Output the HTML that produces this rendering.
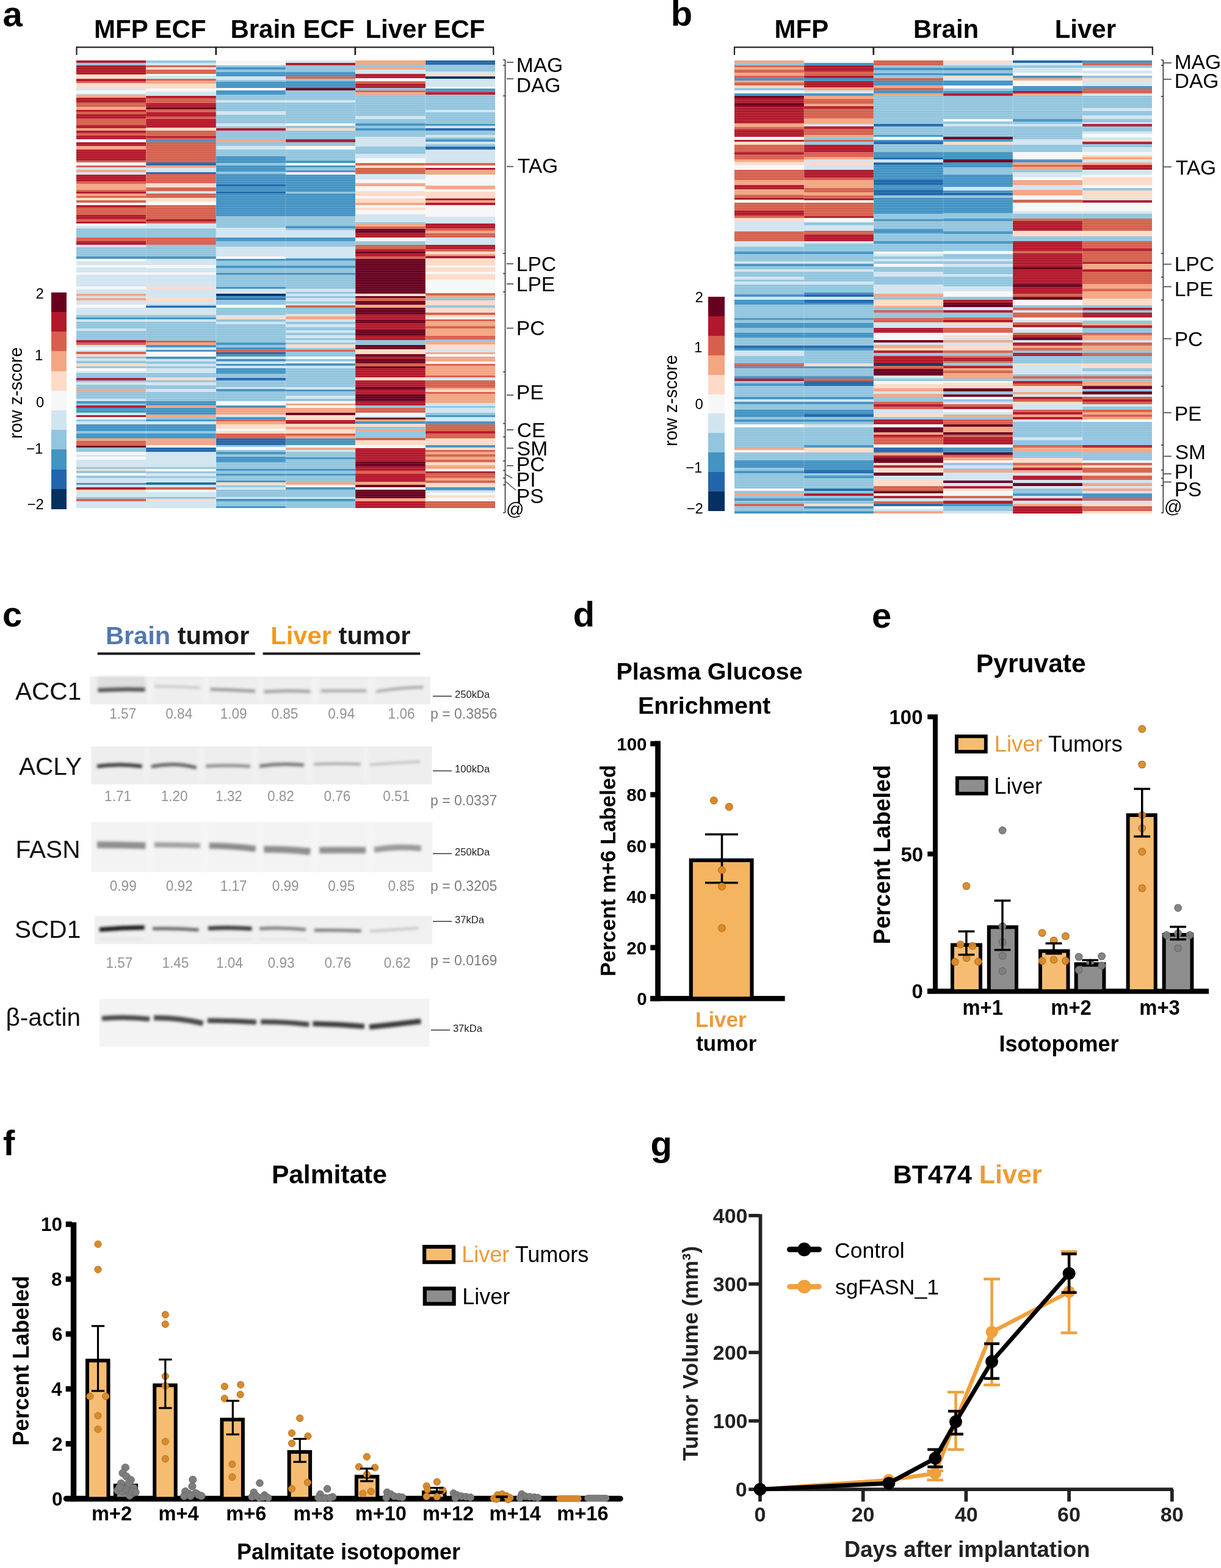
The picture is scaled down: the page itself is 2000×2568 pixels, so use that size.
<!DOCTYPE html>
<html><head><meta charset="utf-8"><title>Figure</title>
<style>
html,body{margin:0;padding:0;background:#fff;}
svg{display:block;}
text{font-family:"Liberation Sans",Arial,sans-serif;}
</style></head>
<body>
<svg width="2000" height="2568" viewBox="0 0 2000 2568">
<rect width="2000" height="2568" fill="#fff"/>
<g shape-rendering="crispEdges">
<rect x="125.00" y="99.00" width="114.63" height="4.30" fill="#b2182b"/>
<rect x="125.00" y="103.00" width="114.63" height="4.30" fill="#92c5de"/>
<rect x="125.00" y="107.00" width="114.63" height="15.30" fill="#b2182b"/>
<rect x="125.00" y="122.00" width="114.63" height="7.30" fill="#fddbc7"/>
<rect x="125.00" y="129.00" width="114.63" height="4.30" fill="#b2182b"/>
<rect x="125.00" y="133.00" width="114.63" height="3.30" fill="#d6604d"/>
<rect x="125.00" y="136.00" width="114.63" height="9.30" fill="#fddbc7"/>
<rect x="125.00" y="145.00" width="114.63" height="3.30" fill="#d1e5f0"/>
<rect x="125.00" y="148.00" width="114.63" height="5.30" fill="#f7f7f7"/>
<rect x="125.00" y="153.00" width="114.63" height="2.30" fill="#d1e5f0"/>
<rect x="125.00" y="155.00" width="114.63" height="5.30" fill="#f4a582"/>
<rect x="125.00" y="160.00" width="114.63" height="8.30" fill="#b2182b"/>
<rect x="125.00" y="168.00" width="114.63" height="7.30" fill="#d6604d"/>
<rect x="125.00" y="175.00" width="114.63" height="5.30" fill="#f4a582"/>
<rect x="125.00" y="180.00" width="114.63" height="3.30" fill="#b2182b"/>
<rect x="125.00" y="183.00" width="114.63" height="4.30" fill="#d6604d"/>
<rect x="125.00" y="187.00" width="114.63" height="7.30" fill="#b2182b"/>
<rect x="125.00" y="194.00" width="114.63" height="11.30" fill="#d6604d"/>
<rect x="125.00" y="205.00" width="114.63" height="5.30" fill="#b2182b"/>
<rect x="125.00" y="210.00" width="114.63" height="4.30" fill="#f4a582"/>
<rect x="125.00" y="214.00" width="114.63" height="4.30" fill="#b2182b"/>
<rect x="125.00" y="218.00" width="114.63" height="4.30" fill="#d6604d"/>
<rect x="125.00" y="222.00" width="114.63" height="6.30" fill="#b2182b"/>
<rect x="125.00" y="228.00" width="114.63" height="5.30" fill="#f7f7f7"/>
<rect x="125.00" y="233.00" width="114.63" height="6.30" fill="#b2182b"/>
<rect x="125.00" y="239.00" width="114.63" height="6.30" fill="#f4a582"/>
<rect x="125.00" y="245.00" width="114.63" height="18.30" fill="#b2182b"/>
<rect x="125.00" y="263.00" width="114.63" height="3.30" fill="#d6604d"/>
<rect x="125.00" y="266.00" width="114.63" height="5.30" fill="#f7f7f7"/>
<rect x="125.00" y="271.00" width="114.63" height="3.30" fill="#d6604d"/>
<rect x="125.00" y="274.00" width="114.63" height="4.30" fill="#d1e5f0"/>
<rect x="125.00" y="278.00" width="114.63" height="4.30" fill="#f4a582"/>
<rect x="125.00" y="282.00" width="114.63" height="4.30" fill="#d1e5f0"/>
<rect x="125.00" y="286.00" width="114.63" height="11.30" fill="#b2182b"/>
<rect x="125.00" y="297.00" width="114.63" height="4.30" fill="#d6604d"/>
<rect x="125.00" y="301.00" width="114.63" height="10.30" fill="#f4a582"/>
<rect x="125.00" y="311.00" width="114.63" height="3.30" fill="#d6604d"/>
<rect x="125.00" y="314.00" width="114.63" height="3.30" fill="#b2182b"/>
<rect x="125.00" y="317.00" width="114.63" height="4.30" fill="#f4a582"/>
<rect x="125.00" y="321.00" width="114.63" height="3.30" fill="#d6604d"/>
<rect x="125.00" y="324.00" width="114.63" height="4.30" fill="#fddbc7"/>
<rect x="125.00" y="328.00" width="114.63" height="4.30" fill="#d6604d"/>
<rect x="125.00" y="332.00" width="114.63" height="4.30" fill="#f7f7f7"/>
<rect x="125.00" y="336.00" width="114.63" height="4.30" fill="#b2182b"/>
<rect x="125.00" y="340.00" width="114.63" height="12.30" fill="#d6604d"/>
<rect x="125.00" y="352.00" width="114.63" height="7.30" fill="#b2182b"/>
<rect x="125.00" y="359.00" width="114.63" height="4.30" fill="#d6604d"/>
<rect x="125.00" y="363.00" width="114.63" height="3.30" fill="#b2182b"/>
<rect x="125.00" y="366.00" width="114.63" height="4.30" fill="#f7f7f7"/>
<rect x="125.00" y="370.00" width="114.63" height="4.30" fill="#d1e5f0"/>
<rect x="125.00" y="374.00" width="114.63" height="15.30" fill="#92c5de"/>
<rect x="125.00" y="389.00" width="114.63" height="6.30" fill="#d6604d"/>
<rect x="125.00" y="395.00" width="114.63" height="6.30" fill="#b2182b"/>
<rect x="125.00" y="401.00" width="114.63" height="4.30" fill="#d1e5f0"/>
<rect x="125.00" y="405.00" width="114.63" height="15.30" fill="#92c5de"/>
<rect x="125.00" y="420.00" width="114.63" height="4.30" fill="#4393c3"/>
<rect x="125.00" y="424.00" width="114.63" height="4.30" fill="#f7f7f7"/>
<rect x="125.00" y="428.00" width="114.63" height="6.30" fill="#d1e5f0"/>
<rect x="125.00" y="434.00" width="114.63" height="4.30" fill="#f7f7f7"/>
<rect x="125.00" y="438.00" width="114.63" height="8.30" fill="#d1e5f0"/>
<rect x="125.00" y="446.00" width="114.63" height="4.30" fill="#f7f7f7"/>
<rect x="125.00" y="450.00" width="114.63" height="19.30" fill="#d1e5f0"/>
<rect x="125.00" y="469.00" width="114.63" height="5.30" fill="#f7f7f7"/>
<rect x="125.00" y="474.00" width="114.63" height="7.30" fill="#d1e5f0"/>
<rect x="125.00" y="481.00" width="114.63" height="4.30" fill="#f4a582"/>
<rect x="125.00" y="485.00" width="114.63" height="3.30" fill="#d1e5f0"/>
<rect x="125.00" y="488.00" width="114.63" height="4.30" fill="#f4a582"/>
<rect x="125.00" y="492.00" width="114.63" height="7.30" fill="#d1e5f0"/>
<rect x="125.00" y="499.00" width="114.63" height="5.30" fill="#f7f7f7"/>
<rect x="125.00" y="504.00" width="114.63" height="12.30" fill="#d1e5f0"/>
<rect x="125.00" y="516.00" width="114.63" height="4.30" fill="#92c5de"/>
<rect x="125.00" y="520.00" width="114.63" height="3.30" fill="#4393c3"/>
<rect x="125.00" y="523.00" width="114.63" height="4.30" fill="#d1e5f0"/>
<rect x="125.00" y="527.00" width="114.63" height="11.30" fill="#92c5de"/>
<rect x="125.00" y="538.00" width="114.63" height="4.30" fill="#d1e5f0"/>
<rect x="125.00" y="542.00" width="114.63" height="15.30" fill="#92c5de"/>
<rect x="125.00" y="557.00" width="114.63" height="4.30" fill="#b2182b"/>
<rect x="125.00" y="561.00" width="114.63" height="4.30" fill="#d6604d"/>
<rect x="125.00" y="565.00" width="114.63" height="4.30" fill="#d1e5f0"/>
<rect x="125.00" y="569.00" width="114.63" height="4.30" fill="#f7f7f7"/>
<rect x="125.00" y="573.00" width="114.63" height="3.30" fill="#d1e5f0"/>
<rect x="125.00" y="576.00" width="114.63" height="4.30" fill="#d6604d"/>
<rect x="125.00" y="580.00" width="114.63" height="4.30" fill="#fddbc7"/>
<rect x="125.00" y="584.00" width="114.63" height="3.30" fill="#92c5de"/>
<rect x="125.00" y="587.00" width="114.63" height="4.30" fill="#d1e5f0"/>
<rect x="125.00" y="591.00" width="114.63" height="4.30" fill="#92c5de"/>
<rect x="125.00" y="595.00" width="114.63" height="5.30" fill="#fddbc7"/>
<rect x="125.00" y="600.00" width="114.63" height="3.30" fill="#92c5de"/>
<rect x="125.00" y="603.00" width="114.63" height="5.30" fill="#f7f7f7"/>
<rect x="125.00" y="608.00" width="114.63" height="3.30" fill="#d1e5f0"/>
<rect x="125.00" y="611.00" width="114.63" height="8.30" fill="#92c5de"/>
<rect x="125.00" y="619.00" width="114.63" height="4.30" fill="#b2182b"/>
<rect x="125.00" y="623.00" width="114.63" height="3.30" fill="#92c5de"/>
<rect x="125.00" y="626.00" width="114.63" height="4.30" fill="#d1e5f0"/>
<rect x="125.00" y="630.00" width="114.63" height="7.30" fill="#92c5de"/>
<rect x="125.00" y="637.00" width="114.63" height="5.30" fill="#f4a582"/>
<rect x="125.00" y="642.00" width="114.63" height="11.30" fill="#92c5de"/>
<rect x="125.00" y="653.00" width="114.63" height="4.30" fill="#d1e5f0"/>
<rect x="125.00" y="657.00" width="114.63" height="4.30" fill="#4393c3"/>
<rect x="125.00" y="661.00" width="114.63" height="3.30" fill="#92c5de"/>
<rect x="125.00" y="664.00" width="114.63" height="4.30" fill="#b2182b"/>
<rect x="125.00" y="668.00" width="114.63" height="8.30" fill="#4393c3"/>
<rect x="125.00" y="676.00" width="114.63" height="4.30" fill="#d1e5f0"/>
<rect x="125.00" y="680.00" width="114.63" height="3.30" fill="#b2182b"/>
<rect x="125.00" y="683.00" width="114.63" height="4.30" fill="#f7f7f7"/>
<rect x="125.00" y="687.00" width="114.63" height="3.30" fill="#92c5de"/>
<rect x="125.00" y="690.00" width="114.63" height="5.30" fill="#d1e5f0"/>
<rect x="125.00" y="695.00" width="114.63" height="11.30" fill="#4393c3"/>
<rect x="125.00" y="706.00" width="114.63" height="4.30" fill="#92c5de"/>
<rect x="125.00" y="710.00" width="114.63" height="8.30" fill="#4393c3"/>
<rect x="125.00" y="718.00" width="114.63" height="4.30" fill="#f4a582"/>
<rect x="125.00" y="722.00" width="114.63" height="8.30" fill="#d6604d"/>
<rect x="125.00" y="730.00" width="114.63" height="3.30" fill="#67001f"/>
<rect x="125.00" y="733.00" width="114.63" height="7.30" fill="#92c5de"/>
<rect x="125.00" y="740.00" width="114.63" height="5.30" fill="#f7f7f7"/>
<rect x="125.00" y="745.00" width="114.63" height="3.30" fill="#d1e5f0"/>
<rect x="125.00" y="748.00" width="114.63" height="5.30" fill="#f7f7f7"/>
<rect x="125.00" y="753.00" width="114.63" height="12.30" fill="#d1e5f0"/>
<rect x="125.00" y="765.00" width="114.63" height="3.30" fill="#92c5de"/>
<rect x="125.00" y="768.00" width="114.63" height="3.30" fill="#fddbc7"/>
<rect x="125.00" y="771.00" width="114.63" height="4.30" fill="#92c5de"/>
<rect x="125.00" y="775.00" width="114.63" height="4.30" fill="#f7f7f7"/>
<rect x="125.00" y="779.00" width="114.63" height="4.30" fill="#92c5de"/>
<rect x="125.00" y="783.00" width="114.63" height="8.30" fill="#d1e5f0"/>
<rect x="125.00" y="791.00" width="114.63" height="3.30" fill="#4393c3"/>
<rect x="125.00" y="794.00" width="114.63" height="4.30" fill="#d1e5f0"/>
<rect x="125.00" y="798.00" width="114.63" height="4.30" fill="#b2182b"/>
<rect x="125.00" y="802.00" width="114.63" height="4.30" fill="#fddbc7"/>
<rect x="125.00" y="806.00" width="114.63" height="8.30" fill="#d1e5f0"/>
<rect x="125.00" y="814.00" width="114.63" height="3.30" fill="#92c5de"/>
<rect x="125.00" y="817.00" width="114.63" height="4.30" fill="#d6604d"/>
<rect x="125.00" y="821.00" width="114.63" height="11.30" fill="#d1e5f0"/>
<rect x="239.33" y="99.00" width="114.63" height="4.30" fill="#92c5de"/>
<rect x="239.33" y="103.00" width="114.63" height="4.30" fill="#d1e5f0"/>
<rect x="239.33" y="107.00" width="114.63" height="3.30" fill="#d6604d"/>
<rect x="239.33" y="110.00" width="114.63" height="4.30" fill="#fddbc7"/>
<rect x="239.33" y="114.00" width="114.63" height="7.30" fill="#d6604d"/>
<rect x="239.33" y="121.00" width="114.63" height="3.30" fill="#f7f7f7"/>
<rect x="239.33" y="124.00" width="114.63" height="5.30" fill="#d1e5f0"/>
<rect x="239.33" y="129.00" width="114.63" height="3.30" fill="#d6604d"/>
<rect x="239.33" y="132.00" width="114.63" height="5.30" fill="#f4a582"/>
<rect x="239.33" y="137.00" width="114.63" height="8.30" fill="#fddbc7"/>
<rect x="239.33" y="145.00" width="114.63" height="5.30" fill="#f7f7f7"/>
<rect x="239.33" y="150.00" width="114.63" height="7.30" fill="#d1e5f0"/>
<rect x="239.33" y="157.00" width="114.63" height="4.30" fill="#b2182b"/>
<rect x="239.33" y="161.00" width="114.63" height="8.30" fill="#d6604d"/>
<rect x="239.33" y="169.00" width="114.63" height="7.30" fill="#b2182b"/>
<rect x="239.33" y="176.00" width="114.63" height="3.30" fill="#67001f"/>
<rect x="239.33" y="179.00" width="114.63" height="5.30" fill="#d6604d"/>
<rect x="239.33" y="184.00" width="114.63" height="7.30" fill="#b2182b"/>
<rect x="239.33" y="191.00" width="114.63" height="4.30" fill="#d6604d"/>
<rect x="239.33" y="195.00" width="114.63" height="14.30" fill="#b2182b"/>
<rect x="239.33" y="209.00" width="114.63" height="5.30" fill="#fddbc7"/>
<rect x="239.33" y="214.00" width="114.63" height="9.30" fill="#d6604d"/>
<rect x="239.33" y="223.00" width="114.63" height="3.30" fill="#b2182b"/>
<rect x="239.33" y="226.00" width="114.63" height="2.30" fill="#d6604d"/>
<rect x="239.33" y="228.00" width="114.63" height="5.30" fill="#4393c3"/>
<rect x="239.33" y="233.00" width="114.63" height="33.30" fill="#d6604d"/>
<rect x="239.33" y="266.00" width="114.63" height="5.30" fill="#2166ac"/>
<rect x="239.33" y="271.00" width="114.63" height="4.30" fill="#f4a582"/>
<rect x="239.33" y="275.00" width="114.63" height="7.30" fill="#d1e5f0"/>
<rect x="239.33" y="282.00" width="114.63" height="3.30" fill="#2166ac"/>
<rect x="239.33" y="285.00" width="114.63" height="15.30" fill="#d6604d"/>
<rect x="239.33" y="300.00" width="114.63" height="7.30" fill="#fddbc7"/>
<rect x="239.33" y="307.00" width="114.63" height="6.30" fill="#d6604d"/>
<rect x="239.33" y="313.00" width="114.63" height="4.30" fill="#d1e5f0"/>
<rect x="239.33" y="317.00" width="114.63" height="7.30" fill="#d6604d"/>
<rect x="239.33" y="324.00" width="114.63" height="6.30" fill="#fddbc7"/>
<rect x="239.33" y="330.00" width="114.63" height="6.30" fill="#f7f7f7"/>
<rect x="239.33" y="336.00" width="114.63" height="23.30" fill="#d6604d"/>
<rect x="239.33" y="359.00" width="114.63" height="4.30" fill="#b2182b"/>
<rect x="239.33" y="363.00" width="114.63" height="3.30" fill="#d6604d"/>
<rect x="239.33" y="366.00" width="114.63" height="8.30" fill="#d1e5f0"/>
<rect x="239.33" y="374.00" width="114.63" height="15.30" fill="#92c5de"/>
<rect x="239.33" y="389.00" width="114.63" height="12.30" fill="#d6604d"/>
<rect x="239.33" y="401.00" width="114.63" height="19.30" fill="#92c5de"/>
<rect x="239.33" y="420.00" width="114.63" height="4.30" fill="#4393c3"/>
<rect x="239.33" y="424.00" width="114.63" height="10.30" fill="#d1e5f0"/>
<rect x="239.33" y="434.00" width="114.63" height="5.30" fill="#f7f7f7"/>
<rect x="239.33" y="439.00" width="114.63" height="7.30" fill="#d1e5f0"/>
<rect x="239.33" y="446.00" width="114.63" height="4.30" fill="#f7f7f7"/>
<rect x="239.33" y="450.00" width="114.63" height="19.30" fill="#d1e5f0"/>
<rect x="239.33" y="469.00" width="114.63" height="5.30" fill="#fddbc7"/>
<rect x="239.33" y="474.00" width="114.63" height="13.30" fill="#d1e5f0"/>
<rect x="239.33" y="487.00" width="114.63" height="7.30" fill="#fddbc7"/>
<rect x="239.33" y="494.00" width="114.63" height="5.30" fill="#d1e5f0"/>
<rect x="239.33" y="499.00" width="114.63" height="2.30" fill="#92c5de"/>
<rect x="239.33" y="501.00" width="114.63" height="3.30" fill="#2166ac"/>
<rect x="239.33" y="504.00" width="114.63" height="12.30" fill="#d1e5f0"/>
<rect x="239.33" y="516.00" width="114.63" height="4.30" fill="#92c5de"/>
<rect x="239.33" y="520.00" width="114.63" height="3.30" fill="#4393c3"/>
<rect x="239.33" y="523.00" width="114.63" height="4.30" fill="#d1e5f0"/>
<rect x="239.33" y="527.00" width="114.63" height="31.30" fill="#92c5de"/>
<rect x="239.33" y="558.00" width="114.63" height="3.30" fill="#d6604d"/>
<rect x="239.33" y="561.00" width="114.63" height="4.30" fill="#f4a582"/>
<rect x="239.33" y="565.00" width="114.63" height="4.30" fill="#4393c3"/>
<rect x="239.33" y="569.00" width="114.63" height="4.30" fill="#d1e5f0"/>
<rect x="239.33" y="573.00" width="114.63" height="3.30" fill="#4393c3"/>
<rect x="239.33" y="576.00" width="114.63" height="8.30" fill="#f7f7f7"/>
<rect x="239.33" y="584.00" width="114.63" height="4.30" fill="#4393c3"/>
<rect x="239.33" y="588.00" width="114.63" height="4.30" fill="#d1e5f0"/>
<rect x="239.33" y="592.00" width="114.63" height="4.30" fill="#92c5de"/>
<rect x="239.33" y="596.00" width="114.63" height="4.30" fill="#d1e5f0"/>
<rect x="239.33" y="600.00" width="114.63" height="3.30" fill="#92c5de"/>
<rect x="239.33" y="603.00" width="114.63" height="8.30" fill="#d1e5f0"/>
<rect x="239.33" y="611.00" width="114.63" height="7.30" fill="#92c5de"/>
<rect x="239.33" y="618.00" width="114.63" height="5.30" fill="#fddbc7"/>
<rect x="239.33" y="623.00" width="114.63" height="3.30" fill="#92c5de"/>
<rect x="239.33" y="626.00" width="114.63" height="5.30" fill="#d1e5f0"/>
<rect x="239.33" y="631.00" width="114.63" height="6.30" fill="#92c5de"/>
<rect x="239.33" y="637.00" width="114.63" height="5.30" fill="#d1e5f0"/>
<rect x="239.33" y="642.00" width="114.63" height="15.30" fill="#92c5de"/>
<rect x="239.33" y="657.00" width="114.63" height="7.30" fill="#4393c3"/>
<rect x="239.33" y="664.00" width="114.63" height="4.30" fill="#f4a582"/>
<rect x="239.33" y="668.00" width="114.63" height="11.30" fill="#4393c3"/>
<rect x="239.33" y="679.00" width="114.63" height="5.30" fill="#f4a582"/>
<rect x="239.33" y="684.00" width="114.63" height="3.30" fill="#92c5de"/>
<rect x="239.33" y="687.00" width="114.63" height="3.30" fill="#4393c3"/>
<rect x="239.33" y="690.00" width="114.63" height="5.30" fill="#d1e5f0"/>
<rect x="239.33" y="695.00" width="114.63" height="11.30" fill="#4393c3"/>
<rect x="239.33" y="706.00" width="114.63" height="4.30" fill="#92c5de"/>
<rect x="239.33" y="710.00" width="114.63" height="8.30" fill="#4393c3"/>
<rect x="239.33" y="718.00" width="114.63" height="11.30" fill="#f4a582"/>
<rect x="239.33" y="729.00" width="114.63" height="4.30" fill="#f7f7f7"/>
<rect x="239.33" y="733.00" width="114.63" height="7.30" fill="#2166ac"/>
<rect x="239.33" y="740.00" width="114.63" height="25.30" fill="#d1e5f0"/>
<rect x="239.33" y="765.00" width="114.63" height="3.30" fill="#92c5de"/>
<rect x="239.33" y="768.00" width="114.63" height="4.30" fill="#f7f7f7"/>
<rect x="239.33" y="772.00" width="114.63" height="3.30" fill="#92c5de"/>
<rect x="239.33" y="775.00" width="114.63" height="5.30" fill="#d1e5f0"/>
<rect x="239.33" y="780.00" width="114.63" height="3.30" fill="#92c5de"/>
<rect x="239.33" y="783.00" width="114.63" height="7.30" fill="#d1e5f0"/>
<rect x="239.33" y="790.00" width="114.63" height="4.30" fill="#2166ac"/>
<rect x="239.33" y="794.00" width="114.63" height="4.30" fill="#d1e5f0"/>
<rect x="239.33" y="798.00" width="114.63" height="4.30" fill="#d6604d"/>
<rect x="239.33" y="802.00" width="114.63" height="4.30" fill="#f7f7f7"/>
<rect x="239.33" y="806.00" width="114.63" height="8.30" fill="#d1e5f0"/>
<rect x="239.33" y="814.00" width="114.63" height="3.30" fill="#92c5de"/>
<rect x="239.33" y="817.00" width="114.63" height="4.30" fill="#fddbc7"/>
<rect x="239.33" y="821.00" width="114.63" height="11.30" fill="#d1e5f0"/>
<rect x="353.67" y="99.00" width="114.63" height="8.30" fill="#f7f7f7"/>
<rect x="353.67" y="107.00" width="114.63" height="3.30" fill="#92c5de"/>
<rect x="353.67" y="110.00" width="114.63" height="4.30" fill="#4393c3"/>
<rect x="353.67" y="114.00" width="114.63" height="4.30" fill="#92c5de"/>
<rect x="353.67" y="118.00" width="114.63" height="7.30" fill="#4393c3"/>
<rect x="353.67" y="125.00" width="114.63" height="6.30" fill="#d1e5f0"/>
<rect x="353.67" y="131.00" width="114.63" height="3.30" fill="#92c5de"/>
<rect x="353.67" y="134.00" width="114.63" height="10.30" fill="#4393c3"/>
<rect x="353.67" y="144.00" width="114.63" height="4.30" fill="#f7f7f7"/>
<rect x="353.67" y="148.00" width="114.63" height="7.30" fill="#4393c3"/>
<rect x="353.67" y="155.00" width="114.63" height="9.30" fill="#92c5de"/>
<rect x="353.67" y="164.00" width="114.63" height="4.30" fill="#d1e5f0"/>
<rect x="353.67" y="168.00" width="114.63" height="14.30" fill="#92c5de"/>
<rect x="353.67" y="182.00" width="114.63" height="6.30" fill="#d1e5f0"/>
<rect x="353.67" y="188.00" width="114.63" height="14.30" fill="#92c5de"/>
<rect x="353.67" y="202.00" width="114.63" height="5.30" fill="#d1e5f0"/>
<rect x="353.67" y="207.00" width="114.63" height="3.30" fill="#92c5de"/>
<rect x="353.67" y="210.00" width="114.63" height="4.30" fill="#b2182b"/>
<rect x="353.67" y="214.00" width="114.63" height="14.30" fill="#92c5de"/>
<rect x="353.67" y="228.00" width="114.63" height="5.30" fill="#f4a582"/>
<rect x="353.67" y="233.00" width="114.63" height="6.30" fill="#92c5de"/>
<rect x="353.67" y="239.00" width="114.63" height="6.30" fill="#d1e5f0"/>
<rect x="353.67" y="245.00" width="114.63" height="11.30" fill="#92c5de"/>
<rect x="353.67" y="256.00" width="114.63" height="11.30" fill="#4393c3"/>
<rect x="353.67" y="267.00" width="114.63" height="4.30" fill="#92c5de"/>
<rect x="353.67" y="271.00" width="114.63" height="10.30" fill="#4393c3"/>
<rect x="353.67" y="281.00" width="114.63" height="4.30" fill="#92c5de"/>
<rect x="353.67" y="285.00" width="114.63" height="17.30" fill="#4393c3"/>
<rect x="353.67" y="302.00" width="114.63" height="3.30" fill="#2166ac"/>
<rect x="353.67" y="305.00" width="114.63" height="9.30" fill="#4393c3"/>
<rect x="353.67" y="314.00" width="114.63" height="3.30" fill="#2166ac"/>
<rect x="353.67" y="317.00" width="114.63" height="37.30" fill="#4393c3"/>
<rect x="353.67" y="354.00" width="114.63" height="19.30" fill="#92c5de"/>
<rect x="353.67" y="373.00" width="114.63" height="16.30" fill="#d1e5f0"/>
<rect x="353.67" y="389.00" width="114.63" height="6.30" fill="#4393c3"/>
<rect x="353.67" y="395.00" width="114.63" height="9.30" fill="#92c5de"/>
<rect x="353.67" y="404.00" width="114.63" height="16.30" fill="#d1e5f0"/>
<rect x="353.67" y="420.00" width="114.63" height="4.30" fill="#f7f7f7"/>
<rect x="353.67" y="424.00" width="114.63" height="3.30" fill="#4393c3"/>
<rect x="353.67" y="427.00" width="114.63" height="8.30" fill="#92c5de"/>
<rect x="353.67" y="435.00" width="114.63" height="4.30" fill="#4393c3"/>
<rect x="353.67" y="439.00" width="114.63" height="8.30" fill="#92c5de"/>
<rect x="353.67" y="447.00" width="114.63" height="3.30" fill="#4393c3"/>
<rect x="353.67" y="450.00" width="114.63" height="20.30" fill="#92c5de"/>
<rect x="353.67" y="470.00" width="114.63" height="3.30" fill="#4393c3"/>
<rect x="353.67" y="473.00" width="114.63" height="8.30" fill="#d1e5f0"/>
<rect x="353.67" y="481.00" width="114.63" height="4.30" fill="#053061"/>
<rect x="353.67" y="485.00" width="114.63" height="3.30" fill="#4393c3"/>
<rect x="353.67" y="488.00" width="114.63" height="3.30" fill="#2166ac"/>
<rect x="353.67" y="491.00" width="114.63" height="8.30" fill="#92c5de"/>
<rect x="353.67" y="499.00" width="114.63" height="5.30" fill="#f7f7f7"/>
<rect x="353.67" y="504.00" width="114.63" height="12.30" fill="#92c5de"/>
<rect x="353.67" y="516.00" width="114.63" height="3.30" fill="#d1e5f0"/>
<rect x="353.67" y="519.00" width="114.63" height="4.30" fill="#fddbc7"/>
<rect x="353.67" y="523.00" width="114.63" height="4.30" fill="#92c5de"/>
<rect x="353.67" y="527.00" width="114.63" height="4.30" fill="#d1e5f0"/>
<rect x="353.67" y="531.00" width="114.63" height="30.30" fill="#92c5de"/>
<rect x="353.67" y="561.00" width="114.63" height="4.30" fill="#4393c3"/>
<rect x="353.67" y="565.00" width="114.63" height="4.30" fill="#92c5de"/>
<rect x="353.67" y="569.00" width="114.63" height="3.30" fill="#4393c3"/>
<rect x="353.67" y="572.00" width="114.63" height="5.30" fill="#d6604d"/>
<rect x="353.67" y="577.00" width="114.63" height="3.30" fill="#2166ac"/>
<rect x="353.67" y="580.00" width="114.63" height="4.30" fill="#4393c3"/>
<rect x="353.67" y="584.00" width="114.63" height="4.30" fill="#d1e5f0"/>
<rect x="353.67" y="588.00" width="114.63" height="4.30" fill="#4393c3"/>
<rect x="353.67" y="592.00" width="114.63" height="4.30" fill="#d1e5f0"/>
<rect x="353.67" y="596.00" width="114.63" height="3.30" fill="#4393c3"/>
<rect x="353.67" y="599.00" width="114.63" height="4.30" fill="#d1e5f0"/>
<rect x="353.67" y="603.00" width="114.63" height="9.30" fill="#4393c3"/>
<rect x="353.67" y="612.00" width="114.63" height="7.30" fill="#92c5de"/>
<rect x="353.67" y="619.00" width="114.63" height="4.30" fill="#2166ac"/>
<rect x="353.67" y="623.00" width="114.63" height="11.30" fill="#92c5de"/>
<rect x="353.67" y="634.00" width="114.63" height="3.30" fill="#d1e5f0"/>
<rect x="353.67" y="637.00" width="114.63" height="4.30" fill="#4393c3"/>
<rect x="353.67" y="641.00" width="114.63" height="16.30" fill="#92c5de"/>
<rect x="353.67" y="657.00" width="114.63" height="7.30" fill="#f7f7f7"/>
<rect x="353.67" y="664.00" width="114.63" height="4.30" fill="#4393c3"/>
<rect x="353.67" y="668.00" width="114.63" height="11.30" fill="#f4a582"/>
<rect x="353.67" y="679.00" width="114.63" height="4.30" fill="#d1e5f0"/>
<rect x="353.67" y="683.00" width="114.63" height="4.30" fill="#4393c3"/>
<rect x="353.67" y="687.00" width="114.63" height="3.30" fill="#d6604d"/>
<rect x="353.67" y="690.00" width="114.63" height="5.30" fill="#f4a582"/>
<rect x="353.67" y="695.00" width="114.63" height="7.30" fill="#fddbc7"/>
<rect x="353.67" y="702.00" width="114.63" height="4.30" fill="#f7f7f7"/>
<rect x="353.67" y="706.00" width="114.63" height="4.30" fill="#fddbc7"/>
<rect x="353.67" y="710.00" width="114.63" height="8.30" fill="#d6604d"/>
<rect x="353.67" y="718.00" width="114.63" height="11.30" fill="#2166ac"/>
<rect x="353.67" y="729.00" width="114.63" height="3.30" fill="#92c5de"/>
<rect x="353.67" y="732.00" width="114.63" height="5.30" fill="#f7f7f7"/>
<rect x="353.67" y="737.00" width="114.63" height="3.30" fill="#92c5de"/>
<rect x="353.67" y="740.00" width="114.63" height="4.30" fill="#4393c3"/>
<rect x="353.67" y="744.00" width="114.63" height="4.30" fill="#92c5de"/>
<rect x="353.67" y="748.00" width="114.63" height="9.30" fill="#4393c3"/>
<rect x="353.67" y="757.00" width="114.63" height="11.30" fill="#92c5de"/>
<rect x="353.67" y="768.00" width="114.63" height="3.30" fill="#4393c3"/>
<rect x="353.67" y="771.00" width="114.63" height="5.30" fill="#92c5de"/>
<rect x="353.67" y="776.00" width="114.63" height="3.30" fill="#4393c3"/>
<rect x="353.67" y="779.00" width="114.63" height="8.30" fill="#92c5de"/>
<rect x="353.67" y="787.00" width="114.63" height="3.30" fill="#4393c3"/>
<rect x="353.67" y="790.00" width="114.63" height="5.30" fill="#fddbc7"/>
<rect x="353.67" y="795.00" width="114.63" height="3.30" fill="#92c5de"/>
<rect x="353.67" y="798.00" width="114.63" height="4.30" fill="#d1e5f0"/>
<rect x="353.67" y="802.00" width="114.63" height="12.30" fill="#92c5de"/>
<rect x="353.67" y="814.00" width="114.63" height="3.30" fill="#d1e5f0"/>
<rect x="353.67" y="817.00" width="114.63" height="4.30" fill="#4393c3"/>
<rect x="353.67" y="821.00" width="114.63" height="8.30" fill="#92c5de"/>
<rect x="353.67" y="829.00" width="114.63" height="3.30" fill="#4393c3"/>
<rect x="468.00" y="99.00" width="114.63" height="4.30" fill="#d1e5f0"/>
<rect x="468.00" y="103.00" width="114.63" height="4.30" fill="#b2182b"/>
<rect x="468.00" y="107.00" width="114.63" height="11.30" fill="#92c5de"/>
<rect x="468.00" y="118.00" width="114.63" height="7.30" fill="#4393c3"/>
<rect x="468.00" y="125.00" width="114.63" height="4.30" fill="#d6604d"/>
<rect x="468.00" y="129.00" width="114.63" height="4.30" fill="#92c5de"/>
<rect x="468.00" y="133.00" width="114.63" height="11.30" fill="#4393c3"/>
<rect x="468.00" y="144.00" width="114.63" height="4.30" fill="#67001f"/>
<rect x="468.00" y="148.00" width="114.63" height="16.30" fill="#92c5de"/>
<rect x="468.00" y="164.00" width="114.63" height="4.30" fill="#d1e5f0"/>
<rect x="468.00" y="168.00" width="114.63" height="34.30" fill="#92c5de"/>
<rect x="468.00" y="202.00" width="114.63" height="4.30" fill="#f7f7f7"/>
<rect x="468.00" y="206.00" width="114.63" height="4.30" fill="#92c5de"/>
<rect x="468.00" y="210.00" width="114.63" height="4.30" fill="#fddbc7"/>
<rect x="468.00" y="214.00" width="114.63" height="14.30" fill="#92c5de"/>
<rect x="468.00" y="228.00" width="114.63" height="5.30" fill="#b2182b"/>
<rect x="468.00" y="233.00" width="114.63" height="6.30" fill="#92c5de"/>
<rect x="468.00" y="239.00" width="114.63" height="6.30" fill="#f7f7f7"/>
<rect x="468.00" y="245.00" width="114.63" height="18.30" fill="#92c5de"/>
<rect x="468.00" y="263.00" width="114.63" height="4.30" fill="#4393c3"/>
<rect x="468.00" y="267.00" width="114.63" height="4.30" fill="#f7f7f7"/>
<rect x="468.00" y="271.00" width="114.63" height="3.30" fill="#4393c3"/>
<rect x="468.00" y="274.00" width="114.63" height="5.30" fill="#92c5de"/>
<rect x="468.00" y="279.00" width="114.63" height="3.30" fill="#4393c3"/>
<rect x="468.00" y="282.00" width="114.63" height="4.30" fill="#f7f7f7"/>
<rect x="468.00" y="286.00" width="114.63" height="28.30" fill="#4393c3"/>
<rect x="468.00" y="314.00" width="114.63" height="3.30" fill="#92c5de"/>
<rect x="468.00" y="317.00" width="114.63" height="37.30" fill="#4393c3"/>
<rect x="468.00" y="354.00" width="114.63" height="16.30" fill="#92c5de"/>
<rect x="468.00" y="370.00" width="114.63" height="4.30" fill="#4393c3"/>
<rect x="468.00" y="374.00" width="114.63" height="3.30" fill="#92c5de"/>
<rect x="468.00" y="377.00" width="114.63" height="12.30" fill="#d1e5f0"/>
<rect x="468.00" y="389.00" width="114.63" height="6.30" fill="#4393c3"/>
<rect x="468.00" y="395.00" width="114.63" height="9.30" fill="#92c5de"/>
<rect x="468.00" y="404.00" width="114.63" height="19.30" fill="#d1e5f0"/>
<rect x="468.00" y="423.00" width="114.63" height="4.30" fill="#4393c3"/>
<rect x="468.00" y="427.00" width="114.63" height="8.30" fill="#92c5de"/>
<rect x="468.00" y="435.00" width="114.63" height="4.30" fill="#4393c3"/>
<rect x="468.00" y="439.00" width="114.63" height="8.30" fill="#92c5de"/>
<rect x="468.00" y="447.00" width="114.63" height="3.30" fill="#4393c3"/>
<rect x="468.00" y="450.00" width="114.63" height="23.30" fill="#92c5de"/>
<rect x="468.00" y="473.00" width="114.63" height="5.30" fill="#d1e5f0"/>
<rect x="468.00" y="478.00" width="114.63" height="3.30" fill="#92c5de"/>
<rect x="468.00" y="481.00" width="114.63" height="4.30" fill="#d1e5f0"/>
<rect x="468.00" y="485.00" width="114.63" height="3.30" fill="#92c5de"/>
<rect x="468.00" y="488.00" width="114.63" height="6.30" fill="#d1e5f0"/>
<rect x="468.00" y="494.00" width="114.63" height="3.30" fill="#92c5de"/>
<rect x="468.00" y="497.00" width="114.63" height="3.30" fill="#d1e5f0"/>
<rect x="468.00" y="500.00" width="114.63" height="4.30" fill="#d6604d"/>
<rect x="468.00" y="504.00" width="114.63" height="10.30" fill="#92c5de"/>
<rect x="468.00" y="514.00" width="114.63" height="4.30" fill="#d1e5f0"/>
<rect x="468.00" y="518.00" width="114.63" height="5.30" fill="#f4a582"/>
<rect x="468.00" y="523.00" width="114.63" height="4.30" fill="#d1e5f0"/>
<rect x="468.00" y="527.00" width="114.63" height="4.30" fill="#92c5de"/>
<rect x="468.00" y="531.00" width="114.63" height="5.30" fill="#d1e5f0"/>
<rect x="468.00" y="536.00" width="114.63" height="5.30" fill="#92c5de"/>
<rect x="468.00" y="541.00" width="114.63" height="4.30" fill="#d1e5f0"/>
<rect x="468.00" y="545.00" width="114.63" height="4.30" fill="#92c5de"/>
<rect x="468.00" y="549.00" width="114.63" height="5.30" fill="#d1e5f0"/>
<rect x="468.00" y="554.00" width="114.63" height="3.30" fill="#92c5de"/>
<rect x="468.00" y="557.00" width="114.63" height="4.30" fill="#d1e5f0"/>
<rect x="468.00" y="561.00" width="114.63" height="3.30" fill="#92c5de"/>
<rect x="468.00" y="564.00" width="114.63" height="6.30" fill="#fddbc7"/>
<rect x="468.00" y="570.00" width="114.63" height="3.30" fill="#92c5de"/>
<rect x="468.00" y="573.00" width="114.63" height="3.30" fill="#d6604d"/>
<rect x="468.00" y="576.00" width="114.63" height="8.30" fill="#92c5de"/>
<rect x="468.00" y="584.00" width="114.63" height="4.30" fill="#f7f7f7"/>
<rect x="468.00" y="588.00" width="114.63" height="4.30" fill="#92c5de"/>
<rect x="468.00" y="592.00" width="114.63" height="3.30" fill="#f7f7f7"/>
<rect x="468.00" y="595.00" width="114.63" height="4.30" fill="#4393c3"/>
<rect x="468.00" y="599.00" width="114.63" height="4.30" fill="#d1e5f0"/>
<rect x="468.00" y="603.00" width="114.63" height="31.30" fill="#92c5de"/>
<rect x="468.00" y="634.00" width="114.63" height="4.30" fill="#d1e5f0"/>
<rect x="468.00" y="638.00" width="114.63" height="3.30" fill="#4393c3"/>
<rect x="468.00" y="641.00" width="114.63" height="7.30" fill="#92c5de"/>
<rect x="468.00" y="648.00" width="114.63" height="5.30" fill="#d1e5f0"/>
<rect x="468.00" y="653.00" width="114.63" height="4.30" fill="#92c5de"/>
<rect x="468.00" y="657.00" width="114.63" height="4.30" fill="#f7f7f7"/>
<rect x="468.00" y="661.00" width="114.63" height="3.30" fill="#f4a582"/>
<rect x="468.00" y="664.00" width="114.63" height="4.30" fill="#f7f7f7"/>
<rect x="468.00" y="668.00" width="114.63" height="8.30" fill="#f4a582"/>
<rect x="468.00" y="676.00" width="114.63" height="4.30" fill="#67001f"/>
<rect x="468.00" y="680.00" width="114.63" height="8.30" fill="#fddbc7"/>
<rect x="468.00" y="688.00" width="114.63" height="6.30" fill="#b2182b"/>
<rect x="468.00" y="694.00" width="114.63" height="5.30" fill="#fddbc7"/>
<rect x="468.00" y="699.00" width="114.63" height="4.30" fill="#f4a582"/>
<rect x="468.00" y="703.00" width="114.63" height="7.30" fill="#fddbc7"/>
<rect x="468.00" y="710.00" width="114.63" height="4.30" fill="#d6604d"/>
<rect x="468.00" y="714.00" width="114.63" height="4.30" fill="#f4a582"/>
<rect x="468.00" y="718.00" width="114.63" height="11.30" fill="#4393c3"/>
<rect x="468.00" y="729.00" width="114.63" height="4.30" fill="#f7f7f7"/>
<rect x="468.00" y="733.00" width="114.63" height="4.30" fill="#f4a582"/>
<rect x="468.00" y="737.00" width="114.63" height="3.30" fill="#d1e5f0"/>
<rect x="468.00" y="740.00" width="114.63" height="9.30" fill="#92c5de"/>
<rect x="468.00" y="749.00" width="114.63" height="3.30" fill="#4393c3"/>
<rect x="468.00" y="752.00" width="114.63" height="16.30" fill="#92c5de"/>
<rect x="468.00" y="768.00" width="114.63" height="3.30" fill="#4393c3"/>
<rect x="468.00" y="771.00" width="114.63" height="5.30" fill="#92c5de"/>
<rect x="468.00" y="776.00" width="114.63" height="3.30" fill="#4393c3"/>
<rect x="468.00" y="779.00" width="114.63" height="11.30" fill="#92c5de"/>
<rect x="468.00" y="790.00" width="114.63" height="4.30" fill="#f4a582"/>
<rect x="468.00" y="794.00" width="114.63" height="4.30" fill="#f7f7f7"/>
<rect x="468.00" y="798.00" width="114.63" height="4.30" fill="#4393c3"/>
<rect x="468.00" y="802.00" width="114.63" height="12.30" fill="#92c5de"/>
<rect x="468.00" y="814.00" width="114.63" height="3.30" fill="#d1e5f0"/>
<rect x="468.00" y="817.00" width="114.63" height="4.30" fill="#4393c3"/>
<rect x="468.00" y="821.00" width="114.63" height="11.30" fill="#92c5de"/>
<rect x="582.33" y="99.00" width="114.63" height="7.30" fill="#f4a582"/>
<rect x="582.33" y="106.00" width="114.63" height="4.30" fill="#92c5de"/>
<rect x="582.33" y="110.00" width="114.63" height="4.30" fill="#f4a582"/>
<rect x="582.33" y="114.00" width="114.63" height="7.30" fill="#d1e5f0"/>
<rect x="582.33" y="121.00" width="114.63" height="7.30" fill="#b2182b"/>
<rect x="582.33" y="128.00" width="114.63" height="5.30" fill="#f7f7f7"/>
<rect x="582.33" y="133.00" width="114.63" height="4.30" fill="#d6604d"/>
<rect x="582.33" y="137.00" width="114.63" height="7.30" fill="#b2182b"/>
<rect x="582.33" y="144.00" width="114.63" height="4.30" fill="#92c5de"/>
<rect x="582.33" y="148.00" width="114.63" height="3.30" fill="#d6604d"/>
<rect x="582.33" y="151.00" width="114.63" height="4.30" fill="#f4a582"/>
<rect x="582.33" y="155.00" width="114.63" height="35.30" fill="#92c5de"/>
<rect x="582.33" y="190.00" width="114.63" height="5.30" fill="#d1e5f0"/>
<rect x="582.33" y="195.00" width="114.63" height="7.30" fill="#92c5de"/>
<rect x="582.33" y="202.00" width="114.63" height="4.30" fill="#4393c3"/>
<rect x="582.33" y="206.00" width="114.63" height="4.30" fill="#92c5de"/>
<rect x="582.33" y="210.00" width="114.63" height="4.30" fill="#4393c3"/>
<rect x="582.33" y="214.00" width="114.63" height="10.30" fill="#92c5de"/>
<rect x="582.33" y="224.00" width="114.63" height="16.30" fill="#d1e5f0"/>
<rect x="582.33" y="240.00" width="114.63" height="12.30" fill="#92c5de"/>
<rect x="582.33" y="252.00" width="114.63" height="7.30" fill="#d1e5f0"/>
<rect x="582.33" y="259.00" width="114.63" height="8.30" fill="#f7f7f7"/>
<rect x="582.33" y="267.00" width="114.63" height="4.30" fill="#d6604d"/>
<rect x="582.33" y="271.00" width="114.63" height="4.30" fill="#fddbc7"/>
<rect x="582.33" y="275.00" width="114.63" height="10.30" fill="#d6604d"/>
<rect x="582.33" y="285.00" width="114.63" height="9.30" fill="#d1e5f0"/>
<rect x="582.33" y="294.00" width="114.63" height="6.30" fill="#f7f7f7"/>
<rect x="582.33" y="300.00" width="114.63" height="5.30" fill="#f4a582"/>
<rect x="582.33" y="305.00" width="114.63" height="8.30" fill="#f7f7f7"/>
<rect x="582.33" y="313.00" width="114.63" height="8.30" fill="#fddbc7"/>
<rect x="582.33" y="321.00" width="114.63" height="4.30" fill="#f7f7f7"/>
<rect x="582.33" y="325.00" width="114.63" height="7.30" fill="#fddbc7"/>
<rect x="582.33" y="332.00" width="114.63" height="4.30" fill="#f4a582"/>
<rect x="582.33" y="336.00" width="114.63" height="4.30" fill="#f7f7f7"/>
<rect x="582.33" y="340.00" width="114.63" height="4.30" fill="#fddbc7"/>
<rect x="582.33" y="344.00" width="114.63" height="7.30" fill="#f7f7f7"/>
<rect x="582.33" y="351.00" width="114.63" height="13.30" fill="#d1e5f0"/>
<rect x="582.33" y="364.00" width="114.63" height="3.30" fill="#92c5de"/>
<rect x="582.33" y="367.00" width="114.63" height="4.30" fill="#f4a582"/>
<rect x="582.33" y="371.00" width="114.63" height="4.30" fill="#d6604d"/>
<rect x="582.33" y="375.00" width="114.63" height="6.30" fill="#67001f"/>
<rect x="582.33" y="381.00" width="114.63" height="8.30" fill="#b2182b"/>
<rect x="582.33" y="389.00" width="114.63" height="6.30" fill="#f7f7f7"/>
<rect x="582.33" y="395.00" width="114.63" height="6.30" fill="#92c5de"/>
<rect x="582.33" y="401.00" width="114.63" height="7.30" fill="#d6604d"/>
<rect x="582.33" y="408.00" width="114.63" height="4.30" fill="#b2182b"/>
<rect x="582.33" y="412.00" width="114.63" height="3.30" fill="#67001f"/>
<rect x="582.33" y="415.00" width="114.63" height="5.30" fill="#b2182b"/>
<rect x="582.33" y="420.00" width="114.63" height="4.30" fill="#d6604d"/>
<rect x="582.33" y="424.00" width="114.63" height="57.30" fill="#67001f"/>
<rect x="582.33" y="481.00" width="114.63" height="4.30" fill="#fddbc7"/>
<rect x="582.33" y="485.00" width="114.63" height="3.30" fill="#67001f"/>
<rect x="582.33" y="488.00" width="114.63" height="5.30" fill="#d6604d"/>
<rect x="582.33" y="493.00" width="114.63" height="6.30" fill="#67001f"/>
<rect x="582.33" y="499.00" width="114.63" height="5.30" fill="#f4a582"/>
<rect x="582.33" y="504.00" width="114.63" height="11.30" fill="#67001f"/>
<rect x="582.33" y="515.00" width="114.63" height="9.30" fill="#b2182b"/>
<rect x="582.33" y="524.00" width="114.63" height="5.30" fill="#67001f"/>
<rect x="582.33" y="529.00" width="114.63" height="11.30" fill="#b2182b"/>
<rect x="582.33" y="540.00" width="114.63" height="10.30" fill="#67001f"/>
<rect x="582.33" y="550.00" width="114.63" height="7.30" fill="#b2182b"/>
<rect x="582.33" y="557.00" width="114.63" height="8.30" fill="#92c5de"/>
<rect x="582.33" y="565.00" width="114.63" height="7.30" fill="#67001f"/>
<rect x="582.33" y="572.00" width="114.63" height="8.30" fill="#fddbc7"/>
<rect x="582.33" y="580.00" width="114.63" height="4.30" fill="#67001f"/>
<rect x="582.33" y="584.00" width="114.63" height="4.30" fill="#b2182b"/>
<rect x="582.33" y="588.00" width="114.63" height="7.30" fill="#67001f"/>
<rect x="582.33" y="595.00" width="114.63" height="5.30" fill="#d6604d"/>
<rect x="582.33" y="600.00" width="114.63" height="3.30" fill="#67001f"/>
<rect x="582.33" y="603.00" width="114.63" height="15.30" fill="#b2182b"/>
<rect x="582.33" y="618.00" width="114.63" height="5.30" fill="#fddbc7"/>
<rect x="582.33" y="623.00" width="114.63" height="11.30" fill="#b2182b"/>
<rect x="582.33" y="634.00" width="114.63" height="4.30" fill="#67001f"/>
<rect x="582.33" y="638.00" width="114.63" height="8.30" fill="#b2182b"/>
<rect x="582.33" y="646.00" width="114.63" height="11.30" fill="#67001f"/>
<rect x="582.33" y="657.00" width="114.63" height="7.30" fill="#b2182b"/>
<rect x="582.33" y="664.00" width="114.63" height="4.30" fill="#92c5de"/>
<rect x="582.33" y="668.00" width="114.63" height="8.30" fill="#d6604d"/>
<rect x="582.33" y="676.00" width="114.63" height="5.30" fill="#f7f7f7"/>
<rect x="582.33" y="681.00" width="114.63" height="3.30" fill="#d1e5f0"/>
<rect x="582.33" y="684.00" width="114.63" height="3.30" fill="#67001f"/>
<rect x="582.33" y="687.00" width="114.63" height="3.30" fill="#f4a582"/>
<rect x="582.33" y="690.00" width="114.63" height="4.30" fill="#4393c3"/>
<rect x="582.33" y="694.00" width="114.63" height="5.30" fill="#fddbc7"/>
<rect x="582.33" y="699.00" width="114.63" height="4.30" fill="#92c5de"/>
<rect x="582.33" y="703.00" width="114.63" height="3.30" fill="#f4a582"/>
<rect x="582.33" y="706.00" width="114.63" height="11.30" fill="#92c5de"/>
<rect x="582.33" y="717.00" width="114.63" height="4.30" fill="#d6604d"/>
<rect x="582.33" y="721.00" width="114.63" height="8.30" fill="#fddbc7"/>
<rect x="582.33" y="729.00" width="114.63" height="5.30" fill="#f7f7f7"/>
<rect x="582.33" y="734.00" width="114.63" height="22.30" fill="#b2182b"/>
<rect x="582.33" y="756.00" width="114.63" height="8.30" fill="#67001f"/>
<rect x="582.33" y="764.00" width="114.63" height="7.30" fill="#b2182b"/>
<rect x="582.33" y="771.00" width="114.63" height="5.30" fill="#d6604d"/>
<rect x="582.33" y="776.00" width="114.63" height="13.30" fill="#b2182b"/>
<rect x="582.33" y="789.00" width="114.63" height="5.30" fill="#f4a582"/>
<rect x="582.33" y="794.00" width="114.63" height="4.30" fill="#67001f"/>
<rect x="582.33" y="798.00" width="114.63" height="4.30" fill="#f7f7f7"/>
<rect x="582.33" y="802.00" width="114.63" height="14.30" fill="#67001f"/>
<rect x="582.33" y="816.00" width="114.63" height="5.30" fill="#f4a582"/>
<rect x="582.33" y="821.00" width="114.63" height="11.30" fill="#b2182b"/>
<rect x="696.67" y="99.00" width="114.63" height="7.30" fill="#2166ac"/>
<rect x="696.67" y="106.00" width="114.63" height="11.30" fill="#92c5de"/>
<rect x="696.67" y="117.00" width="114.63" height="4.30" fill="#d1e5f0"/>
<rect x="696.67" y="121.00" width="114.63" height="4.30" fill="#fddbc7"/>
<rect x="696.67" y="125.00" width="114.63" height="4.30" fill="#053061"/>
<rect x="696.67" y="129.00" width="114.63" height="13.30" fill="#d1e5f0"/>
<rect x="696.67" y="142.00" width="114.63" height="3.30" fill="#f7f7f7"/>
<rect x="696.67" y="145.00" width="114.63" height="4.30" fill="#4393c3"/>
<rect x="696.67" y="149.00" width="114.63" height="2.30" fill="#d6604d"/>
<rect x="696.67" y="151.00" width="114.63" height="4.30" fill="#b2182b"/>
<rect x="696.67" y="155.00" width="114.63" height="25.30" fill="#92c5de"/>
<rect x="696.67" y="180.00" width="114.63" height="4.30" fill="#d1e5f0"/>
<rect x="696.67" y="184.00" width="114.63" height="19.30" fill="#92c5de"/>
<rect x="696.67" y="203.00" width="114.63" height="3.30" fill="#4393c3"/>
<rect x="696.67" y="206.00" width="114.63" height="4.30" fill="#d1e5f0"/>
<rect x="696.67" y="210.00" width="114.63" height="4.30" fill="#2166ac"/>
<rect x="696.67" y="214.00" width="114.63" height="7.30" fill="#92c5de"/>
<rect x="696.67" y="221.00" width="114.63" height="4.30" fill="#d1e5f0"/>
<rect x="696.67" y="225.00" width="114.63" height="3.30" fill="#92c5de"/>
<rect x="696.67" y="228.00" width="114.63" height="4.30" fill="#4393c3"/>
<rect x="696.67" y="232.00" width="114.63" height="4.30" fill="#d1e5f0"/>
<rect x="696.67" y="236.00" width="114.63" height="4.30" fill="#92c5de"/>
<rect x="696.67" y="240.00" width="114.63" height="5.30" fill="#2166ac"/>
<rect x="696.67" y="245.00" width="114.63" height="22.30" fill="#d1e5f0"/>
<rect x="696.67" y="267.00" width="114.63" height="4.30" fill="#d6604d"/>
<rect x="696.67" y="271.00" width="114.63" height="4.30" fill="#f7f7f7"/>
<rect x="696.67" y="275.00" width="114.63" height="3.30" fill="#b2182b"/>
<rect x="696.67" y="278.00" width="114.63" height="8.30" fill="#f4a582"/>
<rect x="696.67" y="286.00" width="114.63" height="18.30" fill="#f7f7f7"/>
<rect x="696.67" y="304.00" width="114.63" height="6.30" fill="#f4a582"/>
<rect x="696.67" y="310.00" width="114.63" height="4.30" fill="#f7f7f7"/>
<rect x="696.67" y="314.00" width="114.63" height="11.30" fill="#fddbc7"/>
<rect x="696.67" y="325.00" width="114.63" height="3.30" fill="#b2182b"/>
<rect x="696.67" y="328.00" width="114.63" height="4.30" fill="#f4a582"/>
<rect x="696.67" y="332.00" width="114.63" height="4.30" fill="#b2182b"/>
<rect x="696.67" y="336.00" width="114.63" height="19.30" fill="#f7f7f7"/>
<rect x="696.67" y="355.00" width="114.63" height="11.30" fill="#d1e5f0"/>
<rect x="696.67" y="366.00" width="114.63" height="8.30" fill="#b2182b"/>
<rect x="696.67" y="374.00" width="114.63" height="4.30" fill="#d6604d"/>
<rect x="696.67" y="378.00" width="114.63" height="4.30" fill="#f4a582"/>
<rect x="696.67" y="382.00" width="114.63" height="7.30" fill="#d6604d"/>
<rect x="696.67" y="389.00" width="114.63" height="12.30" fill="#d1e5f0"/>
<rect x="696.67" y="401.00" width="114.63" height="7.30" fill="#b2182b"/>
<rect x="696.67" y="408.00" width="114.63" height="4.30" fill="#d6604d"/>
<rect x="696.67" y="412.00" width="114.63" height="4.30" fill="#fddbc7"/>
<rect x="696.67" y="416.00" width="114.63" height="3.30" fill="#f4a582"/>
<rect x="696.67" y="419.00" width="114.63" height="4.30" fill="#b2182b"/>
<rect x="696.67" y="423.00" width="114.63" height="12.30" fill="#fddbc7"/>
<rect x="696.67" y="435.00" width="114.63" height="3.30" fill="#f7f7f7"/>
<rect x="696.67" y="438.00" width="114.63" height="7.30" fill="#fddbc7"/>
<rect x="696.67" y="445.00" width="114.63" height="4.30" fill="#f7f7f7"/>
<rect x="696.67" y="449.00" width="114.63" height="9.30" fill="#fddbc7"/>
<rect x="696.67" y="458.00" width="114.63" height="22.30" fill="#f7f7f7"/>
<rect x="696.67" y="480.00" width="114.63" height="4.30" fill="#d6604d"/>
<rect x="696.67" y="484.00" width="114.63" height="4.30" fill="#f4a582"/>
<rect x="696.67" y="488.00" width="114.63" height="4.30" fill="#92c5de"/>
<rect x="696.67" y="492.00" width="114.63" height="8.30" fill="#fddbc7"/>
<rect x="696.67" y="500.00" width="114.63" height="4.30" fill="#92c5de"/>
<rect x="696.67" y="504.00" width="114.63" height="8.30" fill="#fddbc7"/>
<rect x="696.67" y="512.00" width="114.63" height="4.30" fill="#d6604d"/>
<rect x="696.67" y="516.00" width="114.63" height="4.30" fill="#fddbc7"/>
<rect x="696.67" y="520.00" width="114.63" height="3.30" fill="#f7f7f7"/>
<rect x="696.67" y="523.00" width="114.63" height="3.30" fill="#d6604d"/>
<rect x="696.67" y="526.00" width="114.63" height="8.30" fill="#f4a582"/>
<rect x="696.67" y="534.00" width="114.63" height="4.30" fill="#d6604d"/>
<rect x="696.67" y="538.00" width="114.63" height="12.30" fill="#f4a582"/>
<rect x="696.67" y="550.00" width="114.63" height="6.30" fill="#d6604d"/>
<rect x="696.67" y="556.00" width="114.63" height="4.30" fill="#92c5de"/>
<rect x="696.67" y="560.00" width="114.63" height="4.30" fill="#f4a582"/>
<rect x="696.67" y="564.00" width="114.63" height="8.30" fill="#fddbc7"/>
<rect x="696.67" y="572.00" width="114.63" height="5.30" fill="#d1e5f0"/>
<rect x="696.67" y="577.00" width="114.63" height="3.30" fill="#f4a582"/>
<rect x="696.67" y="580.00" width="114.63" height="4.30" fill="#f7f7f7"/>
<rect x="696.67" y="584.00" width="114.63" height="8.30" fill="#f4a582"/>
<rect x="696.67" y="592.00" width="114.63" height="4.30" fill="#f7f7f7"/>
<rect x="696.67" y="596.00" width="114.63" height="3.30" fill="#d6604d"/>
<rect x="696.67" y="599.00" width="114.63" height="16.30" fill="#f4a582"/>
<rect x="696.67" y="615.00" width="114.63" height="3.30" fill="#d6604d"/>
<rect x="696.67" y="618.00" width="114.63" height="5.30" fill="#d1e5f0"/>
<rect x="696.67" y="623.00" width="114.63" height="12.30" fill="#d6604d"/>
<rect x="696.67" y="635.00" width="114.63" height="3.30" fill="#f4a582"/>
<rect x="696.67" y="638.00" width="114.63" height="4.30" fill="#fddbc7"/>
<rect x="696.67" y="642.00" width="114.63" height="3.30" fill="#d6604d"/>
<rect x="696.67" y="645.00" width="114.63" height="15.30" fill="#f4a582"/>
<rect x="696.67" y="660.00" width="114.63" height="5.30" fill="#d1e5f0"/>
<rect x="696.67" y="665.00" width="114.63" height="3.30" fill="#92c5de"/>
<rect x="696.67" y="668.00" width="114.63" height="8.30" fill="#d1e5f0"/>
<rect x="696.67" y="676.00" width="114.63" height="4.30" fill="#92c5de"/>
<rect x="696.67" y="680.00" width="114.63" height="3.30" fill="#4393c3"/>
<rect x="696.67" y="683.00" width="114.63" height="7.30" fill="#d1e5f0"/>
<rect x="696.67" y="690.00" width="114.63" height="5.30" fill="#4393c3"/>
<rect x="696.67" y="695.00" width="114.63" height="11.30" fill="#d6604d"/>
<rect x="696.67" y="706.00" width="114.63" height="4.30" fill="#b2182b"/>
<rect x="696.67" y="710.00" width="114.63" height="8.30" fill="#d6604d"/>
<rect x="696.67" y="718.00" width="114.63" height="11.30" fill="#fddbc7"/>
<rect x="696.67" y="729.00" width="114.63" height="4.30" fill="#4393c3"/>
<rect x="696.67" y="733.00" width="114.63" height="4.30" fill="#fddbc7"/>
<rect x="696.67" y="737.00" width="114.63" height="3.30" fill="#d6604d"/>
<rect x="696.67" y="740.00" width="114.63" height="4.30" fill="#f4a582"/>
<rect x="696.67" y="744.00" width="114.63" height="4.30" fill="#d6604d"/>
<rect x="696.67" y="748.00" width="114.63" height="5.30" fill="#f4a582"/>
<rect x="696.67" y="753.00" width="114.63" height="4.30" fill="#d6604d"/>
<rect x="696.67" y="757.00" width="114.63" height="5.30" fill="#fddbc7"/>
<rect x="696.67" y="762.00" width="114.63" height="6.30" fill="#f4a582"/>
<rect x="696.67" y="768.00" width="114.63" height="4.30" fill="#f7f7f7"/>
<rect x="696.67" y="772.00" width="114.63" height="3.30" fill="#b2182b"/>
<rect x="696.67" y="775.00" width="114.63" height="8.30" fill="#d6604d"/>
<rect x="696.67" y="783.00" width="114.63" height="4.30" fill="#f4a582"/>
<rect x="696.67" y="787.00" width="114.63" height="4.30" fill="#d6604d"/>
<rect x="696.67" y="791.00" width="114.63" height="7.30" fill="#fddbc7"/>
<rect x="696.67" y="798.00" width="114.63" height="5.30" fill="#4393c3"/>
<rect x="696.67" y="803.00" width="114.63" height="4.30" fill="#d1e5f0"/>
<rect x="696.67" y="807.00" width="114.63" height="4.30" fill="#f7f7f7"/>
<rect x="696.67" y="811.00" width="114.63" height="4.30" fill="#fddbc7"/>
<rect x="696.67" y="815.00" width="114.63" height="6.30" fill="#f7f7f7"/>
<rect x="696.67" y="821.00" width="114.63" height="11.30" fill="#d6604d"/>
</g>
<path d="M125,102.82h686M125,106.64h686M125,110.45h686M125,114.27h686M125,118.09h686M125,121.91h686M125,125.72h686M125,129.54h686M125,133.36h686M125,137.18h686M125,140.99h686M125,144.81h686M125,148.63h686M125,152.45h686M125,156.27h686M125,160.08h686M125,163.90h686M125,167.72h686M125,171.54h686M125,175.35h686M125,179.17h686M125,182.99h686M125,186.81h686M125,190.62h686M125,194.44h686M125,198.26h686M125,202.08h686M125,205.90h686M125,209.71h686M125,213.53h686M125,217.35h686M125,221.17h686M125,224.98h686M125,228.80h686M125,232.62h686M125,236.44h686M125,240.26h686M125,244.07h686M125,247.89h686M125,251.71h686M125,255.53h686M125,259.34h686M125,263.16h686M125,266.98h686M125,270.80h686M125,274.61h686M125,278.43h686M125,282.25h686M125,286.07h686M125,289.89h686M125,293.70h686M125,297.52h686M125,301.34h686M125,305.16h686M125,308.97h686M125,312.79h686M125,316.61h686M125,320.43h686M125,324.24h686M125,328.06h686M125,331.88h686M125,335.70h686M125,339.52h686M125,343.33h686M125,347.15h686M125,350.97h686M125,354.79h686M125,358.60h686M125,362.42h686M125,366.24h686M125,370.06h686M125,373.88h686M125,377.69h686M125,381.51h686M125,385.33h686M125,389.15h686M125,392.96h686M125,396.78h686M125,400.60h686M125,404.42h686M125,408.23h686M125,412.05h686M125,415.87h686M125,419.69h686M125,423.51h686M125,427.32h686M125,431.14h686M125,434.96h686M125,438.78h686M125,442.59h686M125,446.41h686M125,450.23h686M125,454.05h686M125,457.86h686M125,461.68h686M125,465.50h686M125,469.32h686M125,473.14h686M125,476.95h686M125,480.77h686M125,484.59h686M125,488.41h686M125,492.22h686M125,496.04h686M125,499.86h686M125,503.68h686M125,507.49h686M125,511.31h686M125,515.13h686M125,518.95h686M125,522.77h686M125,526.58h686M125,530.40h686M125,534.22h686M125,538.04h686M125,541.85h686M125,545.67h686M125,549.49h686M125,553.31h686M125,557.12h686M125,560.94h686M125,564.76h686M125,568.58h686M125,572.40h686M125,576.21h686M125,580.03h686M125,583.85h686M125,587.67h686M125,591.48h686M125,595.30h686M125,599.12h686M125,602.94h686M125,606.76h686M125,610.57h686M125,614.39h686M125,618.21h686M125,622.03h686M125,625.84h686M125,629.66h686M125,633.48h686M125,637.30h686M125,641.11h686M125,644.93h686M125,648.75h686M125,652.57h686M125,656.39h686M125,660.20h686M125,664.02h686M125,667.84h686M125,671.66h686M125,675.47h686M125,679.29h686M125,683.11h686M125,686.93h686M125,690.74h686M125,694.56h686M125,698.38h686M125,702.20h686M125,706.02h686M125,709.83h686M125,713.65h686M125,717.47h686M125,721.29h686M125,725.10h686M125,728.92h686M125,732.74h686M125,736.56h686M125,740.38h686M125,744.19h686M125,748.01h686M125,751.83h686M125,755.65h686M125,759.46h686M125,763.28h686M125,767.10h686M125,770.92h686M125,774.73h686M125,778.55h686M125,782.37h686M125,786.19h686M125,790.01h686M125,793.82h686M125,797.64h686M125,801.46h686M125,805.28h686M125,809.09h686M125,812.91h686M125,816.73h686M125,820.55h686M125,824.36h686M125,828.18h686" stroke="#fff" stroke-opacity="0.17" stroke-width="0.9" fill="none"/>
<path d="M239.33,99v733M353.67,99v733M468.00,99v733M582.33,99v733M696.67,99v733" stroke="#fff" stroke-opacity="0.25" stroke-width="0.9" fill="none"/>
<g shape-rendering="crispEdges">
<rect x="84.30" y="478.90" width="24.40" height="32.69" fill="#67001f"/>
<rect x="84.30" y="511.09" width="24.40" height="32.69" fill="#b2182b"/>
<rect x="84.30" y="543.28" width="24.40" height="32.69" fill="#d6604d"/>
<rect x="84.30" y="575.47" width="24.40" height="32.69" fill="#f4a582"/>
<rect x="84.30" y="607.66" width="24.40" height="32.69" fill="#fddbc7"/>
<rect x="84.30" y="639.85" width="24.40" height="32.69" fill="#f7f7f7"/>
<rect x="84.30" y="672.05" width="24.40" height="32.69" fill="#d1e5f0"/>
<rect x="84.30" y="704.24" width="24.40" height="32.69" fill="#92c5de"/>
<rect x="84.30" y="736.43" width="24.40" height="32.69" fill="#4393c3"/>
<rect x="84.30" y="768.62" width="24.40" height="32.69" fill="#2166ac"/>
<rect x="84.30" y="800.81" width="24.40" height="32.69" fill="#053061"/>
</g>
<g shape-rendering="crispEdges">
<rect x="1203.00" y="99.00" width="114.30" height="4.30" fill="#f4a582"/>
<rect x="1203.00" y="103.00" width="114.30" height="4.30" fill="#92c5de"/>
<rect x="1203.00" y="107.00" width="114.30" height="3.30" fill="#d6604d"/>
<rect x="1203.00" y="110.00" width="114.30" height="4.30" fill="#f4a582"/>
<rect x="1203.00" y="114.00" width="114.30" height="5.30" fill="#d6604d"/>
<rect x="1203.00" y="119.00" width="114.30" height="5.30" fill="#f4a582"/>
<rect x="1203.00" y="124.00" width="114.30" height="4.30" fill="#d6604d"/>
<rect x="1203.00" y="128.00" width="114.30" height="4.30" fill="#4393c3"/>
<rect x="1203.00" y="132.00" width="114.30" height="3.30" fill="#f4a582"/>
<rect x="1203.00" y="135.00" width="114.30" height="5.30" fill="#d6604d"/>
<rect x="1203.00" y="140.00" width="114.30" height="4.30" fill="#fddbc7"/>
<rect x="1203.00" y="144.00" width="114.30" height="4.30" fill="#92c5de"/>
<rect x="1203.00" y="148.00" width="114.30" height="5.30" fill="#f7f7f7"/>
<rect x="1203.00" y="153.00" width="114.30" height="4.30" fill="#4393c3"/>
<rect x="1203.00" y="157.00" width="114.30" height="4.30" fill="#67001f"/>
<rect x="1203.00" y="161.00" width="114.30" height="8.30" fill="#b2182b"/>
<rect x="1203.00" y="169.00" width="114.30" height="5.30" fill="#67001f"/>
<rect x="1203.00" y="174.00" width="114.30" height="28.30" fill="#b2182b"/>
<rect x="1203.00" y="202.00" width="114.30" height="6.30" fill="#f4a582"/>
<rect x="1203.00" y="208.00" width="114.30" height="4.30" fill="#d6604d"/>
<rect x="1203.00" y="212.00" width="114.30" height="12.30" fill="#b2182b"/>
<rect x="1203.00" y="224.00" width="114.30" height="5.30" fill="#f7f7f7"/>
<rect x="1203.00" y="229.00" width="114.30" height="3.30" fill="#b2182b"/>
<rect x="1203.00" y="232.00" width="114.30" height="5.30" fill="#fddbc7"/>
<rect x="1203.00" y="237.00" width="114.30" height="12.30" fill="#d6604d"/>
<rect x="1203.00" y="249.00" width="114.30" height="4.30" fill="#b2182b"/>
<rect x="1203.00" y="253.00" width="114.30" height="8.30" fill="#d6604d"/>
<rect x="1203.00" y="261.00" width="114.30" height="4.30" fill="#f4a582"/>
<rect x="1203.00" y="265.00" width="114.30" height="5.30" fill="#fddbc7"/>
<rect x="1203.00" y="270.00" width="114.30" height="8.30" fill="#f7f7f7"/>
<rect x="1203.00" y="278.00" width="114.30" height="17.30" fill="#d6604d"/>
<rect x="1203.00" y="295.00" width="114.30" height="8.30" fill="#f4a582"/>
<rect x="1203.00" y="303.00" width="114.30" height="7.30" fill="#b2182b"/>
<rect x="1203.00" y="310.00" width="114.30" height="9.30" fill="#f4a582"/>
<rect x="1203.00" y="319.00" width="114.30" height="5.30" fill="#d6604d"/>
<rect x="1203.00" y="324.00" width="114.30" height="3.30" fill="#b2182b"/>
<rect x="1203.00" y="327.00" width="114.30" height="5.30" fill="#f7f7f7"/>
<rect x="1203.00" y="332.00" width="114.30" height="13.30" fill="#d6604d"/>
<rect x="1203.00" y="345.00" width="114.30" height="8.30" fill="#b2182b"/>
<rect x="1203.00" y="353.00" width="114.30" height="4.30" fill="#d6604d"/>
<rect x="1203.00" y="357.00" width="114.30" height="5.30" fill="#fddbc7"/>
<rect x="1203.00" y="362.00" width="114.30" height="17.30" fill="#d1e5f0"/>
<rect x="1203.00" y="379.00" width="114.30" height="16.30" fill="#d6604d"/>
<rect x="1203.00" y="395.00" width="114.30" height="9.30" fill="#d1e5f0"/>
<rect x="1203.00" y="404.00" width="114.30" height="8.30" fill="#92c5de"/>
<rect x="1203.00" y="412.00" width="114.30" height="4.30" fill="#4393c3"/>
<rect x="1203.00" y="416.00" width="114.30" height="12.30" fill="#92c5de"/>
<rect x="1203.00" y="428.00" width="114.30" height="4.30" fill="#d1e5f0"/>
<rect x="1203.00" y="432.00" width="114.30" height="4.30" fill="#4393c3"/>
<rect x="1203.00" y="436.00" width="114.30" height="5.30" fill="#92c5de"/>
<rect x="1203.00" y="441.00" width="114.30" height="4.30" fill="#d1e5f0"/>
<rect x="1203.00" y="445.00" width="114.30" height="8.30" fill="#92c5de"/>
<rect x="1203.00" y="453.00" width="114.30" height="5.30" fill="#d1e5f0"/>
<rect x="1203.00" y="458.00" width="114.30" height="3.30" fill="#92c5de"/>
<rect x="1203.00" y="461.00" width="114.30" height="5.30" fill="#d1e5f0"/>
<rect x="1203.00" y="466.00" width="114.30" height="16.30" fill="#92c5de"/>
<rect x="1203.00" y="482.00" width="114.30" height="4.30" fill="#4393c3"/>
<rect x="1203.00" y="486.00" width="114.30" height="5.30" fill="#d1e5f0"/>
<rect x="1203.00" y="491.00" width="114.30" height="8.30" fill="#4393c3"/>
<rect x="1203.00" y="499.00" width="114.30" height="22.30" fill="#92c5de"/>
<rect x="1203.00" y="521.00" width="114.30" height="3.30" fill="#4393c3"/>
<rect x="1203.00" y="524.00" width="114.30" height="5.30" fill="#92c5de"/>
<rect x="1203.00" y="529.00" width="114.30" height="8.30" fill="#4393c3"/>
<rect x="1203.00" y="537.00" width="114.30" height="8.30" fill="#92c5de"/>
<rect x="1203.00" y="545.00" width="114.30" height="8.30" fill="#4393c3"/>
<rect x="1203.00" y="553.00" width="114.30" height="13.30" fill="#92c5de"/>
<rect x="1203.00" y="566.00" width="114.30" height="4.30" fill="#2166ac"/>
<rect x="1203.00" y="570.00" width="114.30" height="4.30" fill="#4393c3"/>
<rect x="1203.00" y="574.00" width="114.30" height="9.30" fill="#d1e5f0"/>
<rect x="1203.00" y="583.00" width="114.30" height="12.30" fill="#92c5de"/>
<rect x="1203.00" y="595.00" width="114.30" height="5.30" fill="#d6604d"/>
<rect x="1203.00" y="600.00" width="114.30" height="3.30" fill="#4393c3"/>
<rect x="1203.00" y="603.00" width="114.30" height="13.30" fill="#92c5de"/>
<rect x="1203.00" y="616.00" width="114.30" height="4.30" fill="#4393c3"/>
<rect x="1203.00" y="620.00" width="114.30" height="4.30" fill="#b2182b"/>
<rect x="1203.00" y="624.00" width="114.30" height="4.30" fill="#92c5de"/>
<rect x="1203.00" y="628.00" width="114.30" height="4.30" fill="#4393c3"/>
<rect x="1203.00" y="632.00" width="114.30" height="18.30" fill="#92c5de"/>
<rect x="1203.00" y="650.00" width="114.30" height="4.30" fill="#4393c3"/>
<rect x="1203.00" y="654.00" width="114.30" height="4.30" fill="#d1e5f0"/>
<rect x="1203.00" y="658.00" width="114.30" height="4.30" fill="#4393c3"/>
<rect x="1203.00" y="662.00" width="114.30" height="9.30" fill="#92c5de"/>
<rect x="1203.00" y="671.00" width="114.30" height="12.30" fill="#4393c3"/>
<rect x="1203.00" y="683.00" width="114.30" height="4.30" fill="#92c5de"/>
<rect x="1203.00" y="687.00" width="114.30" height="4.30" fill="#4393c3"/>
<rect x="1203.00" y="691.00" width="114.30" height="4.30" fill="#92c5de"/>
<rect x="1203.00" y="695.00" width="114.30" height="5.30" fill="#f7f7f7"/>
<rect x="1203.00" y="700.00" width="114.30" height="33.30" fill="#92c5de"/>
<rect x="1203.00" y="733.00" width="114.30" height="4.30" fill="#f4a582"/>
<rect x="1203.00" y="737.00" width="114.30" height="4.30" fill="#f7f7f7"/>
<rect x="1203.00" y="741.00" width="114.30" height="13.30" fill="#92c5de"/>
<rect x="1203.00" y="754.00" width="114.30" height="12.30" fill="#4393c3"/>
<rect x="1203.00" y="766.00" width="114.30" height="5.30" fill="#92c5de"/>
<rect x="1203.00" y="771.00" width="114.30" height="4.30" fill="#4393c3"/>
<rect x="1203.00" y="775.00" width="114.30" height="25.30" fill="#92c5de"/>
<rect x="1203.00" y="800.00" width="114.30" height="4.30" fill="#f7f7f7"/>
<rect x="1203.00" y="804.00" width="114.30" height="4.30" fill="#92c5de"/>
<rect x="1203.00" y="808.00" width="114.30" height="4.30" fill="#f4a582"/>
<rect x="1203.00" y="812.00" width="114.30" height="4.30" fill="#92c5de"/>
<rect x="1203.00" y="816.00" width="114.30" height="4.30" fill="#4393c3"/>
<rect x="1203.00" y="820.00" width="114.30" height="5.30" fill="#92c5de"/>
<rect x="1203.00" y="825.00" width="114.30" height="4.30" fill="#d6604d"/>
<rect x="1203.00" y="829.00" width="114.30" height="8.30" fill="#92c5de"/>
<rect x="1203.00" y="837.00" width="114.30" height="4.30" fill="#4393c3"/>
<rect x="1317.00" y="99.00" width="114.30" height="4.30" fill="#f7f7f7"/>
<rect x="1317.00" y="103.00" width="114.30" height="4.30" fill="#4393c3"/>
<rect x="1317.00" y="107.00" width="114.30" height="10.30" fill="#b2182b"/>
<rect x="1317.00" y="117.00" width="114.30" height="7.30" fill="#d6604d"/>
<rect x="1317.00" y="124.00" width="114.30" height="4.30" fill="#b2182b"/>
<rect x="1317.00" y="128.00" width="114.30" height="5.30" fill="#4393c3"/>
<rect x="1317.00" y="133.00" width="114.30" height="10.30" fill="#b2182b"/>
<rect x="1317.00" y="143.00" width="114.30" height="5.30" fill="#f4a582"/>
<rect x="1317.00" y="148.00" width="114.30" height="5.30" fill="#d1e5f0"/>
<rect x="1317.00" y="153.00" width="114.30" height="4.30" fill="#4393c3"/>
<rect x="1317.00" y="157.00" width="114.30" height="5.30" fill="#f4a582"/>
<rect x="1317.00" y="162.00" width="114.30" height="8.30" fill="#d6604d"/>
<rect x="1317.00" y="170.00" width="114.30" height="4.30" fill="#f4a582"/>
<rect x="1317.00" y="174.00" width="114.30" height="4.30" fill="#b2182b"/>
<rect x="1317.00" y="178.00" width="114.30" height="16.30" fill="#d6604d"/>
<rect x="1317.00" y="194.00" width="114.30" height="9.30" fill="#f4a582"/>
<rect x="1317.00" y="203.00" width="114.30" height="4.30" fill="#d1e5f0"/>
<rect x="1317.00" y="207.00" width="114.30" height="4.30" fill="#b2182b"/>
<rect x="1317.00" y="211.00" width="114.30" height="10.30" fill="#d6604d"/>
<rect x="1317.00" y="221.00" width="114.30" height="3.30" fill="#f4a582"/>
<rect x="1317.00" y="224.00" width="114.30" height="5.30" fill="#92c5de"/>
<rect x="1317.00" y="229.00" width="114.30" height="3.30" fill="#d6604d"/>
<rect x="1317.00" y="232.00" width="114.30" height="5.30" fill="#92c5de"/>
<rect x="1317.00" y="237.00" width="114.30" height="12.30" fill="#b2182b"/>
<rect x="1317.00" y="249.00" width="114.30" height="8.30" fill="#d6604d"/>
<rect x="1317.00" y="257.00" width="114.30" height="4.30" fill="#f4a582"/>
<rect x="1317.00" y="261.00" width="114.30" height="4.30" fill="#d1e5f0"/>
<rect x="1317.00" y="265.00" width="114.30" height="5.30" fill="#fddbc7"/>
<rect x="1317.00" y="270.00" width="114.30" height="8.30" fill="#d1e5f0"/>
<rect x="1317.00" y="278.00" width="114.30" height="13.30" fill="#b2182b"/>
<rect x="1317.00" y="291.00" width="114.30" height="4.30" fill="#d6604d"/>
<rect x="1317.00" y="295.00" width="114.30" height="13.30" fill="#f4a582"/>
<rect x="1317.00" y="308.00" width="114.30" height="7.30" fill="#d6604d"/>
<rect x="1317.00" y="315.00" width="114.30" height="5.30" fill="#f4a582"/>
<rect x="1317.00" y="320.00" width="114.30" height="5.30" fill="#d6604d"/>
<rect x="1317.00" y="325.00" width="114.30" height="3.30" fill="#b2182b"/>
<rect x="1317.00" y="328.00" width="114.30" height="4.30" fill="#f7f7f7"/>
<rect x="1317.00" y="332.00" width="114.30" height="22.30" fill="#d6604d"/>
<rect x="1317.00" y="354.00" width="114.30" height="3.30" fill="#b2182b"/>
<rect x="1317.00" y="357.00" width="114.30" height="7.30" fill="#f7f7f7"/>
<rect x="1317.00" y="364.00" width="114.30" height="5.30" fill="#92c5de"/>
<rect x="1317.00" y="369.00" width="114.30" height="9.30" fill="#d1e5f0"/>
<rect x="1317.00" y="378.00" width="114.30" height="6.30" fill="#d6604d"/>
<rect x="1317.00" y="384.00" width="114.30" height="11.30" fill="#b2182b"/>
<rect x="1317.00" y="395.00" width="114.30" height="4.30" fill="#d1e5f0"/>
<rect x="1317.00" y="399.00" width="114.30" height="13.30" fill="#92c5de"/>
<rect x="1317.00" y="412.00" width="114.30" height="4.30" fill="#4393c3"/>
<rect x="1317.00" y="416.00" width="114.30" height="12.30" fill="#92c5de"/>
<rect x="1317.00" y="428.00" width="114.30" height="4.30" fill="#d1e5f0"/>
<rect x="1317.00" y="432.00" width="114.30" height="4.30" fill="#4393c3"/>
<rect x="1317.00" y="436.00" width="114.30" height="5.30" fill="#92c5de"/>
<rect x="1317.00" y="441.00" width="114.30" height="4.30" fill="#d1e5f0"/>
<rect x="1317.00" y="445.00" width="114.30" height="16.30" fill="#92c5de"/>
<rect x="1317.00" y="461.00" width="114.30" height="5.30" fill="#d1e5f0"/>
<rect x="1317.00" y="466.00" width="114.30" height="13.30" fill="#92c5de"/>
<rect x="1317.00" y="479.00" width="114.30" height="3.30" fill="#4393c3"/>
<rect x="1317.00" y="482.00" width="114.30" height="4.30" fill="#2166ac"/>
<rect x="1317.00" y="486.00" width="114.30" height="5.30" fill="#d1e5f0"/>
<rect x="1317.00" y="491.00" width="114.30" height="5.30" fill="#2166ac"/>
<rect x="1317.00" y="496.00" width="114.30" height="3.30" fill="#4393c3"/>
<rect x="1317.00" y="499.00" width="114.30" height="22.30" fill="#92c5de"/>
<rect x="1317.00" y="521.00" width="114.30" height="3.30" fill="#4393c3"/>
<rect x="1317.00" y="524.00" width="114.30" height="5.30" fill="#92c5de"/>
<rect x="1317.00" y="529.00" width="114.30" height="8.30" fill="#4393c3"/>
<rect x="1317.00" y="537.00" width="114.30" height="8.30" fill="#92c5de"/>
<rect x="1317.00" y="545.00" width="114.30" height="8.30" fill="#4393c3"/>
<rect x="1317.00" y="553.00" width="114.30" height="13.30" fill="#92c5de"/>
<rect x="1317.00" y="566.00" width="114.30" height="4.30" fill="#2166ac"/>
<rect x="1317.00" y="570.00" width="114.30" height="4.30" fill="#4393c3"/>
<rect x="1317.00" y="574.00" width="114.30" height="21.30" fill="#92c5de"/>
<rect x="1317.00" y="595.00" width="114.30" height="5.30" fill="#fddbc7"/>
<rect x="1317.00" y="600.00" width="114.30" height="3.30" fill="#4393c3"/>
<rect x="1317.00" y="603.00" width="114.30" height="13.30" fill="#92c5de"/>
<rect x="1317.00" y="616.00" width="114.30" height="4.30" fill="#4393c3"/>
<rect x="1317.00" y="620.00" width="114.30" height="4.30" fill="#d6604d"/>
<rect x="1317.00" y="624.00" width="114.30" height="8.30" fill="#2166ac"/>
<rect x="1317.00" y="632.00" width="114.30" height="18.30" fill="#92c5de"/>
<rect x="1317.00" y="650.00" width="114.30" height="4.30" fill="#4393c3"/>
<rect x="1317.00" y="654.00" width="114.30" height="4.30" fill="#d1e5f0"/>
<rect x="1317.00" y="658.00" width="114.30" height="4.30" fill="#4393c3"/>
<rect x="1317.00" y="662.00" width="114.30" height="9.30" fill="#92c5de"/>
<rect x="1317.00" y="671.00" width="114.30" height="7.30" fill="#4393c3"/>
<rect x="1317.00" y="678.00" width="114.30" height="5.30" fill="#2166ac"/>
<rect x="1317.00" y="683.00" width="114.30" height="4.30" fill="#92c5de"/>
<rect x="1317.00" y="687.00" width="114.30" height="4.30" fill="#4393c3"/>
<rect x="1317.00" y="691.00" width="114.30" height="4.30" fill="#92c5de"/>
<rect x="1317.00" y="695.00" width="114.30" height="5.30" fill="#d1e5f0"/>
<rect x="1317.00" y="700.00" width="114.30" height="29.30" fill="#92c5de"/>
<rect x="1317.00" y="729.00" width="114.30" height="4.30" fill="#4393c3"/>
<rect x="1317.00" y="733.00" width="114.30" height="8.30" fill="#fddbc7"/>
<rect x="1317.00" y="741.00" width="114.30" height="13.30" fill="#92c5de"/>
<rect x="1317.00" y="754.00" width="114.30" height="16.30" fill="#4393c3"/>
<rect x="1317.00" y="770.00" width="114.30" height="5.30" fill="#2166ac"/>
<rect x="1317.00" y="775.00" width="114.30" height="4.30" fill="#92c5de"/>
<rect x="1317.00" y="779.00" width="114.30" height="4.30" fill="#4393c3"/>
<rect x="1317.00" y="783.00" width="114.30" height="17.30" fill="#92c5de"/>
<rect x="1317.00" y="800.00" width="114.30" height="4.30" fill="#2166ac"/>
<rect x="1317.00" y="804.00" width="114.30" height="4.30" fill="#92c5de"/>
<rect x="1317.00" y="808.00" width="114.30" height="4.30" fill="#b2182b"/>
<rect x="1317.00" y="812.00" width="114.30" height="4.30" fill="#92c5de"/>
<rect x="1317.00" y="816.00" width="114.30" height="4.30" fill="#4393c3"/>
<rect x="1317.00" y="820.00" width="114.30" height="5.30" fill="#92c5de"/>
<rect x="1317.00" y="825.00" width="114.30" height="4.30" fill="#fddbc7"/>
<rect x="1317.00" y="829.00" width="114.30" height="4.30" fill="#4393c3"/>
<rect x="1317.00" y="833.00" width="114.30" height="4.30" fill="#92c5de"/>
<rect x="1317.00" y="837.00" width="114.30" height="4.30" fill="#4393c3"/>
<rect x="1431.00" y="99.00" width="114.30" height="8.30" fill="#d6604d"/>
<rect x="1431.00" y="107.00" width="114.30" height="4.30" fill="#92c5de"/>
<rect x="1431.00" y="111.00" width="114.30" height="4.30" fill="#4393c3"/>
<rect x="1431.00" y="115.00" width="114.30" height="5.30" fill="#92c5de"/>
<rect x="1431.00" y="120.00" width="114.30" height="3.30" fill="#4393c3"/>
<rect x="1431.00" y="123.00" width="114.30" height="5.30" fill="#92c5de"/>
<rect x="1431.00" y="128.00" width="114.30" height="4.30" fill="#d6604d"/>
<rect x="1431.00" y="132.00" width="114.30" height="8.30" fill="#4393c3"/>
<rect x="1431.00" y="140.00" width="114.30" height="4.30" fill="#f4a582"/>
<rect x="1431.00" y="144.00" width="114.30" height="4.30" fill="#d6604d"/>
<rect x="1431.00" y="148.00" width="114.30" height="5.30" fill="#4393c3"/>
<rect x="1431.00" y="153.00" width="114.30" height="4.30" fill="#f4a582"/>
<rect x="1431.00" y="157.00" width="114.30" height="46.30" fill="#92c5de"/>
<rect x="1431.00" y="203.00" width="114.30" height="4.30" fill="#2166ac"/>
<rect x="1431.00" y="207.00" width="114.30" height="14.30" fill="#92c5de"/>
<rect x="1431.00" y="221.00" width="114.30" height="3.30" fill="#4393c3"/>
<rect x="1431.00" y="224.00" width="114.30" height="5.30" fill="#f7f7f7"/>
<rect x="1431.00" y="229.00" width="114.30" height="3.30" fill="#4393c3"/>
<rect x="1431.00" y="232.00" width="114.30" height="4.30" fill="#2166ac"/>
<rect x="1431.00" y="236.00" width="114.30" height="13.30" fill="#92c5de"/>
<rect x="1431.00" y="249.00" width="114.30" height="9.30" fill="#4393c3"/>
<rect x="1431.00" y="258.00" width="114.30" height="3.30" fill="#2166ac"/>
<rect x="1431.00" y="261.00" width="114.30" height="5.30" fill="#d1e5f0"/>
<rect x="1431.00" y="266.00" width="114.30" height="4.30" fill="#2166ac"/>
<rect x="1431.00" y="270.00" width="114.30" height="24.30" fill="#4393c3"/>
<rect x="1431.00" y="294.00" width="114.30" height="9.30" fill="#2166ac"/>
<rect x="1431.00" y="303.00" width="114.30" height="8.30" fill="#4393c3"/>
<rect x="1431.00" y="311.00" width="114.30" height="9.30" fill="#2166ac"/>
<rect x="1431.00" y="320.00" width="114.30" height="4.30" fill="#92c5de"/>
<rect x="1431.00" y="324.00" width="114.30" height="26.30" fill="#4393c3"/>
<rect x="1431.00" y="350.00" width="114.30" height="9.30" fill="#92c5de"/>
<rect x="1431.00" y="359.00" width="114.30" height="3.30" fill="#4393c3"/>
<rect x="1431.00" y="362.00" width="114.30" height="13.30" fill="#92c5de"/>
<rect x="1431.00" y="375.00" width="114.30" height="7.30" fill="#4393c3"/>
<rect x="1431.00" y="382.00" width="114.30" height="13.30" fill="#92c5de"/>
<rect x="1431.00" y="395.00" width="114.30" height="4.30" fill="#4393c3"/>
<rect x="1431.00" y="399.00" width="114.30" height="13.30" fill="#92c5de"/>
<rect x="1431.00" y="412.00" width="114.30" height="4.30" fill="#f7f7f7"/>
<rect x="1431.00" y="416.00" width="114.30" height="4.30" fill="#d1e5f0"/>
<rect x="1431.00" y="420.00" width="114.30" height="4.30" fill="#92c5de"/>
<rect x="1431.00" y="424.00" width="114.30" height="4.30" fill="#d1e5f0"/>
<rect x="1431.00" y="428.00" width="114.30" height="4.30" fill="#92c5de"/>
<rect x="1431.00" y="432.00" width="114.30" height="5.30" fill="#f7f7f7"/>
<rect x="1431.00" y="437.00" width="114.30" height="8.30" fill="#92c5de"/>
<rect x="1431.00" y="445.00" width="114.30" height="8.30" fill="#d1e5f0"/>
<rect x="1431.00" y="453.00" width="114.30" height="13.30" fill="#92c5de"/>
<rect x="1431.00" y="466.00" width="114.30" height="15.30" fill="#d1e5f0"/>
<rect x="1431.00" y="481.00" width="114.30" height="5.30" fill="#f4a582"/>
<rect x="1431.00" y="486.00" width="114.30" height="5.30" fill="#92c5de"/>
<rect x="1431.00" y="491.00" width="114.30" height="10.30" fill="#fddbc7"/>
<rect x="1431.00" y="501.00" width="114.30" height="3.30" fill="#f4a582"/>
<rect x="1431.00" y="504.00" width="114.30" height="4.30" fill="#92c5de"/>
<rect x="1431.00" y="508.00" width="114.30" height="4.30" fill="#d6604d"/>
<rect x="1431.00" y="512.00" width="114.30" height="9.30" fill="#92c5de"/>
<rect x="1431.00" y="521.00" width="114.30" height="7.30" fill="#d6604d"/>
<rect x="1431.00" y="528.00" width="114.30" height="9.30" fill="#d1e5f0"/>
<rect x="1431.00" y="537.00" width="114.30" height="8.30" fill="#b2182b"/>
<rect x="1431.00" y="545.00" width="114.30" height="12.30" fill="#f7f7f7"/>
<rect x="1431.00" y="557.00" width="114.30" height="4.30" fill="#67001f"/>
<rect x="1431.00" y="561.00" width="114.30" height="4.30" fill="#d1e5f0"/>
<rect x="1431.00" y="565.00" width="114.30" height="5.30" fill="#f4a582"/>
<rect x="1431.00" y="570.00" width="114.30" height="4.30" fill="#fddbc7"/>
<rect x="1431.00" y="574.00" width="114.30" height="4.30" fill="#b2182b"/>
<rect x="1431.00" y="578.00" width="114.30" height="5.30" fill="#92c5de"/>
<rect x="1431.00" y="583.00" width="114.30" height="12.30" fill="#b2182b"/>
<rect x="1431.00" y="595.00" width="114.30" height="4.30" fill="#053061"/>
<rect x="1431.00" y="599.00" width="114.30" height="5.30" fill="#d6604d"/>
<rect x="1431.00" y="604.00" width="114.30" height="11.30" fill="#67001f"/>
<rect x="1431.00" y="615.00" width="114.30" height="5.30" fill="#d1e5f0"/>
<rect x="1431.00" y="620.00" width="114.30" height="4.30" fill="#92c5de"/>
<rect x="1431.00" y="624.00" width="114.30" height="5.30" fill="#f7f7f7"/>
<rect x="1431.00" y="629.00" width="114.30" height="7.30" fill="#fddbc7"/>
<rect x="1431.00" y="636.00" width="114.30" height="5.30" fill="#f4a582"/>
<rect x="1431.00" y="641.00" width="114.30" height="4.30" fill="#d1e5f0"/>
<rect x="1431.00" y="645.00" width="114.30" height="5.30" fill="#f4a582"/>
<rect x="1431.00" y="650.00" width="114.30" height="8.30" fill="#92c5de"/>
<rect x="1431.00" y="658.00" width="114.30" height="4.30" fill="#d6604d"/>
<rect x="1431.00" y="662.00" width="114.30" height="4.30" fill="#b2182b"/>
<rect x="1431.00" y="666.00" width="114.30" height="4.30" fill="#d6604d"/>
<rect x="1431.00" y="670.00" width="114.30" height="8.30" fill="#d1e5f0"/>
<rect x="1431.00" y="678.00" width="114.30" height="5.30" fill="#fddbc7"/>
<rect x="1431.00" y="683.00" width="114.30" height="4.30" fill="#92c5de"/>
<rect x="1431.00" y="687.00" width="114.30" height="8.30" fill="#b2182b"/>
<rect x="1431.00" y="695.00" width="114.30" height="5.30" fill="#f7f7f7"/>
<rect x="1431.00" y="700.00" width="114.30" height="8.30" fill="#67001f"/>
<rect x="1431.00" y="708.00" width="114.30" height="4.30" fill="#f4a582"/>
<rect x="1431.00" y="712.00" width="114.30" height="4.30" fill="#b2182b"/>
<rect x="1431.00" y="716.00" width="114.30" height="12.30" fill="#d6604d"/>
<rect x="1431.00" y="728.00" width="114.30" height="5.30" fill="#f7f7f7"/>
<rect x="1431.00" y="733.00" width="114.30" height="8.30" fill="#2166ac"/>
<rect x="1431.00" y="741.00" width="114.30" height="5.30" fill="#f4a582"/>
<rect x="1431.00" y="746.00" width="114.30" height="4.30" fill="#b2182b"/>
<rect x="1431.00" y="750.00" width="114.30" height="8.30" fill="#67001f"/>
<rect x="1431.00" y="758.00" width="114.30" height="4.30" fill="#fddbc7"/>
<rect x="1431.00" y="762.00" width="114.30" height="4.30" fill="#b2182b"/>
<rect x="1431.00" y="766.00" width="114.30" height="8.30" fill="#fddbc7"/>
<rect x="1431.00" y="774.00" width="114.30" height="5.30" fill="#67001f"/>
<rect x="1431.00" y="779.00" width="114.30" height="7.30" fill="#d1e5f0"/>
<rect x="1431.00" y="786.00" width="114.30" height="10.30" fill="#fddbc7"/>
<rect x="1431.00" y="796.00" width="114.30" height="8.30" fill="#d6604d"/>
<rect x="1431.00" y="804.00" width="114.30" height="4.30" fill="#67001f"/>
<rect x="1431.00" y="808.00" width="114.30" height="4.30" fill="#f7f7f7"/>
<rect x="1431.00" y="812.00" width="114.30" height="4.30" fill="#b2182b"/>
<rect x="1431.00" y="816.00" width="114.30" height="5.30" fill="#d1e5f0"/>
<rect x="1431.00" y="821.00" width="114.30" height="4.30" fill="#d6604d"/>
<rect x="1431.00" y="825.00" width="114.30" height="4.30" fill="#2166ac"/>
<rect x="1431.00" y="829.00" width="114.30" height="5.30" fill="#f7f7f7"/>
<rect x="1431.00" y="834.00" width="114.30" height="3.30" fill="#d1e5f0"/>
<rect x="1431.00" y="837.00" width="114.30" height="4.30" fill="#f4a582"/>
<rect x="1545.00" y="99.00" width="114.30" height="4.30" fill="#fddbc7"/>
<rect x="1545.00" y="103.00" width="114.30" height="4.30" fill="#d1e5f0"/>
<rect x="1545.00" y="107.00" width="114.30" height="4.30" fill="#92c5de"/>
<rect x="1545.00" y="111.00" width="114.30" height="4.30" fill="#4393c3"/>
<rect x="1545.00" y="115.00" width="114.30" height="5.30" fill="#92c5de"/>
<rect x="1545.00" y="120.00" width="114.30" height="4.30" fill="#4393c3"/>
<rect x="1545.00" y="124.00" width="114.30" height="4.30" fill="#fddbc7"/>
<rect x="1545.00" y="128.00" width="114.30" height="4.30" fill="#d1e5f0"/>
<rect x="1545.00" y="132.00" width="114.30" height="8.30" fill="#4393c3"/>
<rect x="1545.00" y="140.00" width="114.30" height="5.30" fill="#f7f7f7"/>
<rect x="1545.00" y="145.00" width="114.30" height="4.30" fill="#92c5de"/>
<rect x="1545.00" y="149.00" width="114.30" height="4.30" fill="#4393c3"/>
<rect x="1545.00" y="153.00" width="114.30" height="4.30" fill="#b2182b"/>
<rect x="1545.00" y="157.00" width="114.30" height="38.30" fill="#92c5de"/>
<rect x="1545.00" y="195.00" width="114.30" height="4.30" fill="#f7f7f7"/>
<rect x="1545.00" y="199.00" width="114.30" height="4.30" fill="#92c5de"/>
<rect x="1545.00" y="203.00" width="114.30" height="4.30" fill="#d1e5f0"/>
<rect x="1545.00" y="207.00" width="114.30" height="17.30" fill="#92c5de"/>
<rect x="1545.00" y="224.00" width="114.30" height="4.30" fill="#67001f"/>
<rect x="1545.00" y="228.00" width="114.30" height="4.30" fill="#4393c3"/>
<rect x="1545.00" y="232.00" width="114.30" height="5.30" fill="#fddbc7"/>
<rect x="1545.00" y="237.00" width="114.30" height="12.30" fill="#92c5de"/>
<rect x="1545.00" y="249.00" width="114.30" height="12.30" fill="#4393c3"/>
<rect x="1545.00" y="261.00" width="114.30" height="5.30" fill="#67001f"/>
<rect x="1545.00" y="266.00" width="114.30" height="8.30" fill="#4393c3"/>
<rect x="1545.00" y="274.00" width="114.30" height="12.30" fill="#92c5de"/>
<rect x="1545.00" y="286.00" width="114.30" height="20.30" fill="#4393c3"/>
<rect x="1545.00" y="306.00" width="114.30" height="6.30" fill="#d1e5f0"/>
<rect x="1545.00" y="312.00" width="114.30" height="4.30" fill="#4393c3"/>
<rect x="1545.00" y="316.00" width="114.30" height="4.30" fill="#2166ac"/>
<rect x="1545.00" y="320.00" width="114.30" height="4.30" fill="#92c5de"/>
<rect x="1545.00" y="324.00" width="114.30" height="25.30" fill="#4393c3"/>
<rect x="1545.00" y="349.00" width="114.30" height="9.30" fill="#92c5de"/>
<rect x="1545.00" y="358.00" width="114.30" height="4.30" fill="#4393c3"/>
<rect x="1545.00" y="362.00" width="114.30" height="17.30" fill="#92c5de"/>
<rect x="1545.00" y="379.00" width="114.30" height="4.30" fill="#4393c3"/>
<rect x="1545.00" y="383.00" width="114.30" height="12.30" fill="#92c5de"/>
<rect x="1545.00" y="395.00" width="114.30" height="4.30" fill="#4393c3"/>
<rect x="1545.00" y="399.00" width="114.30" height="12.30" fill="#92c5de"/>
<rect x="1545.00" y="411.00" width="114.30" height="5.30" fill="#f7f7f7"/>
<rect x="1545.00" y="416.00" width="114.30" height="8.30" fill="#92c5de"/>
<rect x="1545.00" y="424.00" width="114.30" height="4.30" fill="#d1e5f0"/>
<rect x="1545.00" y="428.00" width="114.30" height="4.30" fill="#92c5de"/>
<rect x="1545.00" y="432.00" width="114.30" height="5.30" fill="#d1e5f0"/>
<rect x="1545.00" y="437.00" width="114.30" height="12.30" fill="#92c5de"/>
<rect x="1545.00" y="449.00" width="114.30" height="4.30" fill="#d1e5f0"/>
<rect x="1545.00" y="453.00" width="114.30" height="16.30" fill="#92c5de"/>
<rect x="1545.00" y="469.00" width="114.30" height="8.30" fill="#d1e5f0"/>
<rect x="1545.00" y="477.00" width="114.30" height="9.30" fill="#f7f7f7"/>
<rect x="1545.00" y="486.00" width="114.30" height="5.30" fill="#92c5de"/>
<rect x="1545.00" y="491.00" width="114.30" height="5.30" fill="#b2182b"/>
<rect x="1545.00" y="496.00" width="114.30" height="7.30" fill="#67001f"/>
<rect x="1545.00" y="503.00" width="114.30" height="5.30" fill="#d1e5f0"/>
<rect x="1545.00" y="508.00" width="114.30" height="4.30" fill="#b2182b"/>
<rect x="1545.00" y="512.00" width="114.30" height="8.30" fill="#92c5de"/>
<rect x="1545.00" y="520.00" width="114.30" height="4.30" fill="#d6604d"/>
<rect x="1545.00" y="524.00" width="114.30" height="4.30" fill="#b2182b"/>
<rect x="1545.00" y="528.00" width="114.30" height="4.30" fill="#fddbc7"/>
<rect x="1545.00" y="532.00" width="114.30" height="5.30" fill="#d1e5f0"/>
<rect x="1545.00" y="537.00" width="114.30" height="8.30" fill="#d6604d"/>
<rect x="1545.00" y="545.00" width="114.30" height="4.30" fill="#f7f7f7"/>
<rect x="1545.00" y="549.00" width="114.30" height="4.30" fill="#fddbc7"/>
<rect x="1545.00" y="553.00" width="114.30" height="4.30" fill="#d1e5f0"/>
<rect x="1545.00" y="557.00" width="114.30" height="4.30" fill="#f4a582"/>
<rect x="1545.00" y="561.00" width="114.30" height="5.30" fill="#d1e5f0"/>
<rect x="1545.00" y="566.00" width="114.30" height="8.30" fill="#fddbc7"/>
<rect x="1545.00" y="574.00" width="114.30" height="4.30" fill="#d6604d"/>
<rect x="1545.00" y="578.00" width="114.30" height="5.30" fill="#92c5de"/>
<rect x="1545.00" y="583.00" width="114.30" height="3.30" fill="#d6604d"/>
<rect x="1545.00" y="586.00" width="114.30" height="5.30" fill="#b2182b"/>
<rect x="1545.00" y="591.00" width="114.30" height="3.30" fill="#d6604d"/>
<rect x="1545.00" y="594.00" width="114.30" height="5.30" fill="#92c5de"/>
<rect x="1545.00" y="599.00" width="114.30" height="4.30" fill="#b2182b"/>
<rect x="1545.00" y="603.00" width="114.30" height="4.30" fill="#f4a582"/>
<rect x="1545.00" y="607.00" width="114.30" height="4.30" fill="#d6604d"/>
<rect x="1545.00" y="611.00" width="114.30" height="9.30" fill="#f4a582"/>
<rect x="1545.00" y="620.00" width="114.30" height="4.30" fill="#92c5de"/>
<rect x="1545.00" y="624.00" width="114.30" height="3.30" fill="#f7f7f7"/>
<rect x="1545.00" y="627.00" width="114.30" height="9.30" fill="#fddbc7"/>
<rect x="1545.00" y="636.00" width="114.30" height="5.30" fill="#67001f"/>
<rect x="1545.00" y="641.00" width="114.30" height="5.30" fill="#92c5de"/>
<rect x="1545.00" y="646.00" width="114.30" height="4.30" fill="#67001f"/>
<rect x="1545.00" y="650.00" width="114.30" height="4.30" fill="#f7f7f7"/>
<rect x="1545.00" y="654.00" width="114.30" height="4.30" fill="#92c5de"/>
<rect x="1545.00" y="658.00" width="114.30" height="4.30" fill="#d1e5f0"/>
<rect x="1545.00" y="662.00" width="114.30" height="4.30" fill="#d6604d"/>
<rect x="1545.00" y="666.00" width="114.30" height="4.30" fill="#b2182b"/>
<rect x="1545.00" y="670.00" width="114.30" height="5.30" fill="#f7f7f7"/>
<rect x="1545.00" y="675.00" width="114.30" height="4.30" fill="#d1e5f0"/>
<rect x="1545.00" y="679.00" width="114.30" height="4.30" fill="#f4a582"/>
<rect x="1545.00" y="683.00" width="114.30" height="4.30" fill="#92c5de"/>
<rect x="1545.00" y="687.00" width="114.30" height="8.30" fill="#d6604d"/>
<rect x="1545.00" y="695.00" width="114.30" height="4.30" fill="#67001f"/>
<rect x="1545.00" y="699.00" width="114.30" height="9.30" fill="#f4a582"/>
<rect x="1545.00" y="708.00" width="114.30" height="4.30" fill="#67001f"/>
<rect x="1545.00" y="712.00" width="114.30" height="4.30" fill="#d6604d"/>
<rect x="1545.00" y="716.00" width="114.30" height="12.30" fill="#b2182b"/>
<rect x="1545.00" y="728.00" width="114.30" height="5.30" fill="#f7f7f7"/>
<rect x="1545.00" y="733.00" width="114.30" height="8.30" fill="#4393c3"/>
<rect x="1545.00" y="741.00" width="114.30" height="4.30" fill="#67001f"/>
<rect x="1545.00" y="745.00" width="114.30" height="4.30" fill="#d6604d"/>
<rect x="1545.00" y="749.00" width="114.30" height="5.30" fill="#f4a582"/>
<rect x="1545.00" y="754.00" width="114.30" height="4.30" fill="#f7f7f7"/>
<rect x="1545.00" y="758.00" width="114.30" height="4.30" fill="#92c5de"/>
<rect x="1545.00" y="762.00" width="114.30" height="5.30" fill="#d1e5f0"/>
<rect x="1545.00" y="767.00" width="114.30" height="3.30" fill="#92c5de"/>
<rect x="1545.00" y="770.00" width="114.30" height="4.30" fill="#f4a582"/>
<rect x="1545.00" y="774.00" width="114.30" height="13.30" fill="#d1e5f0"/>
<rect x="1545.00" y="787.00" width="114.30" height="4.30" fill="#67001f"/>
<rect x="1545.00" y="791.00" width="114.30" height="5.30" fill="#d1e5f0"/>
<rect x="1545.00" y="796.00" width="114.30" height="4.30" fill="#b2182b"/>
<rect x="1545.00" y="800.00" width="114.30" height="4.30" fill="#fddbc7"/>
<rect x="1545.00" y="804.00" width="114.30" height="8.30" fill="#f7f7f7"/>
<rect x="1545.00" y="812.00" width="114.30" height="4.30" fill="#d6604d"/>
<rect x="1545.00" y="816.00" width="114.30" height="4.30" fill="#d1e5f0"/>
<rect x="1545.00" y="820.00" width="114.30" height="5.30" fill="#b2182b"/>
<rect x="1545.00" y="825.00" width="114.30" height="4.30" fill="#4393c3"/>
<rect x="1545.00" y="829.00" width="114.30" height="8.30" fill="#92c5de"/>
<rect x="1545.00" y="837.00" width="114.30" height="4.30" fill="#d1e5f0"/>
<rect x="1659.00" y="99.00" width="114.30" height="4.30" fill="#2166ac"/>
<rect x="1659.00" y="103.00" width="114.30" height="4.30" fill="#d1e5f0"/>
<rect x="1659.00" y="107.00" width="114.30" height="4.30" fill="#92c5de"/>
<rect x="1659.00" y="111.00" width="114.30" height="8.30" fill="#d1e5f0"/>
<rect x="1659.00" y="119.00" width="114.30" height="5.30" fill="#f7f7f7"/>
<rect x="1659.00" y="124.00" width="114.30" height="4.30" fill="#4393c3"/>
<rect x="1659.00" y="128.00" width="114.30" height="4.30" fill="#f4a582"/>
<rect x="1659.00" y="132.00" width="114.30" height="9.30" fill="#f7f7f7"/>
<rect x="1659.00" y="141.00" width="114.30" height="8.30" fill="#4393c3"/>
<rect x="1659.00" y="149.00" width="114.30" height="4.30" fill="#b2182b"/>
<rect x="1659.00" y="153.00" width="114.30" height="4.30" fill="#f4a582"/>
<rect x="1659.00" y="157.00" width="114.30" height="38.30" fill="#92c5de"/>
<rect x="1659.00" y="195.00" width="114.30" height="4.30" fill="#4393c3"/>
<rect x="1659.00" y="199.00" width="114.30" height="4.30" fill="#92c5de"/>
<rect x="1659.00" y="203.00" width="114.30" height="4.30" fill="#d1e5f0"/>
<rect x="1659.00" y="207.00" width="114.30" height="21.30" fill="#92c5de"/>
<rect x="1659.00" y="228.00" width="114.30" height="9.30" fill="#d1e5f0"/>
<rect x="1659.00" y="237.00" width="114.30" height="12.30" fill="#92c5de"/>
<rect x="1659.00" y="249.00" width="114.30" height="12.30" fill="#f7f7f7"/>
<rect x="1659.00" y="261.00" width="114.30" height="5.30" fill="#4393c3"/>
<rect x="1659.00" y="266.00" width="114.30" height="4.30" fill="#f4a582"/>
<rect x="1659.00" y="270.00" width="114.30" height="3.30" fill="#d6604d"/>
<rect x="1659.00" y="273.00" width="114.30" height="5.30" fill="#f4a582"/>
<rect x="1659.00" y="278.00" width="114.30" height="4.30" fill="#92c5de"/>
<rect x="1659.00" y="282.00" width="114.30" height="8.30" fill="#d1e5f0"/>
<rect x="1659.00" y="290.00" width="114.30" height="5.30" fill="#f7f7f7"/>
<rect x="1659.00" y="295.00" width="114.30" height="8.30" fill="#f4a582"/>
<rect x="1659.00" y="303.00" width="114.30" height="8.30" fill="#d1e5f0"/>
<rect x="1659.00" y="311.00" width="114.30" height="9.30" fill="#f4a582"/>
<rect x="1659.00" y="320.00" width="114.30" height="7.30" fill="#f7f7f7"/>
<rect x="1659.00" y="327.00" width="114.30" height="5.30" fill="#d6604d"/>
<rect x="1659.00" y="332.00" width="114.30" height="14.30" fill="#f7f7f7"/>
<rect x="1659.00" y="346.00" width="114.30" height="4.30" fill="#d1e5f0"/>
<rect x="1659.00" y="350.00" width="114.30" height="8.30" fill="#92c5de"/>
<rect x="1659.00" y="358.00" width="114.30" height="4.30" fill="#d6604d"/>
<rect x="1659.00" y="362.00" width="114.30" height="16.30" fill="#b2182b"/>
<rect x="1659.00" y="378.00" width="114.30" height="9.30" fill="#fddbc7"/>
<rect x="1659.00" y="387.00" width="114.30" height="8.30" fill="#92c5de"/>
<rect x="1659.00" y="395.00" width="114.30" height="16.30" fill="#b2182b"/>
<rect x="1659.00" y="411.00" width="114.30" height="4.30" fill="#d6604d"/>
<rect x="1659.00" y="415.00" width="114.30" height="22.30" fill="#b2182b"/>
<rect x="1659.00" y="437.00" width="114.30" height="4.30" fill="#67001f"/>
<rect x="1659.00" y="441.00" width="114.30" height="24.30" fill="#b2182b"/>
<rect x="1659.00" y="465.00" width="114.30" height="5.30" fill="#67001f"/>
<rect x="1659.00" y="470.00" width="114.30" height="11.30" fill="#b2182b"/>
<rect x="1659.00" y="481.00" width="114.30" height="5.30" fill="#d6604d"/>
<rect x="1659.00" y="486.00" width="114.30" height="5.30" fill="#67001f"/>
<rect x="1659.00" y="491.00" width="114.30" height="9.30" fill="#f7f7f7"/>
<rect x="1659.00" y="500.00" width="114.30" height="4.30" fill="#92c5de"/>
<rect x="1659.00" y="504.00" width="114.30" height="4.30" fill="#d6604d"/>
<rect x="1659.00" y="508.00" width="114.30" height="4.30" fill="#d1e5f0"/>
<rect x="1659.00" y="512.00" width="114.30" height="8.30" fill="#d6604d"/>
<rect x="1659.00" y="520.00" width="114.30" height="4.30" fill="#f7f7f7"/>
<rect x="1659.00" y="524.00" width="114.30" height="4.30" fill="#d1e5f0"/>
<rect x="1659.00" y="528.00" width="114.30" height="4.30" fill="#d6604d"/>
<rect x="1659.00" y="532.00" width="114.30" height="4.30" fill="#b2182b"/>
<rect x="1659.00" y="536.00" width="114.30" height="4.30" fill="#f7f7f7"/>
<rect x="1659.00" y="540.00" width="114.30" height="5.30" fill="#d1e5f0"/>
<rect x="1659.00" y="545.00" width="114.30" height="4.30" fill="#d6604d"/>
<rect x="1659.00" y="549.00" width="114.30" height="4.30" fill="#b2182b"/>
<rect x="1659.00" y="553.00" width="114.30" height="4.30" fill="#67001f"/>
<rect x="1659.00" y="557.00" width="114.30" height="4.30" fill="#d1e5f0"/>
<rect x="1659.00" y="561.00" width="114.30" height="5.30" fill="#b2182b"/>
<rect x="1659.00" y="566.00" width="114.30" height="4.30" fill="#f4a582"/>
<rect x="1659.00" y="570.00" width="114.30" height="4.30" fill="#d6604d"/>
<rect x="1659.00" y="574.00" width="114.30" height="4.30" fill="#92c5de"/>
<rect x="1659.00" y="578.00" width="114.30" height="5.30" fill="#b2182b"/>
<rect x="1659.00" y="583.00" width="114.30" height="12.30" fill="#92c5de"/>
<rect x="1659.00" y="595.00" width="114.30" height="4.30" fill="#fddbc7"/>
<rect x="1659.00" y="599.00" width="114.30" height="14.30" fill="#d1e5f0"/>
<rect x="1659.00" y="613.00" width="114.30" height="3.30" fill="#92c5de"/>
<rect x="1659.00" y="616.00" width="114.30" height="4.30" fill="#d6604d"/>
<rect x="1659.00" y="620.00" width="114.30" height="4.30" fill="#92c5de"/>
<rect x="1659.00" y="624.00" width="114.30" height="4.30" fill="#b2182b"/>
<rect x="1659.00" y="628.00" width="114.30" height="4.30" fill="#d6604d"/>
<rect x="1659.00" y="632.00" width="114.30" height="5.30" fill="#fddbc7"/>
<rect x="1659.00" y="637.00" width="114.30" height="5.30" fill="#d1e5f0"/>
<rect x="1659.00" y="642.00" width="114.30" height="4.30" fill="#f4a582"/>
<rect x="1659.00" y="646.00" width="114.30" height="4.30" fill="#d1e5f0"/>
<rect x="1659.00" y="650.00" width="114.30" height="4.30" fill="#b2182b"/>
<rect x="1659.00" y="654.00" width="114.30" height="4.30" fill="#d6604d"/>
<rect x="1659.00" y="658.00" width="114.30" height="4.30" fill="#fddbc7"/>
<rect x="1659.00" y="662.00" width="114.30" height="9.30" fill="#d1e5f0"/>
<rect x="1659.00" y="671.00" width="114.30" height="4.30" fill="#d6604d"/>
<rect x="1659.00" y="675.00" width="114.30" height="4.30" fill="#b2182b"/>
<rect x="1659.00" y="679.00" width="114.30" height="4.30" fill="#f4a582"/>
<rect x="1659.00" y="683.00" width="114.30" height="4.30" fill="#b2182b"/>
<rect x="1659.00" y="687.00" width="114.30" height="4.30" fill="#d1e5f0"/>
<rect x="1659.00" y="691.00" width="114.30" height="25.30" fill="#92c5de"/>
<rect x="1659.00" y="716.00" width="114.30" height="5.30" fill="#d1e5f0"/>
<rect x="1659.00" y="721.00" width="114.30" height="8.30" fill="#92c5de"/>
<rect x="1659.00" y="729.00" width="114.30" height="4.30" fill="#d6604d"/>
<rect x="1659.00" y="733.00" width="114.30" height="7.30" fill="#f4a582"/>
<rect x="1659.00" y="740.00" width="114.30" height="10.30" fill="#92c5de"/>
<rect x="1659.00" y="750.00" width="114.30" height="8.30" fill="#fddbc7"/>
<rect x="1659.00" y="758.00" width="114.30" height="4.30" fill="#d6604d"/>
<rect x="1659.00" y="762.00" width="114.30" height="4.30" fill="#f4a582"/>
<rect x="1659.00" y="766.00" width="114.30" height="4.30" fill="#b2182b"/>
<rect x="1659.00" y="770.00" width="114.30" height="4.30" fill="#f4a582"/>
<rect x="1659.00" y="774.00" width="114.30" height="5.30" fill="#d1e5f0"/>
<rect x="1659.00" y="779.00" width="114.30" height="7.30" fill="#b2182b"/>
<rect x="1659.00" y="786.00" width="114.30" height="5.30" fill="#d1e5f0"/>
<rect x="1659.00" y="791.00" width="114.30" height="5.30" fill="#67001f"/>
<rect x="1659.00" y="796.00" width="114.30" height="4.30" fill="#d1e5f0"/>
<rect x="1659.00" y="800.00" width="114.30" height="8.30" fill="#92c5de"/>
<rect x="1659.00" y="808.00" width="114.30" height="4.30" fill="#4393c3"/>
<rect x="1659.00" y="812.00" width="114.30" height="4.30" fill="#d1e5f0"/>
<rect x="1659.00" y="816.00" width="114.30" height="4.30" fill="#b2182b"/>
<rect x="1659.00" y="820.00" width="114.30" height="5.30" fill="#d1e5f0"/>
<rect x="1659.00" y="825.00" width="114.30" height="4.30" fill="#f4a582"/>
<rect x="1659.00" y="829.00" width="114.30" height="12.30" fill="#b2182b"/>
<rect x="1773.00" y="99.00" width="114.30" height="4.30" fill="#4393c3"/>
<rect x="1773.00" y="103.00" width="114.30" height="4.30" fill="#d6604d"/>
<rect x="1773.00" y="107.00" width="114.30" height="4.30" fill="#92c5de"/>
<rect x="1773.00" y="111.00" width="114.30" height="5.30" fill="#f7f7f7"/>
<rect x="1773.00" y="116.00" width="114.30" height="4.30" fill="#d1e5f0"/>
<rect x="1773.00" y="120.00" width="114.30" height="4.30" fill="#f7f7f7"/>
<rect x="1773.00" y="124.00" width="114.30" height="4.30" fill="#92c5de"/>
<rect x="1773.00" y="128.00" width="114.30" height="4.30" fill="#fddbc7"/>
<rect x="1773.00" y="132.00" width="114.30" height="9.30" fill="#d1e5f0"/>
<rect x="1773.00" y="141.00" width="114.30" height="4.30" fill="#4393c3"/>
<rect x="1773.00" y="145.00" width="114.30" height="8.30" fill="#d6604d"/>
<rect x="1773.00" y="153.00" width="114.30" height="4.30" fill="#d1e5f0"/>
<rect x="1773.00" y="157.00" width="114.30" height="20.30" fill="#92c5de"/>
<rect x="1773.00" y="177.00" width="114.30" height="5.30" fill="#d1e5f0"/>
<rect x="1773.00" y="182.00" width="114.30" height="7.30" fill="#92c5de"/>
<rect x="1773.00" y="189.00" width="114.30" height="6.30" fill="#d1e5f0"/>
<rect x="1773.00" y="195.00" width="114.30" height="5.30" fill="#92c5de"/>
<rect x="1773.00" y="200.00" width="114.30" height="3.30" fill="#d1e5f0"/>
<rect x="1773.00" y="203.00" width="114.30" height="4.30" fill="#b2182b"/>
<rect x="1773.00" y="207.00" width="114.30" height="8.30" fill="#92c5de"/>
<rect x="1773.00" y="215.00" width="114.30" height="4.30" fill="#d1e5f0"/>
<rect x="1773.00" y="219.00" width="114.30" height="6.30" fill="#f7f7f7"/>
<rect x="1773.00" y="225.00" width="114.30" height="4.30" fill="#d1e5f0"/>
<rect x="1773.00" y="229.00" width="114.30" height="3.30" fill="#fddbc7"/>
<rect x="1773.00" y="232.00" width="114.30" height="4.30" fill="#b2182b"/>
<rect x="1773.00" y="236.00" width="114.30" height="5.30" fill="#92c5de"/>
<rect x="1773.00" y="241.00" width="114.30" height="8.30" fill="#d1e5f0"/>
<rect x="1773.00" y="249.00" width="114.30" height="5.30" fill="#f7f7f7"/>
<rect x="1773.00" y="254.00" width="114.30" height="3.30" fill="#fddbc7"/>
<rect x="1773.00" y="257.00" width="114.30" height="4.30" fill="#f4a582"/>
<rect x="1773.00" y="261.00" width="114.30" height="5.30" fill="#d1e5f0"/>
<rect x="1773.00" y="266.00" width="114.30" height="4.30" fill="#f4a582"/>
<rect x="1773.00" y="270.00" width="114.30" height="8.30" fill="#b2182b"/>
<rect x="1773.00" y="278.00" width="114.30" height="8.30" fill="#d1e5f0"/>
<rect x="1773.00" y="286.00" width="114.30" height="4.30" fill="#f7f7f7"/>
<rect x="1773.00" y="290.00" width="114.30" height="13.30" fill="#fddbc7"/>
<rect x="1773.00" y="303.00" width="114.30" height="5.30" fill="#f7f7f7"/>
<rect x="1773.00" y="308.00" width="114.30" height="4.30" fill="#92c5de"/>
<rect x="1773.00" y="312.00" width="114.30" height="12.30" fill="#fddbc7"/>
<rect x="1773.00" y="324.00" width="114.30" height="4.30" fill="#d1e5f0"/>
<rect x="1773.00" y="328.00" width="114.30" height="4.30" fill="#b2182b"/>
<rect x="1773.00" y="332.00" width="114.30" height="14.30" fill="#f7f7f7"/>
<rect x="1773.00" y="346.00" width="114.30" height="4.30" fill="#d1e5f0"/>
<rect x="1773.00" y="350.00" width="114.30" height="8.30" fill="#92c5de"/>
<rect x="1773.00" y="358.00" width="114.30" height="20.30" fill="#d6604d"/>
<rect x="1773.00" y="378.00" width="114.30" height="9.30" fill="#fddbc7"/>
<rect x="1773.00" y="387.00" width="114.30" height="8.30" fill="#92c5de"/>
<rect x="1773.00" y="395.00" width="114.30" height="12.30" fill="#d6604d"/>
<rect x="1773.00" y="407.00" width="114.30" height="4.30" fill="#b2182b"/>
<rect x="1773.00" y="411.00" width="114.30" height="18.30" fill="#d6604d"/>
<rect x="1773.00" y="429.00" width="114.30" height="3.30" fill="#b2182b"/>
<rect x="1773.00" y="432.00" width="114.30" height="9.30" fill="#f4a582"/>
<rect x="1773.00" y="441.00" width="114.30" height="4.30" fill="#b2182b"/>
<rect x="1773.00" y="445.00" width="114.30" height="20.30" fill="#d6604d"/>
<rect x="1773.00" y="465.00" width="114.30" height="8.30" fill="#f4a582"/>
<rect x="1773.00" y="473.00" width="114.30" height="4.30" fill="#d6604d"/>
<rect x="1773.00" y="477.00" width="114.30" height="12.30" fill="#f4a582"/>
<rect x="1773.00" y="489.00" width="114.30" height="11.30" fill="#fddbc7"/>
<rect x="1773.00" y="500.00" width="114.30" height="4.30" fill="#92c5de"/>
<rect x="1773.00" y="504.00" width="114.30" height="4.30" fill="#b2182b"/>
<rect x="1773.00" y="508.00" width="114.30" height="4.30" fill="#92c5de"/>
<rect x="1773.00" y="512.00" width="114.30" height="8.30" fill="#b2182b"/>
<rect x="1773.00" y="520.00" width="114.30" height="5.30" fill="#f7f7f7"/>
<rect x="1773.00" y="525.00" width="114.30" height="4.30" fill="#92c5de"/>
<rect x="1773.00" y="529.00" width="114.30" height="4.30" fill="#f4a582"/>
<rect x="1773.00" y="533.00" width="114.30" height="4.30" fill="#b2182b"/>
<rect x="1773.00" y="537.00" width="114.30" height="8.30" fill="#92c5de"/>
<rect x="1773.00" y="545.00" width="114.30" height="4.30" fill="#d6604d"/>
<rect x="1773.00" y="549.00" width="114.30" height="8.30" fill="#f4a582"/>
<rect x="1773.00" y="557.00" width="114.30" height="4.30" fill="#d1e5f0"/>
<rect x="1773.00" y="561.00" width="114.30" height="5.30" fill="#d6604d"/>
<rect x="1773.00" y="566.00" width="114.30" height="8.30" fill="#f4a582"/>
<rect x="1773.00" y="574.00" width="114.30" height="4.30" fill="#92c5de"/>
<rect x="1773.00" y="578.00" width="114.30" height="5.30" fill="#d6604d"/>
<rect x="1773.00" y="583.00" width="114.30" height="12.30" fill="#92c5de"/>
<rect x="1773.00" y="595.00" width="114.30" height="8.30" fill="#fddbc7"/>
<rect x="1773.00" y="603.00" width="114.30" height="5.30" fill="#92c5de"/>
<rect x="1773.00" y="608.00" width="114.30" height="5.30" fill="#d1e5f0"/>
<rect x="1773.00" y="613.00" width="114.30" height="3.30" fill="#92c5de"/>
<rect x="1773.00" y="616.00" width="114.30" height="4.30" fill="#d6604d"/>
<rect x="1773.00" y="620.00" width="114.30" height="4.30" fill="#92c5de"/>
<rect x="1773.00" y="624.00" width="114.30" height="8.30" fill="#f4a582"/>
<rect x="1773.00" y="632.00" width="114.30" height="5.30" fill="#67001f"/>
<rect x="1773.00" y="637.00" width="114.30" height="4.30" fill="#92c5de"/>
<rect x="1773.00" y="641.00" width="114.30" height="5.30" fill="#67001f"/>
<rect x="1773.00" y="646.00" width="114.30" height="4.30" fill="#d1e5f0"/>
<rect x="1773.00" y="650.00" width="114.30" height="4.30" fill="#d6604d"/>
<rect x="1773.00" y="654.00" width="114.30" height="4.30" fill="#b2182b"/>
<rect x="1773.00" y="658.00" width="114.30" height="4.30" fill="#d6604d"/>
<rect x="1773.00" y="662.00" width="114.30" height="4.30" fill="#d1e5f0"/>
<rect x="1773.00" y="666.00" width="114.30" height="5.30" fill="#92c5de"/>
<rect x="1773.00" y="671.00" width="114.30" height="4.30" fill="#d6604d"/>
<rect x="1773.00" y="675.00" width="114.30" height="4.30" fill="#f4a582"/>
<rect x="1773.00" y="679.00" width="114.30" height="4.30" fill="#d6604d"/>
<rect x="1773.00" y="683.00" width="114.30" height="4.30" fill="#f4a582"/>
<rect x="1773.00" y="687.00" width="114.30" height="4.30" fill="#f7f7f7"/>
<rect x="1773.00" y="691.00" width="114.30" height="38.30" fill="#92c5de"/>
<rect x="1773.00" y="729.00" width="114.30" height="4.30" fill="#b2182b"/>
<rect x="1773.00" y="733.00" width="114.30" height="8.30" fill="#f4a582"/>
<rect x="1773.00" y="741.00" width="114.30" height="13.30" fill="#92c5de"/>
<rect x="1773.00" y="754.00" width="114.30" height="4.30" fill="#f7f7f7"/>
<rect x="1773.00" y="758.00" width="114.30" height="4.30" fill="#d6604d"/>
<rect x="1773.00" y="762.00" width="114.30" height="4.30" fill="#fddbc7"/>
<rect x="1773.00" y="766.00" width="114.30" height="8.30" fill="#d6604d"/>
<rect x="1773.00" y="774.00" width="114.30" height="5.30" fill="#fddbc7"/>
<rect x="1773.00" y="779.00" width="114.30" height="7.30" fill="#d6604d"/>
<rect x="1773.00" y="786.00" width="114.30" height="5.30" fill="#d1e5f0"/>
<rect x="1773.00" y="791.00" width="114.30" height="5.30" fill="#f4a582"/>
<rect x="1773.00" y="796.00" width="114.30" height="4.30" fill="#d1e5f0"/>
<rect x="1773.00" y="800.00" width="114.30" height="4.30" fill="#f4a582"/>
<rect x="1773.00" y="804.00" width="114.30" height="4.30" fill="#d1e5f0"/>
<rect x="1773.00" y="808.00" width="114.30" height="8.30" fill="#4393c3"/>
<rect x="1773.00" y="816.00" width="114.30" height="4.30" fill="#d6604d"/>
<rect x="1773.00" y="820.00" width="114.30" height="5.30" fill="#d1e5f0"/>
<rect x="1773.00" y="825.00" width="114.30" height="4.30" fill="#fddbc7"/>
<rect x="1773.00" y="829.00" width="114.30" height="8.30" fill="#d6604d"/>
<rect x="1773.00" y="837.00" width="114.30" height="4.30" fill="#fddbc7"/>
</g>
<path d="M1203,103.08h684M1203,107.16h684M1203,111.24h684M1203,115.32h684M1203,119.40h684M1203,123.47h684M1203,127.55h684M1203,131.63h684M1203,135.71h684M1203,139.79h684M1203,143.87h684M1203,147.95h684M1203,152.03h684M1203,156.11h684M1203,160.19h684M1203,164.27h684M1203,168.35h684M1203,172.42h684M1203,176.50h684M1203,180.58h684M1203,184.66h684M1203,188.74h684M1203,192.82h684M1203,196.90h684M1203,200.98h684M1203,205.06h684M1203,209.14h684M1203,213.22h684M1203,217.29h684M1203,221.37h684M1203,225.45h684M1203,229.53h684M1203,233.61h684M1203,237.69h684M1203,241.77h684M1203,245.85h684M1203,249.93h684M1203,254.01h684M1203,258.09h684M1203,262.16h684M1203,266.24h684M1203,270.32h684M1203,274.40h684M1203,278.48h684M1203,282.56h684M1203,286.64h684M1203,290.72h684M1203,294.80h684M1203,298.88h684M1203,302.96h684M1203,307.04h684M1203,311.11h684M1203,315.19h684M1203,319.27h684M1203,323.35h684M1203,327.43h684M1203,331.51h684M1203,335.59h684M1203,339.67h684M1203,343.75h684M1203,347.83h684M1203,351.91h684M1203,355.98h684M1203,360.06h684M1203,364.14h684M1203,368.22h684M1203,372.30h684M1203,376.38h684M1203,380.46h684M1203,384.54h684M1203,388.62h684M1203,392.70h684M1203,396.78h684M1203,400.85h684M1203,404.93h684M1203,409.01h684M1203,413.09h684M1203,417.17h684M1203,421.25h684M1203,425.33h684M1203,429.41h684M1203,433.49h684M1203,437.57h684M1203,441.65h684M1203,445.73h684M1203,449.80h684M1203,453.88h684M1203,457.96h684M1203,462.04h684M1203,466.12h684M1203,470.20h684M1203,474.28h684M1203,478.36h684M1203,482.44h684M1203,486.52h684M1203,490.60h684M1203,494.67h684M1203,498.75h684M1203,502.83h684M1203,506.91h684M1203,510.99h684M1203,515.07h684M1203,519.15h684M1203,523.23h684M1203,527.31h684M1203,531.39h684M1203,535.47h684M1203,539.55h684M1203,543.62h684M1203,547.70h684M1203,551.78h684M1203,555.86h684M1203,559.94h684M1203,564.02h684M1203,568.10h684M1203,572.18h684M1203,576.26h684M1203,580.34h684M1203,584.42h684M1203,588.49h684M1203,592.57h684M1203,596.65h684M1203,600.73h684M1203,604.81h684M1203,608.89h684M1203,612.97h684M1203,617.05h684M1203,621.13h684M1203,625.21h684M1203,629.29h684M1203,633.36h684M1203,637.44h684M1203,641.52h684M1203,645.60h684M1203,649.68h684M1203,653.76h684M1203,657.84h684M1203,661.92h684M1203,666.00h684M1203,670.08h684M1203,674.16h684M1203,678.24h684M1203,682.31h684M1203,686.39h684M1203,690.47h684M1203,694.55h684M1203,698.63h684M1203,702.71h684M1203,706.79h684M1203,710.87h684M1203,714.95h684M1203,719.03h684M1203,723.11h684M1203,727.18h684M1203,731.26h684M1203,735.34h684M1203,739.42h684M1203,743.50h684M1203,747.58h684M1203,751.66h684M1203,755.74h684M1203,759.82h684M1203,763.90h684M1203,767.98h684M1203,772.05h684M1203,776.13h684M1203,780.21h684M1203,784.29h684M1203,788.37h684M1203,792.45h684M1203,796.53h684M1203,800.61h684M1203,804.69h684M1203,808.77h684M1203,812.85h684M1203,816.93h684M1203,821.00h684M1203,825.08h684M1203,829.16h684M1203,833.24h684M1203,837.32h684" stroke="#fff" stroke-opacity="0.17" stroke-width="0.9" fill="none"/>
<path d="M1317.00,99v742.4M1431.00,99v742.4M1545.00,99v742.4M1659.00,99v742.4M1773.00,99v742.4" stroke="#fff" stroke-opacity="0.25" stroke-width="0.9" fill="none"/>
<g shape-rendering="crispEdges">
<rect x="1160.00" y="486.20" width="26.80" height="32.37" fill="#67001f"/>
<rect x="1160.00" y="518.07" width="26.80" height="32.37" fill="#b2182b"/>
<rect x="1160.00" y="549.95" width="26.80" height="32.37" fill="#d6604d"/>
<rect x="1160.00" y="581.82" width="26.80" height="32.37" fill="#f4a582"/>
<rect x="1160.00" y="613.69" width="26.80" height="32.37" fill="#fddbc7"/>
<rect x="1160.00" y="645.56" width="26.80" height="32.37" fill="#f7f7f7"/>
<rect x="1160.00" y="677.44" width="26.80" height="32.37" fill="#d1e5f0"/>
<rect x="1160.00" y="709.31" width="26.80" height="32.37" fill="#92c5de"/>
<rect x="1160.00" y="741.18" width="26.80" height="32.37" fill="#4393c3"/>
<rect x="1160.00" y="773.05" width="26.80" height="32.37" fill="#2166ac"/>
<rect x="1160.00" y="804.93" width="26.80" height="32.37" fill="#053061"/>
</g>
<text x="4.5" y="42.5" font-size="58" font-weight="bold" fill="#000">a</text>
<text x="1098.7" y="41.5" font-size="58" font-weight="bold" fill="#000">b</text>
<text x="4.0" y="1025.5" font-size="58" font-weight="bold" fill="#000">c</text>
<text x="938.7" y="1025.5" font-size="58" font-weight="bold" fill="#000">d</text>
<text x="1428.0" y="1027.5" font-size="58" font-weight="bold" fill="#000">e</text>
<text x="5.0" y="1892.0" font-size="58" font-weight="bold" fill="#000">f</text>
<text x="1065.6" y="1892.5" font-size="58" font-weight="bold" fill="#000">g</text>
<text x="154.0" y="62.0" font-size="42" font-weight="bold" fill="#000">MFP ECF</text>
<text x="377.4" y="62.0" font-size="42" font-weight="bold" fill="#000">Brain ECF</text>
<text x="598.4" y="62.0" font-size="42" font-weight="bold" fill="#000">Liver ECF</text>
<text x="1268.6" y="62.0" font-size="42" font-weight="bold" fill="#000">MFP</text>
<text x="1495.9" y="62.0" font-size="42" font-weight="bold" fill="#000">Brain</text>
<text x="1727.7" y="62.0" font-size="42" font-weight="bold" fill="#000">Liver</text>
<path d="M125.5,90 L125.5,77.3 L808.3,77.3 L808.3,90" fill="none" stroke="#222" stroke-width="2.2"/>
<line x1="353.80" y1="77.30" x2="353.80" y2="90.00" stroke="#222" stroke-width="2.8"/>
<line x1="581.80" y1="77.30" x2="581.80" y2="90.00" stroke="#222" stroke-width="2.8"/>
<path d="M1203,90 L1203,77.3 L1887.8,77.3 L1887.8,90" fill="none" stroke="#222" stroke-width="2.2"/>
<line x1="1430.80" y1="77.30" x2="1430.80" y2="90.00" stroke="#222" stroke-width="2.8"/>
<line x1="1659.00" y1="77.30" x2="1659.00" y2="90.00" stroke="#222" stroke-width="2.8"/>
<text x="58.5" y="489.2" font-size="24" font-weight="normal" fill="#000">2</text>
<text x="57.0" y="589.6" font-size="24" font-weight="normal" fill="#000">1</text>
<text x="58.9" y="666.6" font-size="24" font-weight="normal" fill="#000">0</text>
<text x="43.0" y="743.2" font-size="24" font-weight="normal" fill="#000">−1</text>
<text x="44.5" y="833.8" font-size="24" font-weight="normal" fill="#000">−2</text>
<text x="1138.6" y="494.8" font-size="24" font-weight="normal" fill="#000">2</text>
<text x="1137.0" y="577.2" font-size="24" font-weight="normal" fill="#000">1</text>
<text x="1138.6" y="669.7" font-size="24" font-weight="normal" fill="#000">0</text>
<text x="1123.0" y="773.5" font-size="24" font-weight="normal" fill="#000">−1</text>
<text x="1124.6" y="840.9" font-size="24" font-weight="normal" fill="#000">−2</text>
<text transform="translate(35.7,642.9) rotate(-90)" x="-75.5" y="0" font-size="29" font-weight="normal" fill="#000">row z-score</text>
<text transform="translate(1109.4,655.5) rotate(-90)" x="-75.5" y="0" font-size="29" font-weight="normal" fill="#000">row z-score</text>
<line x1="827.50" y1="98.00" x2="827.50" y2="839.60" stroke="#333" stroke-width="1.6"/>
<line x1="824.00" y1="98.00" x2="827.50" y2="98.00" stroke="#333" stroke-width="1.6"/>
<line x1="824.00" y1="107.00" x2="827.50" y2="107.00" stroke="#333" stroke-width="1.6"/>
<line x1="824.00" y1="157.00" x2="827.50" y2="157.00" stroke="#333" stroke-width="1.6"/>
<line x1="824.00" y1="415.00" x2="827.50" y2="415.00" stroke="#333" stroke-width="1.6"/>
<line x1="824.00" y1="448.00" x2="827.50" y2="448.00" stroke="#333" stroke-width="1.6"/>
<line x1="824.00" y1="478.00" x2="827.50" y2="478.00" stroke="#333" stroke-width="1.6"/>
<line x1="824.00" y1="609.00" x2="827.50" y2="609.00" stroke="#333" stroke-width="1.6"/>
<line x1="824.00" y1="693.60" x2="827.50" y2="693.60" stroke="#333" stroke-width="1.6"/>
<line x1="824.00" y1="715.60" x2="827.50" y2="715.60" stroke="#333" stroke-width="1.6"/>
<line x1="824.00" y1="755.00" x2="827.50" y2="755.00" stroke="#333" stroke-width="1.6"/>
<line x1="824.00" y1="770.50" x2="827.50" y2="770.50" stroke="#333" stroke-width="1.6"/>
<line x1="824.00" y1="783.00" x2="827.50" y2="783.00" stroke="#333" stroke-width="1.6"/>
<line x1="824.00" y1="794.00" x2="827.50" y2="794.00" stroke="#333" stroke-width="1.6"/>
<line x1="824.00" y1="839.60" x2="827.50" y2="839.60" stroke="#333" stroke-width="1.6"/>
<line x1="830.00" y1="102.00" x2="841.00" y2="102.00" stroke="#555" stroke-width="1.8"/>
<line x1="830.00" y1="129.00" x2="841.00" y2="129.00" stroke="#555" stroke-width="1.8"/>
<line x1="830.00" y1="272.70" x2="841.00" y2="272.70" stroke="#555" stroke-width="1.8"/>
<line x1="830.00" y1="432.00" x2="841.00" y2="432.00" stroke="#555" stroke-width="1.8"/>
<line x1="830.00" y1="465.00" x2="841.00" y2="465.00" stroke="#555" stroke-width="1.8"/>
<line x1="830.00" y1="537.50" x2="841.00" y2="537.50" stroke="#555" stroke-width="1.8"/>
<line x1="830.00" y1="647.00" x2="841.00" y2="647.00" stroke="#555" stroke-width="1.8"/>
<line x1="830.00" y1="704.00" x2="841.00" y2="704.00" stroke="#555" stroke-width="1.8"/>
<line x1="830.00" y1="734.00" x2="841.00" y2="734.00" stroke="#555" stroke-width="1.8"/>
<line x1="830.00" y1="762.70" x2="841.00" y2="762.70" stroke="#555" stroke-width="1.8"/>
<line x1="827.50" y1="776.60" x2="839.00" y2="783.00" stroke="#555" stroke-width="1.6"/>
<line x1="827.50" y1="788.00" x2="845.00" y2="803.00" stroke="#555" stroke-width="1.6"/>
<text x="845.8" y="117.6" font-size="33.5" font-weight="normal" fill="#000">MAG</text>
<text x="845.8" y="150.5" font-size="33.5" font-weight="normal" fill="#000">DAG</text>
<text x="847.8" y="283.4" font-size="33.5" font-weight="normal" fill="#000">TAG</text>
<text x="845.8" y="443.7" font-size="33.5" font-weight="normal" fill="#000">LPC</text>
<text x="845.8" y="477.4" font-size="33.5" font-weight="normal" fill="#000">LPE</text>
<text x="845.8" y="549.0" font-size="33.5" font-weight="normal" fill="#000">PC</text>
<text x="845.8" y="654.0" font-size="33.5" font-weight="normal" fill="#000">PE</text>
<text x="846.8" y="715.6" font-size="33.5" font-weight="normal" fill="#000">CE</text>
<text x="846.8" y="746.0" font-size="33.5" font-weight="normal" fill="#000">SM</text>
<text x="845.8" y="771.5" font-size="33.5" font-weight="normal" fill="#000">PC</text>
<text x="845.8" y="797.0" font-size="33.5" font-weight="normal" fill="#000">PI</text>
<text x="845.8" y="823.7" font-size="33.5" font-weight="normal" fill="#000">PS</text>
<text x="829.0" y="843.5" font-size="29" font-weight="normal" fill="#000">@</text>
<line x1="1905.30" y1="98.00" x2="1905.30" y2="840.00" stroke="#333" stroke-width="1.6"/>
<line x1="1901.80" y1="98.30" x2="1905.30" y2="98.30" stroke="#333" stroke-width="1.6"/>
<line x1="1901.80" y1="107.00" x2="1905.30" y2="107.00" stroke="#333" stroke-width="1.6"/>
<line x1="1901.80" y1="158.00" x2="1905.30" y2="158.00" stroke="#333" stroke-width="1.6"/>
<line x1="1901.80" y1="415.00" x2="1905.30" y2="415.00" stroke="#333" stroke-width="1.6"/>
<line x1="1901.80" y1="453.80" x2="1905.30" y2="453.80" stroke="#333" stroke-width="1.6"/>
<line x1="1901.80" y1="491.50" x2="1905.30" y2="491.50" stroke="#333" stroke-width="1.6"/>
<line x1="1901.80" y1="632.60" x2="1905.30" y2="632.60" stroke="#333" stroke-width="1.6"/>
<line x1="1901.80" y1="728.80" x2="1905.30" y2="728.80" stroke="#333" stroke-width="1.6"/>
<line x1="1901.80" y1="769.60" x2="1905.30" y2="769.60" stroke="#333" stroke-width="1.6"/>
<line x1="1901.80" y1="783.40" x2="1905.30" y2="783.40" stroke="#333" stroke-width="1.6"/>
<line x1="1901.80" y1="795.30" x2="1905.30" y2="795.30" stroke="#333" stroke-width="1.6"/>
<line x1="1901.80" y1="840.00" x2="1905.30" y2="840.00" stroke="#333" stroke-width="1.6"/>
<line x1="1905.60" y1="103.00" x2="1918.80" y2="103.00" stroke="#555" stroke-width="1.8"/>
<line x1="1905.60" y1="129.80" x2="1918.80" y2="129.80" stroke="#555" stroke-width="1.8"/>
<line x1="1905.60" y1="273.30" x2="1918.80" y2="273.30" stroke="#555" stroke-width="1.8"/>
<line x1="1905.60" y1="432.70" x2="1918.80" y2="432.70" stroke="#555" stroke-width="1.8"/>
<line x1="1905.60" y1="469.50" x2="1918.80" y2="469.50" stroke="#555" stroke-width="1.8"/>
<line x1="1905.60" y1="554.70" x2="1918.80" y2="554.70" stroke="#555" stroke-width="1.8"/>
<line x1="1905.60" y1="675.80" x2="1918.80" y2="675.80" stroke="#555" stroke-width="1.8"/>
<line x1="1905.60" y1="747.30" x2="1918.80" y2="747.30" stroke="#555" stroke-width="1.8"/>
<line x1="1905.60" y1="776.00" x2="1918.80" y2="776.00" stroke="#555" stroke-width="1.8"/>
<line x1="1905.60" y1="789.40" x2="1918.80" y2="789.40" stroke="#555" stroke-width="1.8"/>
<text x="1923.7" y="113.0" font-size="33.5" font-weight="normal" fill="#000">MAG</text>
<text x="1923.7" y="144.0" font-size="33.5" font-weight="normal" fill="#000">DAG</text>
<text x="1925.7" y="286.0" font-size="33.5" font-weight="normal" fill="#000">TAG</text>
<text x="1923.7" y="443.7" font-size="33.5" font-weight="normal" fill="#000">LPC</text>
<text x="1923.7" y="484.7" font-size="33.5" font-weight="normal" fill="#000">LPE</text>
<text x="1923.7" y="567.0" font-size="33.5" font-weight="normal" fill="#000">PC</text>
<text x="1923.7" y="689.0" font-size="33.5" font-weight="normal" fill="#000">PE</text>
<text x="1924.7" y="752.0" font-size="33.5" font-weight="normal" fill="#000">SM</text>
<text x="1923.7" y="784.0" font-size="33.5" font-weight="normal" fill="#000">PI</text>
<text x="1923.7" y="812.7" font-size="33.5" font-weight="normal" fill="#000">PS</text>
<text x="1907.0" y="840.0" font-size="29" font-weight="normal" fill="#000">@</text>
<text x="172.9" y="1055.3" font-size="41" font-weight="bold" fill="#1a1a1a" textLength="235.5" lengthAdjust="spacingAndGlyphs"><tspan fill="#5277b3">Brain</tspan> tumor</text>
<text x="443.3" y="1055.3" font-size="41" font-weight="bold" fill="#1a1a1a" textLength="229.3" lengthAdjust="spacingAndGlyphs"><tspan fill="#f39a1e">Liver</tspan> tumor</text>
<rect x="159.70" y="1068.50" width="258.00" height="4.00" fill="#1a1a1a"/>
<rect x="430.60" y="1068.50" width="257.70" height="4.00" fill="#1a1a1a"/>
<defs>
<filter id="bl2" x="-10%" y="-100%" width="120%" height="300%"><feGaussianBlur stdDeviation="1.9 2.1"/></filter>
<filter id="bl1" x="-10%" y="-10%" width="120%" height="120%"><feGaussianBlur stdDeviation="2.5"/></filter>
</defs>
<rect x="147.50" y="1108.00" width="557.30" height="45.60" fill="#eeeeee"/>
<g filter="url(#bl1)">
<rect x="160.00" y="1108.00" width="78.00" height="22.00" fill="#dedede"/>
<rect x="241.00" y="1109.00" width="10.00" height="43.60" fill="#f3f3f3"/>
<rect x="332.00" y="1109.00" width="9.00" height="43.60" fill="#f3f3f3"/>
<rect x="423.00" y="1109.00" width="7.00" height="43.60" fill="#f3f3f3"/>
<rect x="511.00" y="1109.00" width="10.00" height="43.60" fill="#f3f3f3"/>
<rect x="604.00" y="1109.00" width="9.00" height="43.60" fill="#f3f3f3"/>
</g>
<g filter="url(#bl2)">
<path d="M160.5,1130.5 Q199.0,1128.0 237.5,1129.5" stroke="#555" stroke-width="6.5" fill="none" stroke-linecap="butt"/>
<path d="M253.0,1124.0 Q290.2,1123.8 327.5,1126.5" stroke="#c3c3c3" stroke-width="3.5" fill="none" stroke-linecap="butt"/>
<path d="M344.5,1129.0 Q381.2,1129.5 418.0,1132.0" stroke="#9a9a9a" stroke-width="5" fill="none" stroke-linecap="butt"/>
<path d="M432.3,1133.0 Q470.2,1130.0 508.2,1132.6" stroke="#a0a0a0" stroke-width="5" fill="none" stroke-linecap="butt"/>
<path d="M525.5,1131.4 Q562.8,1131.0 600.0,1131.4" stroke="#a6a6a6" stroke-width="4.5" fill="none" stroke-linecap="butt"/>
<path d="M616.7,1132.6 Q655.0,1125.9 693.4,1125.6" stroke="#a8a8a8" stroke-width="4.5" fill="none" stroke-linecap="butt"/>
</g>
<rect x="149.20" y="1222.40" width="558.30" height="62.30" fill="#eeeeee"/>
<g filter="url(#bl1)">
<rect x="236.00" y="1223.40" width="9.00" height="60.30" fill="#f2f2f2"/>
<rect x="326.00" y="1223.40" width="9.00" height="60.30" fill="#f2f2f2"/>
<rect x="413.00" y="1223.40" width="9.00" height="60.30" fill="#f2f2f2"/>
<rect x="501.00" y="1223.40" width="10.00" height="60.30" fill="#f2f2f2"/>
<rect x="595.00" y="1223.40" width="8.00" height="60.30" fill="#f2f2f2"/>
</g>
<g filter="url(#bl2)">
<path d="M159.0,1255.0 Q195.8,1249.8 232.6,1255.0" stroke="#3a3a3a" stroke-width="6" fill="none" stroke-linecap="butt"/>
<path d="M248.0,1255.6 Q284.9,1247.6 321.7,1257.3" stroke="#606060" stroke-width="5.5" fill="none" stroke-linecap="butt"/>
<path d="M337.2,1254.7 Q373.5,1252.8 409.8,1255.0" stroke="#8a8a8a" stroke-width="5" fill="none" stroke-linecap="butt"/>
<path d="M425.3,1254.7 Q461.5,1249.2 497.6,1253.0" stroke="#777" stroke-width="5.5" fill="none" stroke-linecap="butt"/>
<path d="M514.4,1251.5 Q552.7,1250.1 591.0,1251.5" stroke="#a4a4a4" stroke-width="4" fill="none" stroke-linecap="butt"/>
<path d="M605.2,1252.5 Q646.6,1249.0 688.0,1247.6" stroke="#bcbcbc" stroke-width="3.5" fill="none" stroke-linecap="butt"/>
</g>
<rect x="149.50" y="1346.20" width="558.90" height="82.00" fill="#f3f3f3"/>
<g filter="url(#bl1)">
<rect x="241.00" y="1347.20" width="9.00" height="80.00" fill="#f6f6f6"/>
<rect x="331.00" y="1347.20" width="9.00" height="80.00" fill="#f6f6f6"/>
<rect x="422.00" y="1347.20" width="8.00" height="80.00" fill="#f6f6f6"/>
<rect x="511.00" y="1347.20" width="9.00" height="80.00" fill="#f6f6f6"/>
<rect x="602.00" y="1347.20" width="9.00" height="80.00" fill="#f6f6f6"/>
</g>
<g filter="url(#bl2)">
<path d="M159.0,1383.5 Q198.7,1383.8 238.4,1385.0" stroke="#8f8f8f" stroke-width="11" fill="none" stroke-linecap="butt"/>
<path d="M252.9,1383.5 Q290.4,1383.8 327.8,1385.0" stroke="#a2a2a2" stroke-width="8.5" fill="none" stroke-linecap="butt"/>
<path d="M342.8,1385.0 Q380.8,1385.3 418.7,1390.3" stroke="#8c8c8c" stroke-width="10" fill="none" stroke-linecap="butt"/>
<path d="M432.3,1391.0 Q470.2,1390.2 508.2,1394.7" stroke="#8e8e8e" stroke-width="11" fill="none" stroke-linecap="butt"/>
<path d="M523.2,1392.6 Q561.1,1391.8 599.0,1392.6" stroke="#909090" stroke-width="10.5" fill="none" stroke-linecap="butt"/>
<path d="M613.1,1392.0 Q651.5,1385.3 689.8,1389.4" stroke="#9a9a9a" stroke-width="9.5" fill="none" stroke-linecap="butt"/>
</g>
<rect x="155.30" y="1500.20" width="552.40" height="46.10" fill="#f0f0f0"/>
<g filter="url(#bl2)">
<path d="M163.0,1522.5 Q199.8,1519.2 236.5,1519.0" stroke="#151515" stroke-width="7" fill="none" stroke-linecap="butt"/>
<path d="M250.0,1521.0 Q287.8,1520.0 325.5,1523.0" stroke="#5e5e5e" stroke-width="5" fill="none" stroke-linecap="butt"/>
<path d="M341.0,1520.5 Q376.8,1518.2 412.5,1521.0" stroke="#353535" stroke-width="6.5" fill="none" stroke-linecap="butt"/>
<path d="M425.0,1521.0 Q463.0,1518.2 501.0,1522.5" stroke="#7a7a7a" stroke-width="5" fill="none" stroke-linecap="butt"/>
<path d="M515.0,1523.5 Q553.2,1523.0 591.5,1524.5" stroke="#777" stroke-width="5" fill="none" stroke-linecap="butt"/>
<path d="M606.0,1525.0 Q645.5,1522.5 685.0,1520.0" stroke="#c4c4c4" stroke-width="4" fill="none" stroke-linecap="butt"/>
<path d="M163.0,1538.0 Q199.8,1538.0 236.5,1538.0" stroke="#e2e2e2" stroke-width="3" fill="none" stroke-linecap="butt"/>
<path d="M341.0,1538.0 Q376.8,1538.0 412.5,1538.0" stroke="#e4e4e4" stroke-width="3" fill="none" stroke-linecap="butt"/>
<path d="M425.0,1538.0 Q463.0,1538.0 501.0,1538.0" stroke="#e4e4e4" stroke-width="3" fill="none" stroke-linecap="butt"/>
</g>
<rect x="162.60" y="1636.00" width="541.20" height="78.30" fill="#f3f3f3"/>
<g filter="url(#bl2)">
<path d="M167.0,1668.0 Q206.0,1664.5 245.0,1669.0" stroke="#484848" stroke-width="8" fill="none" stroke-linecap="butt"/>
<path d="M252.0,1667.0 Q292.3,1666.5 332.6,1676.0" stroke="#4a4a4a" stroke-width="8.5" fill="none" stroke-linecap="butt"/>
<path d="M340.0,1671.5 Q379.9,1671.2 419.8,1674.0" stroke="#424242" stroke-width="8" fill="none" stroke-linecap="butt"/>
<path d="M427.2,1673.5 Q466.8,1673.2 506.3,1678.0" stroke="#454545" stroke-width="8" fill="none" stroke-linecap="butt"/>
<path d="M512.4,1676.5 Q554.6,1677.2 596.8,1681.0" stroke="#3c3c3c" stroke-width="8.5" fill="none" stroke-linecap="butt"/>
<path d="M605.0,1682.0 Q647.2,1677.8 689.4,1672.5" stroke="#3a3a3a" stroke-width="8.5" fill="none" stroke-linecap="butt"/>
</g>
<text x="25.0" y="1146.0" font-size="40.6" font-weight="normal" fill="#111">ACC1</text>
<text x="31.0" y="1268.5" font-size="40.6" font-weight="normal" fill="#111">ACLY</text>
<text x="25.5" y="1405.0" font-size="40.6" font-weight="normal" fill="#111">FASN</text>
<text x="24.0" y="1536.0" font-size="40.6" font-weight="normal" fill="#111">SCD1</text>
<text x="9.5" y="1680.0" font-size="40.6" font-weight="normal" fill="#111">β-actin</text>
<text transform="translate(179.3,1176.8) scale(0.94,1)" x="0" y="0" font-size="24" font-weight="normal" fill="#939393">1.57</text>
<text transform="translate(271.3,1176.8) scale(0.94,1)" x="0" y="0" font-size="24" font-weight="normal" fill="#939393">0.84</text>
<text transform="translate(360.7,1176.8) scale(0.94,1)" x="0" y="0" font-size="24" font-weight="normal" fill="#939393">1.09</text>
<text transform="translate(444.5,1176.8) scale(0.94,1)" x="0" y="0" font-size="24" font-weight="normal" fill="#939393">0.85</text>
<text transform="translate(537.3,1176.8) scale(0.94,1)" x="0" y="0" font-size="24" font-weight="normal" fill="#939393">0.94</text>
<text transform="translate(635.6,1176.8) scale(0.94,1)" x="0" y="0" font-size="24" font-weight="normal" fill="#939393">1.06</text>
<text transform="translate(171.1,1311.5) scale(0.94,1)" x="0" y="0" font-size="24" font-weight="normal" fill="#939393">1.71</text>
<text transform="translate(263.7,1311.5) scale(0.94,1)" x="0" y="0" font-size="24" font-weight="normal" fill="#939393">1.20</text>
<text transform="translate(352.9,1311.5) scale(0.94,1)" x="0" y="0" font-size="24" font-weight="normal" fill="#939393">1.32</text>
<text transform="translate(437.9,1311.5) scale(0.94,1)" x="0" y="0" font-size="24" font-weight="normal" fill="#939393">0.82</text>
<text transform="translate(530.4,1311.5) scale(0.94,1)" x="0" y="0" font-size="24" font-weight="normal" fill="#939393">0.76</text>
<text transform="translate(627.2,1311.5) scale(0.94,1)" x="0" y="0" font-size="24" font-weight="normal" fill="#939393">0.51</text>
<text transform="translate(179.8,1459.3) scale(0.94,1)" x="0" y="0" font-size="24" font-weight="normal" fill="#939393">0.99</text>
<text transform="translate(271.8,1459.3) scale(0.94,1)" x="0" y="0" font-size="24" font-weight="normal" fill="#939393">0.92</text>
<text transform="translate(360.7,1459.3) scale(0.94,1)" x="0" y="0" font-size="24" font-weight="normal" fill="#939393">1.17</text>
<text transform="translate(445.7,1459.3) scale(0.94,1)" x="0" y="0" font-size="24" font-weight="normal" fill="#939393">0.99</text>
<text transform="translate(537.3,1459.3) scale(0.94,1)" x="0" y="0" font-size="24" font-weight="normal" fill="#939393">0.95</text>
<text transform="translate(635.5,1459.3) scale(0.94,1)" x="0" y="0" font-size="24" font-weight="normal" fill="#939393">0.85</text>
<text transform="translate(173.5,1584.7) scale(0.94,1)" x="0" y="0" font-size="24" font-weight="normal" fill="#939393">1.57</text>
<text transform="translate(265.5,1584.7) scale(0.94,1)" x="0" y="0" font-size="24" font-weight="normal" fill="#939393">1.45</text>
<text transform="translate(354.0,1584.7) scale(0.94,1)" x="0" y="0" font-size="24" font-weight="normal" fill="#939393">1.04</text>
<text transform="translate(438.6,1584.7) scale(0.94,1)" x="0" y="0" font-size="24" font-weight="normal" fill="#939393">0.93</text>
<text transform="translate(531.5,1584.7) scale(0.94,1)" x="0" y="0" font-size="24" font-weight="normal" fill="#939393">0.76</text>
<text transform="translate(628.7,1584.7) scale(0.94,1)" x="0" y="0" font-size="24" font-weight="normal" fill="#939393">0.62</text>
<text x="705.0" y="1176.5" font-size="23" font-weight="normal" fill="#7c7c7c">p = 0.3856</text>
<text x="705.0" y="1318.5" font-size="23" font-weight="normal" fill="#7c7c7c">p = 0.0337</text>
<text x="705.0" y="1459.3" font-size="23" font-weight="normal" fill="#7c7c7c">p = 0.3205</text>
<text x="705.0" y="1581.4" font-size="23" font-weight="normal" fill="#7c7c7c">p = 0.0169</text>
<line x1="709.00" y1="1140.20" x2="740.00" y2="1140.20" stroke="#333" stroke-width="1.5"/>
<text x="745.0" y="1142.8" font-size="16.6" font-weight="normal" fill="#222">250kDa</text>
<line x1="709.00" y1="1262.50" x2="740.00" y2="1262.50" stroke="#333" stroke-width="1.5"/>
<text x="745.0" y="1265.1" font-size="16.6" font-weight="normal" fill="#222">100kDa</text>
<line x1="709.00" y1="1398.00" x2="740.00" y2="1398.00" stroke="#333" stroke-width="1.5"/>
<text x="745.0" y="1400.6" font-size="16.6" font-weight="normal" fill="#222">250kDa</text>
<line x1="709.00" y1="1509.00" x2="740.00" y2="1509.00" stroke="#333" stroke-width="1.5"/>
<text x="745.0" y="1511.6" font-size="16.6" font-weight="normal" fill="#222">37kDa</text>
<line x1="705.90" y1="1687.00" x2="736.90" y2="1687.00" stroke="#333" stroke-width="1.5"/>
<text x="741.9" y="1689.6" font-size="16.6" font-weight="normal" fill="#222">37kDa</text>
<text x="1009.5" y="1113.1" font-size="39.5" font-weight="bold" fill="#000">Plasma Glucose</text>
<text x="1044.9" y="1169.0" font-size="39.5" font-weight="bold" fill="#000">Enrichment</text>
<rect x="1073.20" y="1213.50" width="8.80" height="426.10" fill="#000"/>
<rect x="1065.30" y="1631.10" width="220.40" height="8.50" fill="#000"/>
<rect x="1065.30" y="1631.10" width="10.00" height="8.60" fill="#000"/>
<text x="1043.2" y="1646.0" font-size="29.6" font-weight="bold" fill="#000">0</text>
<rect x="1065.30" y="1547.62" width="10.00" height="8.60" fill="#000"/>
<text x="1026.2" y="1562.5" font-size="29.6" font-weight="bold" fill="#000">20</text>
<rect x="1065.30" y="1464.14" width="10.00" height="8.60" fill="#000"/>
<text x="1026.2" y="1479.0" font-size="29.6" font-weight="bold" fill="#000">40</text>
<rect x="1065.30" y="1380.66" width="10.00" height="8.60" fill="#000"/>
<text x="1026.2" y="1395.6" font-size="29.6" font-weight="bold" fill="#000">60</text>
<rect x="1065.30" y="1297.18" width="10.00" height="8.60" fill="#000"/>
<text x="1026.2" y="1312.1" font-size="29.6" font-weight="bold" fill="#000">80</text>
<rect x="1065.30" y="1213.70" width="10.00" height="8.60" fill="#000"/>
<text x="1010.2" y="1228.6" font-size="29.6" font-weight="bold" fill="#000">100</text>
<rect x="1131.80" y="1408.83" width="99.70" height="226.57" fill="#f5b460"/>
<rect x="1131.8" y="1408.9" width="99.7" height="226.5" fill="#f5b460" stroke="#000" stroke-width="6.2"/>
<line x1="1182.50" y1="1366.40" x2="1182.50" y2="1445.70" stroke="#000" stroke-width="3.5"/>
<line x1="1155.00" y1="1366.40" x2="1209.00" y2="1366.40" stroke="#000" stroke-width="3.5"/>
<line x1="1155.00" y1="1445.70" x2="1209.00" y2="1445.70" stroke="#000" stroke-width="3.5"/>
<circle cx="1169.3" cy="1311.0" r="5.8" fill="#dc8a26" stroke="#b5731f" stroke-width="1.2"/>
<circle cx="1194.3" cy="1321.4" r="5.8" fill="#dc8a26" stroke="#b5731f" stroke-width="1.2"/>
<circle cx="1182.5" cy="1425.0" r="5.8" fill="#dc8a26" stroke="#b5731f" stroke-width="1.2"/>
<circle cx="1182.5" cy="1452.0" r="5.8" fill="#dc8a26" stroke="#b5731f" stroke-width="1.2"/>
<circle cx="1182.5" cy="1520.0" r="5.8" fill="#dc8a26" stroke="#b5731f" stroke-width="1.2"/>
<text transform="translate(1007.5,1426.0) rotate(-90)" x="-173.0" y="0" font-size="34.5" font-weight="bold" fill="#000">Percent m+6 Labeled</text>
<text x="1139.0" y="1682.3" font-size="35" font-weight="bold" fill="#ec9a3b">Liver</text>
<text x="1140.2" y="1721.0" font-size="35" font-weight="bold" fill="#000">tumor</text>
<text x="1598.8" y="1100.9" font-size="42.6" font-weight="bold" fill="#000">Pyruvate</text>
<rect x="1528.00" y="1170.00" width="8.00" height="457.20" fill="#000"/>
<rect x="1519.00" y="1619.20" width="461.00" height="8.50" fill="#000"/>
<rect x="1519.30" y="1619.20" width="10.00" height="8.00" fill="#000"/>
<text x="1493.5" y="1635.2" font-size="33" font-weight="bold" fill="#000">0</text>
<rect x="1519.30" y="1394.60" width="10.00" height="8.00" fill="#000"/>
<text x="1475.5" y="1410.6" font-size="33" font-weight="bold" fill="#000">50</text>
<rect x="1519.30" y="1170.00" width="10.00" height="8.00" fill="#000"/>
<text x="1456.5" y="1186.0" font-size="33" font-weight="bold" fill="#000">100</text>
<rect x="1560.0" y="1547.6" width="46.0" height="75.6" fill="#f6bd72" stroke="#000" stroke-width="6"/>
<rect x="1619.8" y="1518.4" width="45.2" height="104.8" fill="#8e8e8e" stroke="#000" stroke-width="6"/>
<rect x="1704.0" y="1557.6" width="45.5" height="65.6" fill="#f6bd72" stroke="#000" stroke-width="6"/>
<rect x="1762.6" y="1579.0" width="45.8" height="44.2" fill="#8e8e8e" stroke="#000" stroke-width="6"/>
<rect x="1847.6" y="1335.0" width="45.1" height="288.2" fill="#f6bd72" stroke="#000" stroke-width="6"/>
<rect x="1906.6" y="1530.9" width="45.8" height="92.3" fill="#8e8e8e" stroke="#000" stroke-width="6"/>
<circle cx="1582.9" cy="1451.1" r="5.8" fill="#d98a2c" stroke="#b5731f" stroke-width="1.2" fill-opacity="0.95"/>
<circle cx="1573.2" cy="1546.8" r="5.8" fill="#d98a2c" stroke="#b5731f" stroke-width="1.2" fill-opacity="0.95"/>
<circle cx="1592.9" cy="1549.3" r="5.8" fill="#d98a2c" stroke="#b5731f" stroke-width="1.2" fill-opacity="0.95"/>
<circle cx="1564.3" cy="1575.4" r="5.8" fill="#d98a2c" stroke="#b5731f" stroke-width="1.2" fill-opacity="0.95"/>
<circle cx="1583.2" cy="1568.9" r="5.8" fill="#d98a2c" stroke="#b5731f" stroke-width="1.2" fill-opacity="0.95"/>
<circle cx="1602.5" cy="1575.0" r="5.8" fill="#d98a2c" stroke="#b5731f" stroke-width="1.2" fill-opacity="0.95"/>
<circle cx="1707.1" cy="1527.9" r="5.8" fill="#d98a2c" stroke="#b5731f" stroke-width="1.2" fill-opacity="0.95"/>
<circle cx="1726.1" cy="1540.4" r="5.8" fill="#d98a2c" stroke="#b5731f" stroke-width="1.2" fill-opacity="0.95"/>
<circle cx="1745.4" cy="1533.2" r="5.8" fill="#d98a2c" stroke="#b5731f" stroke-width="1.2" fill-opacity="0.95"/>
<circle cx="1707.1" cy="1573.6" r="5.8" fill="#d98a2c" stroke="#b5731f" stroke-width="1.2" fill-opacity="0.95"/>
<circle cx="1726.1" cy="1571.8" r="5.8" fill="#d98a2c" stroke="#b5731f" stroke-width="1.2" fill-opacity="0.95"/>
<circle cx="1745.4" cy="1573.6" r="5.8" fill="#d98a2c" stroke="#b5731f" stroke-width="1.2" fill-opacity="0.95"/>
<circle cx="1870.7" cy="1193.9" r="5.8" fill="#d98a2c" stroke="#b5731f" stroke-width="1.2" fill-opacity="0.95"/>
<circle cx="1870.7" cy="1252.1" r="5.8" fill="#d98a2c" stroke="#b5731f" stroke-width="1.2" fill-opacity="0.95"/>
<circle cx="1870.7" cy="1335.0" r="5.8" fill="#d98a2c" stroke="#b5731f" stroke-width="1.2" fill-opacity="0.95"/>
<circle cx="1870.7" cy="1356.4" r="5.8" fill="#d98a2c" stroke="#b5731f" stroke-width="1.2" fill-opacity="0.95"/>
<circle cx="1870.7" cy="1395.0" r="5.8" fill="#d98a2c" stroke="#b5731f" stroke-width="1.2" fill-opacity="0.95"/>
<circle cx="1870.7" cy="1454.6" r="5.8" fill="#d98a2c" stroke="#b5731f" stroke-width="1.2" fill-opacity="0.95"/>
<circle cx="1642.1" cy="1360.0" r="5.8" fill="#7e7e7e" stroke="#6a6a6a" stroke-width="1.2" fill-opacity="0.95"/>
<circle cx="1642.1" cy="1517.1" r="5.8" fill="#7e7e7e" stroke="#6a6a6a" stroke-width="1.2" fill-opacity="0.95"/>
<circle cx="1642.1" cy="1542.9" r="5.8" fill="#7e7e7e" stroke="#6a6a6a" stroke-width="1.2" fill-opacity="0.95"/>
<circle cx="1642.1" cy="1565.4" r="5.8" fill="#7e7e7e" stroke="#6a6a6a" stroke-width="1.2" fill-opacity="0.95"/>
<circle cx="1642.1" cy="1590.4" r="5.8" fill="#7e7e7e" stroke="#6a6a6a" stroke-width="1.2" fill-opacity="0.95"/>
<circle cx="1767.1" cy="1567.1" r="5.8" fill="#7e7e7e" stroke="#6a6a6a" stroke-width="1.2" fill-opacity="0.95"/>
<circle cx="1804.6" cy="1566.1" r="5.8" fill="#7e7e7e" stroke="#6a6a6a" stroke-width="1.2" fill-opacity="0.95"/>
<circle cx="1767.1" cy="1588.6" r="5.8" fill="#7e7e7e" stroke="#6a6a6a" stroke-width="1.2" fill-opacity="0.95"/>
<circle cx="1804.6" cy="1581.4" r="5.8" fill="#7e7e7e" stroke="#6a6a6a" stroke-width="1.2" fill-opacity="0.95"/>
<circle cx="1785.7" cy="1576.8" r="5.8" fill="#7e7e7e" stroke="#6a6a6a" stroke-width="1.2" fill-opacity="0.95"/>
<circle cx="1929.6" cy="1486.8" r="5.8" fill="#7e7e7e" stroke="#6a6a6a" stroke-width="1.2" fill-opacity="0.95"/>
<circle cx="1910.7" cy="1531.4" r="5.8" fill="#7e7e7e" stroke="#6a6a6a" stroke-width="1.2" fill-opacity="0.95"/>
<circle cx="1948.9" cy="1531.4" r="5.8" fill="#7e7e7e" stroke="#6a6a6a" stroke-width="1.2" fill-opacity="0.95"/>
<circle cx="1929.6" cy="1528.6" r="5.8" fill="#7e7e7e" stroke="#6a6a6a" stroke-width="1.2" fill-opacity="0.95"/>
<circle cx="1929.6" cy="1552.9" r="5.8" fill="#7e7e7e" stroke="#6a6a6a" stroke-width="1.2" fill-opacity="0.95"/>
<line x1="1582.90" y1="1525.40" x2="1582.90" y2="1563.60" stroke="#000" stroke-width="3.5"/>
<line x1="1569.50" y1="1525.40" x2="1596.30" y2="1525.40" stroke="#000" stroke-width="3.5"/>
<line x1="1569.50" y1="1563.60" x2="1596.30" y2="1563.60" stroke="#000" stroke-width="3.5"/>
<line x1="1642.00" y1="1475.00" x2="1642.00" y2="1555.70" stroke="#000" stroke-width="3.5"/>
<line x1="1628.60" y1="1475.00" x2="1655.40" y2="1475.00" stroke="#000" stroke-width="3.5"/>
<line x1="1628.60" y1="1555.70" x2="1655.40" y2="1555.70" stroke="#000" stroke-width="3.5"/>
<line x1="1726.00" y1="1545.00" x2="1726.00" y2="1561.80" stroke="#000" stroke-width="3.5"/>
<line x1="1712.60" y1="1545.00" x2="1739.40" y2="1545.00" stroke="#000" stroke-width="3.5"/>
<line x1="1712.60" y1="1561.80" x2="1739.40" y2="1561.80" stroke="#000" stroke-width="3.5"/>
<line x1="1785.70" y1="1572.50" x2="1785.70" y2="1581.40" stroke="#000" stroke-width="3.5"/>
<line x1="1772.30" y1="1572.50" x2="1799.10" y2="1572.50" stroke="#000" stroke-width="3.5"/>
<line x1="1772.30" y1="1581.40" x2="1799.10" y2="1581.40" stroke="#000" stroke-width="3.5"/>
<line x1="1870.70" y1="1292.00" x2="1870.70" y2="1370.00" stroke="#000" stroke-width="3.5"/>
<line x1="1857.30" y1="1292.00" x2="1884.10" y2="1292.00" stroke="#000" stroke-width="3.5"/>
<line x1="1857.30" y1="1370.00" x2="1884.10" y2="1370.00" stroke="#000" stroke-width="3.5"/>
<line x1="1929.60" y1="1517.90" x2="1929.60" y2="1538.60" stroke="#000" stroke-width="3.5"/>
<line x1="1916.20" y1="1517.90" x2="1943.00" y2="1517.90" stroke="#000" stroke-width="3.5"/>
<line x1="1916.20" y1="1538.60" x2="1943.00" y2="1538.60" stroke="#000" stroke-width="3.5"/>
<rect x="1566.9" y="1205.9" width="47.9" height="25.2" fill="#f6bd72" stroke="#000" stroke-width="5.8"/>
<rect x="1567.9" y="1274.2" width="47.7" height="25.5" fill="#8e8e8e" stroke="#000" stroke-width="5.8"/>
<text x="1628.8" y="1230.8" font-size="36.3" fill="#ec9a3b">Liver<tspan fill="#000"> Tumors</tspan></text>
<text x="1628.3" y="1299.8" font-size="36.3" font-weight="normal" fill="#000">Liver</text>
<text transform="translate(1576.5,1661.8) scale(0.95,1)" x="0" y="0" font-size="34.5" font-weight="bold" fill="#000">m+1</text>
<text transform="translate(1721.3,1661.8) scale(0.95,1)" x="0" y="0" font-size="34.5" font-weight="bold" fill="#000">m+2</text>
<text transform="translate(1866.3,1661.8) scale(0.95,1)" x="0" y="0" font-size="34.5" font-weight="bold" fill="#000">m+3</text>
<text x="1636.6" y="1722.3" font-size="36" font-weight="bold" fill="#000">Isotopomer</text>
<text transform="translate(1458.4,1399.4) rotate(-90)" x="-147.0" y="0" font-size="38" font-weight="bold" fill="#000">Percent Labeled</text>
<text x="444.9" y="1937.6" font-size="42.5" font-weight="bold" fill="#000">Palmitate</text>
<rect x="115.80" y="2001.80" width="9.40" height="457.40" fill="#000"/>
<line x1="108.5" y1="2454.5" x2="1016" y2="2454.5" stroke="#000" stroke-width="9.4" stroke-linecap="round"/>
<rect x="107.70" y="2450.00" width="10.00" height="9.00" fill="#000"/>
<text x="85.0" y="2465.8" font-size="31.5" font-weight="bold" fill="#000">0</text>
<rect x="107.70" y="2360.10" width="10.00" height="9.00" fill="#000"/>
<text x="85.0" y="2375.9" font-size="31.5" font-weight="bold" fill="#000">2</text>
<rect x="107.70" y="2270.20" width="10.00" height="9.00" fill="#000"/>
<text x="84.0" y="2286.0" font-size="31.5" font-weight="bold" fill="#000">4</text>
<rect x="107.70" y="2180.30" width="10.00" height="9.00" fill="#000"/>
<text x="85.0" y="2196.1" font-size="31.5" font-weight="bold" fill="#000">6</text>
<rect x="107.70" y="2090.40" width="10.00" height="9.00" fill="#000"/>
<text x="84.0" y="2106.2" font-size="31.5" font-weight="bold" fill="#000">8</text>
<rect x="107.70" y="2000.50" width="10.00" height="9.00" fill="#000"/>
<text x="67.0" y="2016.3" font-size="31.5" font-weight="bold" fill="#000">10</text>
<rect x="143.0" y="2228.3" width="34.5" height="226.2" fill="#f6bd72" stroke="#000" stroke-width="6"/>
<rect x="188.8" y="2432.8" width="34.2" height="21.7" fill="#8e8e8e" stroke="#000" stroke-width="6"/>
<rect x="253.2" y="2268.7" width="34.5" height="185.8" fill="#f6bd72" stroke="#000" stroke-width="6"/>
<rect x="363.4" y="2324.9" width="34.5" height="129.6" fill="#f6bd72" stroke="#000" stroke-width="6"/>
<rect x="473.6" y="2377.9" width="34.5" height="76.6" fill="#f6bd72" stroke="#000" stroke-width="6"/>
<rect x="583.8" y="2418.4" width="34.5" height="36.1" fill="#f6bd72" stroke="#000" stroke-width="6"/>
<rect x="694.0" y="2444.0" width="34.5" height="10.5" fill="#f6bd72" stroke="#000" stroke-width="6"/>
<circle cx="160.5" cy="2037.6" r="5.6" fill="#d98a2c" stroke="#b5731f" stroke-width="1"/>
<circle cx="160.5" cy="2079.1" r="5.6" fill="#d98a2c" stroke="#b5731f" stroke-width="1"/>
<circle cx="147.3" cy="2286.9" r="5.6" fill="#d98a2c" stroke="#b5731f" stroke-width="1"/>
<circle cx="173.2" cy="2286.9" r="5.6" fill="#d98a2c" stroke="#b5731f" stroke-width="1"/>
<circle cx="160.5" cy="2318.6" r="5.6" fill="#d98a2c" stroke="#b5731f" stroke-width="1"/>
<circle cx="160.5" cy="2340.7" r="5.6" fill="#d98a2c" stroke="#b5731f" stroke-width="1"/>
<circle cx="270.8" cy="2153.1" r="5.6" fill="#d98a2c" stroke="#b5731f" stroke-width="1"/>
<circle cx="270.8" cy="2168.7" r="5.6" fill="#d98a2c" stroke="#b5731f" stroke-width="1"/>
<circle cx="270.8" cy="2254.0" r="5.6" fill="#d98a2c" stroke="#b5731f" stroke-width="1"/>
<circle cx="270.8" cy="2269.8" r="5.6" fill="#d98a2c" stroke="#b5731f" stroke-width="1"/>
<circle cx="270.8" cy="2361.0" r="5.6" fill="#d98a2c" stroke="#b5731f" stroke-width="1"/>
<circle cx="270.8" cy="2389.2" r="5.6" fill="#d98a2c" stroke="#b5731f" stroke-width="1"/>
<circle cx="367.8" cy="2270.7" r="5.6" fill="#d98a2c" stroke="#b5731f" stroke-width="1"/>
<circle cx="394.2" cy="2267.8" r="5.6" fill="#d98a2c" stroke="#b5731f" stroke-width="1"/>
<circle cx="367.8" cy="2290.4" r="5.6" fill="#d98a2c" stroke="#b5731f" stroke-width="1"/>
<circle cx="393.6" cy="2283.9" r="5.6" fill="#d98a2c" stroke="#b5731f" stroke-width="1"/>
<circle cx="380.4" cy="2398.0" r="5.6" fill="#d98a2c" stroke="#b5731f" stroke-width="1"/>
<circle cx="380.4" cy="2419.2" r="5.6" fill="#d98a2c" stroke="#b5731f" stroke-width="1"/>
<circle cx="491.2" cy="2322.7" r="5.6" fill="#d98a2c" stroke="#b5731f" stroke-width="1"/>
<circle cx="478.0" cy="2347.1" r="5.6" fill="#d98a2c" stroke="#b5731f" stroke-width="1"/>
<circle cx="504.4" cy="2352.1" r="5.6" fill="#d98a2c" stroke="#b5731f" stroke-width="1"/>
<circle cx="478.0" cy="2363.9" r="5.6" fill="#d98a2c" stroke="#b5731f" stroke-width="1"/>
<circle cx="503.9" cy="2428.0" r="5.6" fill="#d98a2c" stroke="#b5731f" stroke-width="1"/>
<circle cx="478.0" cy="2438.3" r="5.6" fill="#d98a2c" stroke="#b5731f" stroke-width="1"/>
<circle cx="205.3" cy="2403.6" r="6.1" fill="#7d7d7d" stroke="#6c6c6c" stroke-width="1"/>
<circle cx="201.0" cy="2412.6" r="6.1" fill="#7d7d7d" stroke="#6c6c6c" stroke-width="1"/>
<circle cx="207.0" cy="2418.0" r="6.1" fill="#7d7d7d" stroke="#6c6c6c" stroke-width="1"/>
<circle cx="214.2" cy="2423.9" r="6.1" fill="#7d7d7d" stroke="#6c6c6c" stroke-width="1"/>
<circle cx="198.2" cy="2429.5" r="6.1" fill="#7d7d7d" stroke="#6c6c6c" stroke-width="1"/>
<circle cx="210.5" cy="2429.5" r="6.1" fill="#7d7d7d" stroke="#6c6c6c" stroke-width="1"/>
<circle cx="192.6" cy="2440.8" r="6.1" fill="#7d7d7d" stroke="#6c6c6c" stroke-width="1"/>
<circle cx="219.0" cy="2437.0" r="6.1" fill="#7d7d7d" stroke="#6c6c6c" stroke-width="1"/>
<circle cx="201.0" cy="2442.7" r="6.1" fill="#7d7d7d" stroke="#6c6c6c" stroke-width="1"/>
<circle cx="212.3" cy="2449.3" r="6.1" fill="#7d7d7d" stroke="#6c6c6c" stroke-width="1"/>
<circle cx="205.7" cy="2439.0" r="6.1" fill="#7d7d7d" stroke="#6c6c6c" stroke-width="1"/>
<circle cx="217.0" cy="2442.7" r="6.1" fill="#7d7d7d" stroke="#6c6c6c" stroke-width="1"/>
<circle cx="196.0" cy="2436.0" r="6.1" fill="#7d7d7d" stroke="#6c6c6c" stroke-width="1"/>
<circle cx="222.0" cy="2444.0" r="6.1" fill="#7d7d7d" stroke="#6c6c6c" stroke-width="1"/>
<circle cx="315.8" cy="2423.4" r="6.1" fill="#7d7d7d" stroke="#6c6c6c" stroke-width="1"/>
<circle cx="314.9" cy="2434.2" r="6.1" fill="#7d7d7d" stroke="#6c6c6c" stroke-width="1"/>
<circle cx="303.6" cy="2442.7" r="6.1" fill="#7d7d7d" stroke="#6c6c6c" stroke-width="1"/>
<circle cx="309.2" cy="2446.4" r="6.1" fill="#7d7d7d" stroke="#6c6c6c" stroke-width="1"/>
<circle cx="320.5" cy="2445.5" r="6.1" fill="#7d7d7d" stroke="#6c6c6c" stroke-width="1"/>
<circle cx="325.2" cy="2448.3" r="6.1" fill="#7d7d7d" stroke="#6c6c6c" stroke-width="1"/>
<circle cx="301.7" cy="2450.2" r="6.1" fill="#7d7d7d" stroke="#6c6c6c" stroke-width="1"/>
<circle cx="312.0" cy="2450.0" r="6.1" fill="#7d7d7d" stroke="#6c6c6c" stroke-width="1"/>
<circle cx="330.0" cy="2450.0" r="6.1" fill="#7d7d7d" stroke="#6c6c6c" stroke-width="1"/>
<circle cx="425.4" cy="2428.9" r="5.8" fill="#7d7d7d" stroke="#6c6c6c" stroke-width="1"/>
<circle cx="415.7" cy="2444.1" r="5.8" fill="#7d7d7d" stroke="#6c6c6c" stroke-width="1"/>
<circle cx="433.3" cy="2448.6" r="5.8" fill="#7d7d7d" stroke="#6c6c6c" stroke-width="1"/>
<circle cx="412.7" cy="2451.5" r="5.8" fill="#7d7d7d" stroke="#6c6c6c" stroke-width="1"/>
<circle cx="439.2" cy="2453.0" r="5.8" fill="#7d7d7d" stroke="#6c6c6c" stroke-width="1"/>
<circle cx="424.5" cy="2453.0" r="5.8" fill="#7d7d7d" stroke="#6c6c6c" stroke-width="1"/>
<circle cx="420.1" cy="2450.0" r="5.8" fill="#7d7d7d" stroke="#6c6c6c" stroke-width="1"/>
<circle cx="430.4" cy="2452.1" r="5.8" fill="#7d7d7d" stroke="#6c6c6c" stroke-width="1"/>
<circle cx="536.2" cy="2438.3" r="5.8" fill="#7d7d7d" stroke="#6c6c6c" stroke-width="1"/>
<circle cx="524.4" cy="2447.1" r="5.8" fill="#7d7d7d" stroke="#6c6c6c" stroke-width="1"/>
<circle cx="545.0" cy="2451.5" r="5.8" fill="#7d7d7d" stroke="#6c6c6c" stroke-width="1"/>
<circle cx="527.4" cy="2453.0" r="5.8" fill="#7d7d7d" stroke="#6c6c6c" stroke-width="1"/>
<circle cx="533.3" cy="2453.0" r="5.8" fill="#7d7d7d" stroke="#6c6c6c" stroke-width="1"/>
<circle cx="540.6" cy="2453.0" r="5.8" fill="#7d7d7d" stroke="#6c6c6c" stroke-width="1"/>
<circle cx="521.5" cy="2453.0" r="5.8" fill="#7d7d7d" stroke="#6c6c6c" stroke-width="1"/>
<circle cx="600.8" cy="2385.8" r="5.6" fill="#d98a2c" stroke="#b5731f" stroke-width="1"/>
<circle cx="587.9" cy="2402.3" r="5.6" fill="#d98a2c" stroke="#b5731f" stroke-width="1"/>
<circle cx="614.1" cy="2403.5" r="5.6" fill="#d98a2c" stroke="#b5731f" stroke-width="1"/>
<circle cx="600.8" cy="2414.6" r="5.6" fill="#d98a2c" stroke="#b5731f" stroke-width="1"/>
<circle cx="594.4" cy="2446.1" r="5.6" fill="#d98a2c" stroke="#b5731f" stroke-width="1"/>
<circle cx="607.6" cy="2442.6" r="5.6" fill="#d98a2c" stroke="#b5731f" stroke-width="1"/>
<circle cx="698.7" cy="2433.7" r="5.6" fill="#d98a2c" stroke="#b5731f" stroke-width="1"/>
<circle cx="715.8" cy="2427.0" r="5.6" fill="#d98a2c" stroke="#b5731f" stroke-width="1"/>
<circle cx="700.2" cy="2439.6" r="5.6" fill="#d98a2c" stroke="#b5731f" stroke-width="1"/>
<circle cx="725.2" cy="2440.5" r="5.6" fill="#d98a2c" stroke="#b5731f" stroke-width="1"/>
<circle cx="698.7" cy="2450.8" r="5.6" fill="#d98a2c" stroke="#b5731f" stroke-width="1"/>
<circle cx="715.8" cy="2451.4" r="5.6" fill="#d98a2c" stroke="#b5731f" stroke-width="1"/>
<circle cx="809.0" cy="2454.3" r="5.6" fill="#d98a2c" stroke="#b5731f" stroke-width="1"/>
<circle cx="814.8" cy="2448.4" r="5.6" fill="#d98a2c" stroke="#b5731f" stroke-width="1"/>
<circle cx="822.2" cy="2447.0" r="5.6" fill="#d98a2c" stroke="#b5731f" stroke-width="1"/>
<circle cx="829.5" cy="2449.9" r="5.6" fill="#d98a2c" stroke="#b5731f" stroke-width="1"/>
<circle cx="835.4" cy="2452.9" r="5.6" fill="#d98a2c" stroke="#b5731f" stroke-width="1"/>
<circle cx="813.4" cy="2455.2" r="5.6" fill="#d98a2c" stroke="#b5731f" stroke-width="1"/>
<circle cx="832.5" cy="2455.8" r="5.6" fill="#d98a2c" stroke="#b5731f" stroke-width="1"/>
<circle cx="634.1" cy="2444.0" r="5.8" fill="#7d7d7d" stroke="#6c6c6c" stroke-width="1"/>
<circle cx="639.9" cy="2447.0" r="5.8" fill="#7d7d7d" stroke="#6c6c6c" stroke-width="1"/>
<circle cx="645.8" cy="2450.5" r="5.8" fill="#7d7d7d" stroke="#6c6c6c" stroke-width="1"/>
<circle cx="653.2" cy="2451.4" r="5.8" fill="#7d7d7d" stroke="#6c6c6c" stroke-width="1"/>
<circle cx="659.0" cy="2452.3" r="5.8" fill="#7d7d7d" stroke="#6c6c6c" stroke-width="1"/>
<circle cx="632.6" cy="2452.9" r="5.8" fill="#7d7d7d" stroke="#6c6c6c" stroke-width="1"/>
<circle cx="742.8" cy="2445.5" r="5.8" fill="#7d7d7d" stroke="#6c6c6c" stroke-width="1"/>
<circle cx="748.7" cy="2448.4" r="5.8" fill="#7d7d7d" stroke="#6c6c6c" stroke-width="1"/>
<circle cx="756.0" cy="2450.5" r="5.8" fill="#7d7d7d" stroke="#6c6c6c" stroke-width="1"/>
<circle cx="763.4" cy="2451.4" r="5.8" fill="#7d7d7d" stroke="#6c6c6c" stroke-width="1"/>
<circle cx="770.7" cy="2452.3" r="5.8" fill="#7d7d7d" stroke="#6c6c6c" stroke-width="1"/>
<circle cx="745.8" cy="2453.4" r="5.8" fill="#7d7d7d" stroke="#6c6c6c" stroke-width="1"/>
<circle cx="854.5" cy="2447.0" r="5.8" fill="#7d7d7d" stroke="#6c6c6c" stroke-width="1"/>
<circle cx="860.4" cy="2450.5" r="5.8" fill="#7d7d7d" stroke="#6c6c6c" stroke-width="1"/>
<circle cx="867.7" cy="2451.4" r="5.8" fill="#7d7d7d" stroke="#6c6c6c" stroke-width="1"/>
<circle cx="875.1" cy="2452.0" r="5.8" fill="#7d7d7d" stroke="#6c6c6c" stroke-width="1"/>
<circle cx="881.0" cy="2452.9" r="5.8" fill="#7d7d7d" stroke="#6c6c6c" stroke-width="1"/>
<circle cx="851.6" cy="2453.4" r="5.8" fill="#7d7d7d" stroke="#6c6c6c" stroke-width="1"/>
<line x1="916.8" y1="2454.3" x2="947.1" y2="2454.3" stroke="#d5882e" stroke-width="11" stroke-linecap="round"/>
<line x1="962.7" y1="2453.4" x2="992.7" y2="2453.4" stroke="#7d7d7d" stroke-width="11" stroke-linecap="round"/>
<line x1="160.50" y1="2171.70" x2="160.50" y2="2278.00" stroke="#000" stroke-width="3.2"/>
<line x1="149.80" y1="2171.70" x2="171.20" y2="2171.70" stroke="#000" stroke-width="3.2"/>
<line x1="149.80" y1="2278.00" x2="171.20" y2="2278.00" stroke="#000" stroke-width="3.2"/>
<line x1="270.80" y1="2226.60" x2="270.80" y2="2306.00" stroke="#000" stroke-width="3.2"/>
<line x1="260.10" y1="2226.60" x2="281.50" y2="2226.60" stroke="#000" stroke-width="3.2"/>
<line x1="260.10" y1="2306.00" x2="281.50" y2="2306.00" stroke="#000" stroke-width="3.2"/>
<line x1="381.30" y1="2294.20" x2="381.30" y2="2349.20" stroke="#000" stroke-width="3.2"/>
<line x1="370.60" y1="2294.20" x2="392.00" y2="2294.20" stroke="#000" stroke-width="3.2"/>
<line x1="370.60" y1="2349.20" x2="392.00" y2="2349.20" stroke="#000" stroke-width="3.2"/>
<line x1="491.20" y1="2356.50" x2="491.20" y2="2394.20" stroke="#000" stroke-width="3.2"/>
<line x1="480.50" y1="2356.50" x2="501.90" y2="2356.50" stroke="#000" stroke-width="3.2"/>
<line x1="480.50" y1="2394.20" x2="501.90" y2="2394.20" stroke="#000" stroke-width="3.2"/>
<line x1="600.80" y1="2405.20" x2="600.80" y2="2425.80" stroke="#000" stroke-width="3.2"/>
<line x1="590.10" y1="2405.20" x2="611.50" y2="2405.20" stroke="#000" stroke-width="3.2"/>
<line x1="590.10" y1="2425.80" x2="611.50" y2="2425.80" stroke="#000" stroke-width="3.2"/>
<line x1="715.50" y1="2436.70" x2="715.50" y2="2443.40" stroke="#000" stroke-width="3.2"/>
<line x1="704.80" y1="2436.70" x2="726.20" y2="2436.70" stroke="#000" stroke-width="3.2"/>
<line x1="704.80" y1="2443.40" x2="726.20" y2="2443.40" stroke="#000" stroke-width="3.2"/>
<line x1="811.90" y1="2451.38" x2="831.59" y2="2451.38" stroke="#000" stroke-width="4"/>
<rect x="695.1" y="2041.9" width="47.9" height="25.2" fill="#f6bd72" stroke="#000" stroke-width="6.2"/>
<rect x="695.8" y="2110.3" width="47.8" height="25.1" fill="#8e8e8e" stroke="#000" stroke-width="6.2"/>
<text x="756.3" y="2067" font-size="36" fill="#ec9a3b">Liver<tspan fill="#000"> Tumors</tspan></text>
<text x="757.2" y="2135.8" font-size="36" font-weight="normal" fill="#000">Liver</text>
<text x="149.9" y="2489.6" font-size="32.6" font-weight="bold" fill="#000">m+2</text>
<text x="259.6" y="2489.6" font-size="32.6" font-weight="bold" fill="#000">m+4</text>
<text x="370.3" y="2489.6" font-size="32.6" font-weight="bold" fill="#000">m+6</text>
<text x="480.5" y="2489.6" font-size="32.6" font-weight="bold" fill="#000">m+8</text>
<text x="581.7" y="2489.6" font-size="32.6" font-weight="bold" fill="#000">m+10</text>
<text x="691.9" y="2489.6" font-size="32.6" font-weight="bold" fill="#000">m+12</text>
<text x="801.6" y="2489.6" font-size="32.6" font-weight="bold" fill="#000">m+14</text>
<text x="912.3" y="2489.6" font-size="32.6" font-weight="bold" fill="#000">m+16</text>
<text x="388.0" y="2554.2" font-size="36" font-weight="bold" fill="#000">Palmitate isotopomer</text>
<text transform="translate(46.6,2228.7) rotate(-90)" x="-139.0" y="0" font-size="36" font-weight="bold" fill="#000">Percent Labeled</text>
<text x="1462.8" y="1937.6" font-size="43" font-weight="bold" fill="#000">BT474 <tspan fill="#ef9a35">Liver</tspan></text>
<rect x="1242.70" y="1988.50" width="5.70" height="453.50" fill="#222"/>
<rect x="1242.70" y="2436.35" width="678.80" height="5.70" fill="#222"/>
<rect x="1226.30" y="2436.40" width="18.00" height="5.60" fill="#222"/>
<text x="1204.8" y="2451.4" font-size="34" font-weight="bold" fill="#222">0</text>
<rect x="1226.30" y="2324.30" width="18.00" height="5.60" fill="#222"/>
<text x="1167.8" y="2339.3" font-size="34" font-weight="bold" fill="#222">100</text>
<rect x="1226.30" y="2212.20" width="18.00" height="5.60" fill="#222"/>
<text x="1167.8" y="2227.2" font-size="34" font-weight="bold" fill="#222">200</text>
<rect x="1226.30" y="2100.10" width="18.00" height="5.60" fill="#222"/>
<text x="1167.8" y="2115.1" font-size="34" font-weight="bold" fill="#222">300</text>
<rect x="1226.30" y="1988.00" width="18.00" height="5.60" fill="#222"/>
<text x="1167.8" y="2003.0" font-size="34" font-weight="bold" fill="#222">400</text>
<rect x="1242.15" y="2439.20" width="5.70" height="20.00" fill="#222"/>
<text x="1235.5" y="2491.9" font-size="34" font-weight="bold" fill="#222">0</text>
<rect x="1410.85" y="2439.20" width="5.70" height="20.00" fill="#222"/>
<text x="1394.7" y="2491.9" font-size="34" font-weight="bold" fill="#222">20</text>
<rect x="1579.55" y="2439.20" width="5.70" height="20.00" fill="#222"/>
<text x="1563.9" y="2491.9" font-size="34" font-weight="bold" fill="#222">40</text>
<rect x="1748.25" y="2439.20" width="5.70" height="20.00" fill="#222"/>
<text x="1732.1" y="2491.9" font-size="34" font-weight="bold" fill="#222">60</text>
<rect x="1916.95" y="2439.20" width="5.70" height="20.00" fill="#222"/>
<text x="1900.8" y="2491.9" font-size="34" font-weight="bold" fill="#222">80</text>
<text x="1383.1" y="2550.4" font-size="36.4" font-weight="bold" fill="#222">Days after implantation</text>
<text transform="translate(1142.7,2217.5) rotate(-90)" x="-175.0" y="0" font-size="35.5" font-weight="bold" fill="#222">Tumor Volume (mm³)</text>
<line x1="1531.79" y1="2408.93" x2="1531.79" y2="2423.95" stroke="#f0a03c" stroke-width="4.5"/>
<line x1="1518.39" y1="2408.93" x2="1545.19" y2="2408.93" stroke="#f0a03c" stroke-width="4.5"/>
<line x1="1518.39" y1="2423.95" x2="1545.19" y2="2423.95" stroke="#f0a03c" stroke-width="4.5"/>
<line x1="1565.53" y1="2280.02" x2="1565.53" y2="2373.96" stroke="#f0a03c" stroke-width="4.5"/>
<line x1="1552.13" y1="2280.02" x2="1578.93" y2="2280.02" stroke="#f0a03c" stroke-width="4.5"/>
<line x1="1552.13" y1="2373.96" x2="1578.93" y2="2373.96" stroke="#f0a03c" stroke-width="4.5"/>
<line x1="1624.58" y1="2094.72" x2="1624.58" y2="2268.25" stroke="#f0a03c" stroke-width="4.5"/>
<line x1="1611.17" y1="2094.72" x2="1637.98" y2="2094.72" stroke="#f0a03c" stroke-width="4.5"/>
<line x1="1611.17" y1="2268.25" x2="1637.98" y2="2268.25" stroke="#f0a03c" stroke-width="4.5"/>
<line x1="1751.10" y1="2049.76" x2="1751.10" y2="2182.83" stroke="#f0a03c" stroke-width="4.5"/>
<line x1="1737.70" y1="2049.76" x2="1764.50" y2="2049.76" stroke="#f0a03c" stroke-width="4.5"/>
<line x1="1737.70" y1="2182.83" x2="1764.50" y2="2182.83" stroke="#f0a03c" stroke-width="4.5"/>
<polyline points="1245.0,2439.2 1455.9,2424.1 1531.8,2413.0 1565.5,2327.1 1624.6,2181.4 1751.1,2115.8" fill="none" stroke="#f0a03c" stroke-width="6.5" stroke-linejoin="round"/>
<circle cx="1245.0" cy="2439.2" r="10" fill="#f0a03c"/>
<circle cx="1455.9" cy="2424.1" r="10" fill="#f0a03c"/>
<circle cx="1531.8" cy="2413.0" r="10" fill="#f0a03c"/>
<circle cx="1565.5" cy="2327.1" r="10" fill="#f0a03c"/>
<circle cx="1624.6" cy="2181.4" r="10" fill="#f0a03c"/>
<circle cx="1751.1" cy="2115.8" r="10" fill="#f0a03c"/>
<line x1="1531.79" y1="2373.96" x2="1531.79" y2="2402.43" stroke="#000" stroke-width="4.5"/>
<line x1="1519.29" y1="2373.96" x2="1544.29" y2="2373.96" stroke="#000" stroke-width="4.5"/>
<line x1="1519.29" y1="2402.43" x2="1544.29" y2="2402.43" stroke="#000" stroke-width="4.5"/>
<line x1="1565.53" y1="2311.18" x2="1565.53" y2="2348.74" stroke="#000" stroke-width="4.5"/>
<line x1="1553.03" y1="2311.18" x2="1578.03" y2="2311.18" stroke="#000" stroke-width="4.5"/>
<line x1="1553.03" y1="2348.74" x2="1578.03" y2="2348.74" stroke="#000" stroke-width="4.5"/>
<line x1="1624.58" y1="2200.65" x2="1624.58" y2="2257.60" stroke="#000" stroke-width="4.5"/>
<line x1="1612.08" y1="2200.65" x2="1637.08" y2="2200.65" stroke="#000" stroke-width="4.5"/>
<line x1="1612.08" y1="2257.60" x2="1637.08" y2="2257.60" stroke="#000" stroke-width="4.5"/>
<line x1="1751.10" y1="2053.58" x2="1751.10" y2="2116.80" stroke="#000" stroke-width="4.5"/>
<line x1="1738.60" y1="2053.58" x2="1763.60" y2="2053.58" stroke="#000" stroke-width="4.5"/>
<line x1="1738.60" y1="2116.80" x2="1763.60" y2="2116.80" stroke="#000" stroke-width="4.5"/>
<polyline points="1245.0,2439.2 1455.9,2429.2 1531.8,2388.3 1565.5,2328.6 1624.6,2229.8 1751.1,2085.7" fill="none" stroke="#000" stroke-width="7" stroke-linejoin="round"/>
<circle cx="1245.0" cy="2439.2" r="10.5" fill="#000"/>
<circle cx="1455.9" cy="2429.2" r="10.5" fill="#000"/>
<circle cx="1531.8" cy="2388.3" r="10.5" fill="#000"/>
<circle cx="1565.5" cy="2328.6" r="10.5" fill="#000"/>
<circle cx="1624.6" cy="2229.8" r="10.5" fill="#000"/>
<circle cx="1751.1" cy="2085.7" r="10.5" fill="#000"/>
<line x1="1293.5" y1="2046.3" x2="1341.5" y2="2046.3" stroke="#000" stroke-width="9" stroke-linecap="round"/>
<circle cx="1317.4" cy="2046.3" r="11.2" fill="#000"/>
<line x1="1293.5" y1="2107.2" x2="1341.5" y2="2107.2" stroke="#f0a03c" stroke-width="8.5" stroke-linecap="round"/>
<circle cx="1317.4" cy="2107.2" r="11.2" fill="#f0a03c"/>
<text x="1367.0" y="2059.9" font-size="35.6" font-weight="normal" fill="#000">Control</text>
<text x="1368.0" y="2120.2" font-size="35.6" font-weight="normal" fill="#000">sgFASN_1</text>
</svg>
</body></html>
